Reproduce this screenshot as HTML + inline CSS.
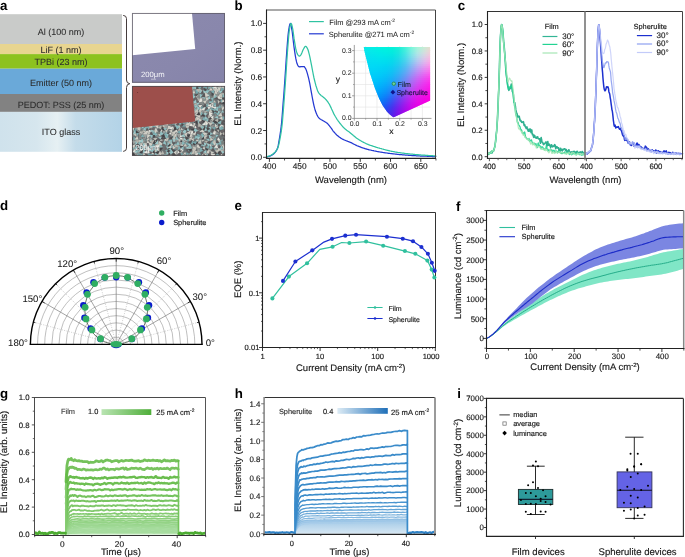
<!DOCTYPE html>
<html lang="en">
<head>
<meta charset="utf-8">
<title>Figure</title>
<style>
html,body{margin:0;padding:0;background:#fff;}
body{width:685px;height:557px;overflow:hidden;}
svg{display:block;font-family:"Liberation Sans",Arial,Helvetica,sans-serif;text-rendering:geometricPrecision;}
</style>
</head>
<body>
<svg width="685" height="557" viewBox="0 0 685 557">
<rect x="0" y="0" width="685" height="557" fill="#ffffff"/>
<g id="pa">
<text x="0" y="9.9" font-size="13.3" fill="#000" font-weight="bold">a</text>
<defs><linearGradient id="ito" x1="0" x2="1" y1="0" y2="0"><stop offset="0" stop-color="#cfe2ec"/><stop offset="0.3" stop-color="#d6e6ee"/><stop offset="0.47" stop-color="#e6f0f3"/><stop offset="0.62" stop-color="#c4dcea"/><stop offset="1" stop-color="#b3d3e7"/></linearGradient></defs>
<rect x="0" y="14.2" width="122" height="29.8" fill="#c9cbc9" stroke="none" stroke-width="0.8"/>
<rect x="0" y="44" width="122" height="10.1" fill="#e8d590" stroke="none" stroke-width="0.8"/>
<rect x="0" y="54.1" width="122" height="14.6" fill="#8dc21f" stroke="none" stroke-width="0.8"/>
<rect x="0" y="68.7" width="122" height="25.3" fill="#6aa9d9" stroke="none" stroke-width="0.8"/>
<rect x="0" y="94" width="122" height="17.9" fill="#828282" stroke="none" stroke-width="0.8"/>
<rect x="0" y="111.9" width="122" height="39.9" fill="url(#ito)" stroke="none" stroke-width="0.8"/>
<text x="61" y="35.1" font-size="9" text-anchor="middle" fill="#2b2b2b" stroke="#2b2b2b" stroke-width="0.06">Al (100 nm)</text>
<text x="61" y="52.9" font-size="9" text-anchor="middle" fill="#2b2b2b" stroke="#2b2b2b" stroke-width="0.06">LiF (1 nm)</text>
<text x="61" y="65.4" font-size="9" text-anchor="middle" fill="#2b2b2b" stroke="#2b2b2b" stroke-width="0.06">TPBi (23 nm)</text>
<text x="61" y="86.1" font-size="9" text-anchor="middle" fill="#2b2b2b" stroke="#2b2b2b" stroke-width="0.06">Emitter (50 nm)</text>
<text x="61" y="107.9" font-size="9" text-anchor="middle" fill="#2b2b2b" stroke="#2b2b2b" stroke-width="0.06">PEDOT: PSS (25 nm)</text>
<text x="61" y="135" font-size="9" text-anchor="middle" fill="#2b2b2b" stroke="#2b2b2b" stroke-width="0.06">ITO glass</text>
<path d="M123.2,15.4 Q126.5,15.6 126.5,18.6 L126.5,80 Q126.5,83.4 129.8,83.7 Q126.5,84 126.5,87.5 L126.5,148.2 Q126.5,151.2 123.2,151.4" fill="none" stroke="#453c3c" stroke-width="1"/>
<defs><linearGradient id="purp" x1="0" x2="1" y1="0" y2="1"><stop offset="0" stop-color="#8c8aae"/><stop offset="0.6" stop-color="#8987ac"/><stop offset="1" stop-color="#8583a9"/></linearGradient><clipPath id="cimg2"><rect x="132" y="86" width="93" height="69.9"/></clipPath></defs>
<rect x="132" y="13" width="93" height="69.8" fill="url(#purp)" stroke="none" stroke-width="0.8"/>
<path d="M132.3,13.3 L192,13.3 L195.2,49 L132.3,55.2 Z" fill="#fff"/>
<rect x="132.45" y="13.45" width="92.05" height="68.85" fill="none" stroke="#5c5862" stroke-width="1" stroke-opacity="0.75"/>
<text x="141" y="77.2" font-size="7.7" fill="#f4f4f8">200μm</text>
<line x1="151" y1="79.2" x2="156" y2="79.2" stroke="#f4f4f8" stroke-width="0.5"/>
<rect x="132" y="86" width="93" height="69.9" fill="#6c7173" stroke="none" stroke-width="0.8"/>
<g clip-path="url(#cimg2)">
<path d="M193.7,84.8L195.8,86.9L192.2,87.3Z" fill="#b6b5ad"/>
<path d="M193.7,84.8L192,86.9L191.1,84Z" fill="#e4e3dc"/>
<path d="M193.7,84.8L191.5,83.3L195.2,82.6Z" fill="#d2d1c8"/>
<path d="M193.7,84.8L195.5,82.8L196.4,85.5Z" fill="#6a6668"/>
<path d="M198,83.9L196,86.8L194.8,82.3Z" fill="#76a6aa"/>
<path d="M198,83.9L195.1,81.9L199.8,80.8Z" fill="#7a807e"/>
<path d="M198,83.9L199.9,81.1L201.3,84.5Z" fill="#cfcdc4"/>
<path d="M198,83.9L200.4,85.5L196.4,86.2Z" fill="#444346"/>
<path d="M203.5,84.8L206.8,85.3L203.6,88.2Z" fill="#93c1c3"/>
<path d="M203.5,84.8L202.8,87.9L200.3,84.2Z" fill="#605d60"/>
<path d="M203.5,84.8L199.8,84.1L203.6,81.1Z" fill="#7eaeb1"/>
<path d="M203.5,84.8L204,81.6L206.6,84.1Z" fill="#cfcdc4"/>
<path d="M209.6,84.9L211,88.6L206.9,87.8Z" fill="#c4c3ba"/>
<path d="M209.6,84.9L206.1,85.9L207.7,81.9Z" fill="#9aa09e"/>
<path d="M209.6,84.9L208.3,81.4L212.9,83.2Z" fill="#7eaeb1"/>
<path d="M209.6,84.9L213.6,84.1L211.1,88.7Z" fill="#5a585a"/>
<path d="M213.1,82.8L214.2,86.3L210.3,85.2Z" fill="#9cc8c9"/>
<path d="M213.1,82.8L209.8,83.8L210.9,80.2Z" fill="#444346"/>
<path d="M213.1,82.8L212.7,79.2L216.5,81.7Z" fill="#88b8ba"/>
<path d="M213.1,82.8L216,82.3L214.5,85.5Z" fill="#4d4c4e"/>
<path d="M219.4,84L221.2,87.9L216.6,87.2Z" fill="#88b8ba"/>
<path d="M219.4,84L216.1,85.8L217.2,80.9Z" fill="#7a807e"/>
<path d="M219.4,84L217.3,80.2L223.1,81.7Z" fill="#b6b5ad"/>
<path d="M219.4,84L222.3,81.5L222.5,86.2Z" fill="#6a6668"/>
<path d="M223.2,83L226.2,83.8L223.2,86Z" fill="#9cc8c9"/>
<path d="M223.2,83L222.3,85.6L220.5,82.6Z" fill="#cfcdc4"/>
<path d="M223.2,83L220.4,81.8L223.7,79.9Z" fill="#88b8ba"/>
<path d="M223.2,83L224.4,80.2L226,84Z" fill="#4d4c4e"/>
<path d="M228.8,84.3L226.5,86.8L226.2,82Z" fill="#7eaeb1"/>
<path d="M228.8,84.3L226.2,81.3L230.6,80.7Z" fill="#5a585a"/>
<path d="M228.8,84.3L231.2,81.8L231.7,86.1Z" fill="#7eaeb1"/>
<path d="M228.8,84.3L231.8,87L226.2,87.3Z" fill="#4d4c4e"/>
<path d="M190.4,88.7L187.8,91.3L187.5,86.3Z" fill="#d2d1c8"/>
<path d="M190.4,88.7L188.1,85.6L192.7,85.5Z" fill="#5a585a"/>
<path d="M190.4,88.7L193.6,86.2L193.7,91Z" fill="#9cc8c9"/>
<path d="M190.4,88.7L192.5,91.4L188.2,91.3Z" fill="#c4c3ba"/>
<path d="M196.1,89.3L200.2,90.6L196,93.6Z" fill="#93c1c3"/>
<path d="M196.1,89.3L194.3,92.9L192.1,88.7Z" fill="#858a89"/>
<path d="M196.1,89.3L192.1,88.2L196.1,85.1Z" fill="#93c1c3"/>
<path d="M196.1,89.3L197.1,85.6L200,89.9Z" fill="#4d4c4e"/>
<path d="M200.2,89.3L203.2,90.9L199,92.6Z" fill="#b6b5ad"/>
<path d="M200.2,89.3L198.8,92.1L197.3,88Z" fill="#5a585a"/>
<path d="M200.2,89.3L197.4,87.8L201.4,86.4Z" fill="#7eaeb1"/>
<path d="M200.2,89.3L202,86.4L203.4,90.5Z" fill="#6a6668"/>
<path d="M206.7,88.9L209.8,90.4L206.4,92.2Z" fill="#76a6aa"/>
<path d="M206.7,88.9L205.3,91.9L203.5,88Z" fill="#4d4c4e"/>
<path d="M206.7,88.9L203.9,87.6L207.7,86Z" fill="#76a6aa"/>
<path d="M206.7,88.9L207.8,85.9L209.8,89.8Z" fill="#6a6668"/>
<path d="M211.1,87.7L208,89.3L208.8,85.1Z" fill="#7eaeb1"/>
<path d="M211.1,87.7L209,85.3L212.6,84.9Z" fill="#d2d1c8"/>
<path d="M211.1,87.7L213.7,85.6L214.1,89.1Z" fill="#93c1c3"/>
<path d="M211.1,87.7L213.1,90.8L208.6,90.4Z" fill="#cfcdc4"/>
<path d="M217,89.1L220.8,89.5L216.9,93Z" fill="#cfcdc4"/>
<path d="M217,89.1L216.5,93.3L212.7,89.3Z" fill="#cfcdc4"/>
<path d="M217,89.1L212.5,88.3L216.2,84.7Z" fill="#e4e3dc"/>
<path d="M217,89.1L217.1,84.7L221.2,87.8Z" fill="#8f9492"/>
<path d="M221,87.6L225,88.9L221,91.8Z" fill="#76a6aa"/>
<path d="M221,87.6L219.3,91L217.3,87.3Z" fill="#d2d1c8"/>
<path d="M221,87.6L217.6,86L221.5,83.9Z" fill="#e4e3dc"/>
<path d="M221,87.6L222.8,83.6L225.2,89Z" fill="#c4c3ba"/>
<path d="M227,87.5L225.3,90.8L223.4,86.6Z" fill="#88b8ba"/>
<path d="M227,87.5L223.4,85.7L228.8,83.8Z" fill="#858a89"/>
<path d="M227,87.5L227.9,83.8L230.8,87.8Z" fill="#88b8ba"/>
<path d="M227,87.5L230.6,88.8L226.6,91.3Z" fill="#605d60"/>
<path d="M192.6,93.2L195.8,94.4L192.1,96.6Z" fill="#88b8ba"/>
<path d="M192.6,93.2L191.6,96.4L189.3,93.1Z" fill="#5a585a"/>
<path d="M192.6,93.2L189.4,92.5L192.2,90Z" fill="#93c1c3"/>
<path d="M192.6,93.2L193.9,90.1L195.8,94.4Z" fill="#d2d1c8"/>
<path d="M198.6,92.2L196,95.4L195.3,89.7Z" fill="#76a6aa"/>
<path d="M198.6,92.2L196.1,88.9L201.3,89.1Z" fill="#b6b5ad"/>
<path d="M198.6,92.2L201.3,89.5L201.8,94.2Z" fill="#93c1c3"/>
<path d="M198.6,92.2L201,94.6L197.1,95.2Z" fill="#7a807e"/>
<path d="M203.9,93.4L204.6,96.8L201.2,95.6Z" fill="#76a6aa"/>
<path d="M203.9,93.4L200.1,93.9L203.2,89.7Z" fill="#5a585a"/>
<path d="M203.9,93.4L202.9,90.1L207.2,92.4Z" fill="#9cc8c9"/>
<path d="M203.9,93.4L207.7,92.7L204.8,97.2Z" fill="#5a585a"/>
<path d="M207.6,93.5L210.4,95.1L206.7,96.7Z" fill="#76a6aa"/>
<path d="M207.6,93.5L205.6,96.3L204.4,92.1Z" fill="#b6b5ad"/>
<path d="M207.6,93.5L204.7,91.1L209.8,90.5Z" fill="#93c1c3"/>
<path d="M207.6,93.5L209.4,90.7L210.9,94Z" fill="#7a807e"/>
<path d="M214.1,93.8L217.8,95.9L213.3,98Z" fill="#cfcdc4"/>
<path d="M214.1,93.8L211.8,96.4L211.3,91.6Z" fill="#4d4c4e"/>
<path d="M214.1,93.8L210.7,91.8L214.3,89.8Z" fill="#7eaeb1"/>
<path d="M214.1,93.8L215.7,90.5L217.7,93.9Z" fill="#cfcdc4"/>
<path d="M220.3,93.2L221.9,96.1L218.2,95.9Z" fill="#d2d1c8"/>
<path d="M220.3,93.2L217.2,94.5L218.7,90.2Z" fill="#9aa09e"/>
<path d="M220.3,93.2L218.4,90.4L222.8,91.1Z" fill="#9cc8c9"/>
<path d="M220.3,93.2L223.4,91.5L222.3,96.1Z" fill="#9aa09e"/>
<path d="M224.6,93.1L224.2,96.3L221.4,93.4Z" fill="#b6b5ad"/>
<path d="M224.6,93.1L221.6,92.5L223.9,90.1Z" fill="#605d60"/>
<path d="M224.6,93.1L224.9,89.5L228.3,92.9Z" fill="#e4e3dc"/>
<path d="M224.6,93.1L227.8,93.3L224.9,96.4Z" fill="#4d4c4e"/>
<path d="M229.6,93.4L227.6,96.9L225.7,92.3Z" fill="#b6b5ad"/>
<path d="M229.6,93.4L226.4,91.5L231.5,90.2Z" fill="#8f9492"/>
<path d="M229.6,93.4L232.1,90.3L233.5,94.4Z" fill="#cfcdc4"/>
<path d="M229.6,93.4L233.5,95.6L228.3,97.7Z" fill="#8f9492"/>
<path d="M190.9,98.9L190.3,103.1L186.7,98.7Z" fill="#76a6aa"/>
<path d="M190.9,98.9L187.2,98.9L189.5,95.6Z" fill="#c4c3ba"/>
<path d="M190.9,98.9L191,95.1L194.6,98.3Z" fill="#88b8ba"/>
<path d="M190.9,98.9L195,99.5L191.6,103Z" fill="#5a585a"/>
<path d="M195.9,96.7L193.2,98.8L192.9,95Z" fill="#9cc8c9"/>
<path d="M195.9,96.7L193.8,93.4L198.7,94Z" fill="#5a585a"/>
<path d="M195.9,96.7L199,94.3L198.4,99.7Z" fill="#cfcdc4"/>
<path d="M195.9,96.7L198.1,99.9L192.8,99.1Z" fill="#6a6668"/>
<path d="M200.2,97.9L200.8,102.6L196.3,100.5Z" fill="#b6b5ad"/>
<path d="M200.2,97.9L195.8,97.8L199.9,93.6Z" fill="#858a89"/>
<path d="M200.2,97.9L199.6,93.8L203.6,95.6Z" fill="#93c1c3"/>
<path d="M200.2,97.9L204.1,97.4L201.7,101.5Z" fill="#9aa09e"/>
<path d="M205.4,97.3L205.1,100.9L201.7,96.9Z" fill="#9cc8c9"/>
<path d="M205.4,97.3L201,96.9L204.1,93.1Z" fill="#5a585a"/>
<path d="M205.4,97.3L205.1,92.8L209.5,95.4Z" fill="#d2d1c8"/>
<path d="M205.4,97.3L209.8,97.7L206.8,101.5Z" fill="#cfcdc4"/>
<path d="M210.7,98.5L207.5,99.8L209.1,95.4Z" fill="#9cc8c9"/>
<path d="M210.7,98.5L209.8,95.3L213.9,97.6Z" fill="#7a807e"/>
<path d="M210.7,98.5L213.8,97.2L212.9,101.1Z" fill="#88b8ba"/>
<path d="M210.7,98.5L211.4,102.2L207.7,100.7Z" fill="#6a6668"/>
<path d="M217.1,96.9L213.8,98.2L215.1,94Z" fill="#88b8ba"/>
<path d="M217.1,96.9L215,93.7L220.4,94.8Z" fill="#8f9492"/>
<path d="M217.1,96.9L220.5,94.9L219.7,99.9Z" fill="#e4e3dc"/>
<path d="M217.1,96.9L218.3,100L214.3,98.7Z" fill="#5a585a"/>
<path d="M222.3,97.4L221.3,101.1L218.5,97.6Z" fill="#d2d1c8"/>
<path d="M222.3,97.4L218.5,96.5L221.6,93.6Z" fill="#c4c3ba"/>
<path d="M222.3,97.4L222.9,93.6L226.1,97.8Z" fill="#88b8ba"/>
<path d="M222.3,97.4L226.4,97.7L222.1,101.5Z" fill="#4d4c4e"/>
<path d="M227.8,98.9L230.6,100.5L226.6,101.8Z" fill="#76a6aa"/>
<path d="M227.8,98.9L225.7,101.3L225,97.2Z" fill="#5a585a"/>
<path d="M227.8,98.9L225.5,97L228.5,95.9Z" fill="#93c1c3"/>
<path d="M227.8,98.9L229.8,96.2L230.9,100.2Z" fill="#444346"/>
<path d="M191.5,101.7L187.1,102.3L189.5,97.8Z" fill="#b6b5ad"/>
<path d="M191.5,101.7L190.9,97.5L195.6,100.6Z" fill="#6a6668"/>
<path d="M191.5,101.7L195.4,100.5L193.8,105.1Z" fill="#7eaeb1"/>
<path d="M191.5,101.7L192.8,105.9L188,104.4Z" fill="#858a89"/>
<path d="M196.8,102.9L193.4,103.2L195.6,99.6Z" fill="#9cc8c9"/>
<path d="M196.8,102.9L196.4,99.5L199.9,101.6Z" fill="#6a6668"/>
<path d="M196.8,102.9L199.7,102.8L197.6,105.6Z" fill="#9cc8c9"/>
<path d="M196.8,102.9L196.8,106.3L193.5,103.9Z" fill="#b6b5ad"/>
<path d="M202.8,101.4L198.6,102.4L201,97.5Z" fill="#e4e3dc"/>
<path d="M202.8,101.4L202,97.5L206.1,99.3Z" fill="#8f9492"/>
<path d="M202.8,101.4L206.8,99.9L205.8,104.4Z" fill="#cfcdc4"/>
<path d="M202.8,101.4L204.1,105.5L198.9,103.3Z" fill="#858a89"/>
<path d="M209.1,103.3L208.5,106.8L205.6,104.1Z" fill="#b6b5ad"/>
<path d="M209.1,103.3L205.4,102.4L208.5,99.6Z" fill="#858a89"/>
<path d="M209.1,103.3L209.6,100.3L212.1,103.1Z" fill="#93c1c3"/>
<path d="M209.1,103.3L212.4,103.5L209.8,106.6Z" fill="#605d60"/>
<path d="M213.5,102.6L216.7,103.4L213.8,105.9Z" fill="#76a6aa"/>
<path d="M213.5,102.6L213.4,105.5L210.6,102.8Z" fill="#d2d1c8"/>
<path d="M213.5,102.6L210.4,102L213.1,99.6Z" fill="#7eaeb1"/>
<path d="M213.5,102.6L213.9,99.9L216.3,102.5Z" fill="#c4c3ba"/>
<path d="M220,101.4L218.2,103.7L217.6,99.7Z" fill="#c4c3ba"/>
<path d="M220,101.4L218.1,99.2L222,99.2Z" fill="#5a585a"/>
<path d="M220,101.4L222,98.8L222.8,103Z" fill="#7eaeb1"/>
<path d="M220,101.4L222.6,103.6L218.8,104.5Z" fill="#605d60"/>
<path d="M224.6,101.8L221.3,102.4L223,98.9Z" fill="#d2d1c8"/>
<path d="M224.6,101.8L223.6,99L227.4,100.6Z" fill="#4d4c4e"/>
<path d="M224.6,101.8L227.6,101.2L225.9,104.6Z" fill="#9cc8c9"/>
<path d="M224.6,101.8L225.6,105.2L221.4,103.2Z" fill="#444346"/>
<path d="M228.6,103.1L225.2,104.1L227.5,99.9Z" fill="#88b8ba"/>
<path d="M228.6,103.1L227.6,100.3L230.9,101.2Z" fill="#e4e3dc"/>
<path d="M228.6,103.1L231.7,102.1L230.9,105.5Z" fill="#9cc8c9"/>
<path d="M228.6,103.1L229.6,106.2L225.7,104.7Z" fill="#858a89"/>
<path d="M190.6,106L192.5,109.2L187.4,107.9Z" fill="#76a6aa"/>
<path d="M190.6,106L187.2,107.4L188,103.4Z" fill="#cfcdc4"/>
<path d="M190.6,106L188.9,103.3L192.6,103.5Z" fill="#c4c3ba"/>
<path d="M190.6,106L194,104.6L192.9,108.9Z" fill="#858a89"/>
<path d="M195.8,108.2L198.6,111.2L193,111.2Z" fill="#88b8ba"/>
<path d="M195.8,108.2L193.1,110.3L192.9,106.4Z" fill="#8f9492"/>
<path d="M195.8,108.2L193.4,105.2L198.3,105.4Z" fill="#93c1c3"/>
<path d="M195.8,108.2L199,106.3L197.8,111.3Z" fill="#8f9492"/>
<path d="M200.3,107.9L197.6,110.5L197,106.1Z" fill="#9cc8c9"/>
<path d="M200.3,107.9L198.1,105.2L202.2,105Z" fill="#e4e3dc"/>
<path d="M200.3,107.9L202.8,105.8L202.8,110Z" fill="#76a6aa"/>
<path d="M200.3,107.9L202.8,110.7L198.8,111.4Z" fill="#e4e3dc"/>
<path d="M206.1,107.1L205.9,110.9L202.3,107.5Z" fill="#88b8ba"/>
<path d="M206.1,107.1L202,107.4L205.7,103Z" fill="#5a585a"/>
<path d="M206.1,107.1L206.8,103.2L209.9,105.9Z" fill="#76a6aa"/>
<path d="M206.1,107.1L210.2,107.7L206.7,111.2Z" fill="#605d60"/>
<path d="M210.7,107.3L213.6,109.3L210,110.8Z" fill="#76a6aa"/>
<path d="M210.7,107.3L208.7,110.2L207.3,106.6Z" fill="#e4e3dc"/>
<path d="M210.7,107.3L207.6,105.3L211.7,103.8Z" fill="#e4e3dc"/>
<path d="M210.7,107.3L212.5,104.5L214,107.9Z" fill="#e4e3dc"/>
<path d="M216,106.7L219.3,106.6L216.6,110Z" fill="#93c1c3"/>
<path d="M216,106.7L216,110L212.6,106.9Z" fill="#e4e3dc"/>
<path d="M216,106.7L213.1,105.9L216.5,103.8Z" fill="#93c1c3"/>
<path d="M216,106.7L216.3,103.1L219.4,106Z" fill="#6a6668"/>
<path d="M221.2,107.5L218.1,108.6L219.9,104.6Z" fill="#7eaeb1"/>
<path d="M221.2,107.5L220.7,104.3L224.5,106.9Z" fill="#9aa09e"/>
<path d="M221.2,107.5L224.7,106.9L222.6,110.8Z" fill="#d2d1c8"/>
<path d="M221.2,107.5L222.2,110.3L218.5,108.7Z" fill="#7a807e"/>
<path d="M227,107.3L229.2,110.2L225.3,110.5Z" fill="#93c1c3"/>
<path d="M227,107.3L224.2,109.3L224.6,104.8Z" fill="#6a6668"/>
<path d="M227,107.3L224.9,104.1L230.1,105Z" fill="#7eaeb1"/>
<path d="M227,107.3L229.9,105.7L229.1,109.8Z" fill="#6a6668"/>
<path d="M193.2,112.6L189.1,114.6L190,109.4Z" fill="#cfcdc4"/>
<path d="M193.2,112.6L191.1,109.3L195.3,109.4Z" fill="#9aa09e"/>
<path d="M193.2,112.6L196.4,110.1L196.3,115.2Z" fill="#b6b5ad"/>
<path d="M193.2,112.6L195.3,116.1L190.4,115.6Z" fill="#c4c3ba"/>
<path d="M198.5,112.5L197.7,116.7L194.2,112.3Z" fill="#e4e3dc"/>
<path d="M198.5,112.5L194.3,112.1L197.7,108.4Z" fill="#c4c3ba"/>
<path d="M198.5,112.5L199.9,108.9L202.4,112.9Z" fill="#c4c3ba"/>
<path d="M198.5,112.5L202.9,113.1L199.4,116.8Z" fill="#b6b5ad"/>
<path d="M204.4,110.6L208.1,111.5L204.8,114.4Z" fill="#d2d1c8"/>
<path d="M204.4,110.6L202.6,113.9L200.9,109.1Z" fill="#8f9492"/>
<path d="M204.4,110.6L200.9,109.4L205.2,107Z" fill="#e4e3dc"/>
<path d="M204.4,110.6L206,107.1L208.1,111.2Z" fill="#605d60"/>
<path d="M209,111.8L213,113.3L209.2,116.1Z" fill="#e4e3dc"/>
<path d="M209,111.8L207.2,115.5L204.9,111.6Z" fill="#7a807e"/>
<path d="M209,111.8L205.5,110.5L209.6,108.2Z" fill="#7eaeb1"/>
<path d="M209,111.8L210.3,108.4L212.6,112.4Z" fill="#c4c3ba"/>
<path d="M214.7,111.2L217.3,112.9L213.1,113.8Z" fill="#76a6aa"/>
<path d="M214.7,111.2L213.2,113.7L212.2,109.9Z" fill="#4d4c4e"/>
<path d="M214.7,111.2L212,109.3L216.4,108.3Z" fill="#7eaeb1"/>
<path d="M214.7,111.2L216.5,109L217,113Z" fill="#4d4c4e"/>
<path d="M218,110.9L221,111.5L217.7,114Z" fill="#9cc8c9"/>
<path d="M218,110.9L217,113.6L215,111.1Z" fill="#605d60"/>
<path d="M218,110.9L214.7,110.3L218.4,107.6Z" fill="#93c1c3"/>
<path d="M218,110.9L219.1,107.6L221.3,111.6Z" fill="#858a89"/>
<path d="M224.4,112.5L221.1,113.4L222,110Z" fill="#93c1c3"/>
<path d="M224.4,112.5L223.1,109.1L227.5,110.7Z" fill="#7a807e"/>
<path d="M224.4,112.5L227.7,111.3L226.5,115.3Z" fill="#93c1c3"/>
<path d="M224.4,112.5L225.8,115.9L221.7,115Z" fill="#4d4c4e"/>
<path d="M229.8,112.1L232.9,112.8L230.1,115.2Z" fill="#88b8ba"/>
<path d="M229.8,112.1L229.2,114.9L227,112.7Z" fill="#8f9492"/>
<path d="M229.8,112.1L226.4,111.3L229.1,108.6Z" fill="#9cc8c9"/>
<path d="M229.8,112.1L230.9,108.9L233.1,113.1Z" fill="#6a6668"/>
<path d="M188.9,117.4L185,119.2L185.8,114.5Z" fill="#c4c3ba"/>
<path d="M188.9,117.4L188,113.8L192.2,115.8Z" fill="#858a89"/>
<path d="M188.9,117.4L192.4,115.7L191.6,120.2Z" fill="#93c1c3"/>
<path d="M188.9,117.4L190.2,121.6L184.8,119Z" fill="#444346"/>
<path d="M194.6,115.3L191.6,117.6L191.3,113.6Z" fill="#88b8ba"/>
<path d="M194.6,115.3L192,112.6L197.3,112.6Z" fill="#8f9492"/>
<path d="M194.6,115.3L197.1,112.4L198.1,116.8Z" fill="#c4c3ba"/>
<path d="M194.6,115.3L197.3,117.6L193.6,118.7Z" fill="#605d60"/>
<path d="M200.5,115.3L200.3,119.3L196.6,115.2Z" fill="#cfcdc4"/>
<path d="M200.5,115.3L196.4,115L199,111.5Z" fill="#444346"/>
<path d="M200.5,115.3L201.4,111.8L204.1,115.6Z" fill="#7eaeb1"/>
<path d="M200.5,115.3L204.2,115.3L201.1,118.9Z" fill="#5a585a"/>
<path d="M205.3,115.9L208.1,118.9L203.8,119.7Z" fill="#93c1c3"/>
<path d="M205.3,115.9L202,117.8L202.3,113.6Z" fill="#444346"/>
<path d="M205.3,115.9L203.6,112.9L207.7,113.4Z" fill="#9cc8c9"/>
<path d="M205.3,115.9L208.2,113.3L208.4,118.1Z" fill="#6a6668"/>
<path d="M210.6,117.2L207.8,118.4L208.7,114.7Z" fill="#b6b5ad"/>
<path d="M210.6,117.2L209.1,114.3L212.8,114.7Z" fill="#e4e3dc"/>
<path d="M210.6,117.2L213.6,115.4L213.1,119.6Z" fill="#e4e3dc"/>
<path d="M210.6,117.2L212.4,119.7L208.5,119.3Z" fill="#444346"/>
<path d="M217.4,115.7L218.8,119L214.2,117.3Z" fill="#9cc8c9"/>
<path d="M217.4,115.7L214.4,117.4L214.8,113.5Z" fill="#858a89"/>
<path d="M217.4,115.7L215.9,112.4L220.4,113.7Z" fill="#88b8ba"/>
<path d="M217.4,115.7L220.2,113.8L220.3,117.4Z" fill="#605d60"/>
<path d="M222.2,116.5L217.7,116.2L221.2,112.2Z" fill="#cfcdc4"/>
<path d="M222.2,116.5L222.5,112L226.4,114.9Z" fill="#6a6668"/>
<path d="M222.2,116.5L226.3,116.8L222.9,120.6Z" fill="#76a6aa"/>
<path d="M222.2,116.5L222.8,120.3L218.8,118.2Z" fill="#d2d1c8"/>
<path d="M228.2,116.7L224.3,117.7L227.1,112.9Z" fill="#88b8ba"/>
<path d="M228.2,116.7L226.7,113.4L231,114.4Z" fill="#4d4c4e"/>
<path d="M228.2,116.7L231.8,115.5L230.1,120.1Z" fill="#d2d1c8"/>
<path d="M228.2,116.7L229.3,120.7L225,119.4Z" fill="#c4c3ba"/>
<path d="M129,120.4L131.4,122.9L127.3,123.3Z" fill="#cfcdc4"/>
<path d="M129,120.4L126.4,123L125.9,118.6Z" fill="#858a89"/>
<path d="M129,120.4L126.6,118.1L130.2,117.3Z" fill="#7eaeb1"/>
<path d="M129,120.4L131.7,117.9L131.7,122.9Z" fill="#9aa09e"/>
<path d="M133.6,121.6L131.8,123.8L131,120.6Z" fill="#b6b5ad"/>
<path d="M133.6,121.6L131.3,119.7L135.5,119.2Z" fill="#d2d1c8"/>
<path d="M133.6,121.6L135.5,119.3L136.5,122.5Z" fill="#76a6aa"/>
<path d="M133.6,121.6L136,123.7L131.9,124.2Z" fill="#8f9492"/>
<path d="M139.6,121.9L141.6,125L137.3,124.8Z" fill="#76a6aa"/>
<path d="M139.6,121.9L137.1,123.8L137.3,119.7Z" fill="#4d4c4e"/>
<path d="M139.6,121.9L137.9,119L141.5,119.1Z" fill="#9cc8c9"/>
<path d="M139.6,121.9L142.5,120.2L141.7,124.4Z" fill="#d2d1c8"/>
<path d="M144.9,120.2L145.6,124.3L141.2,122.1Z" fill="#d2d1c8"/>
<path d="M144.9,120.2L140.6,120.6L143.1,116.4Z" fill="#7a807e"/>
<path d="M144.9,120.2L144.4,116.3L148.7,119.3Z" fill="#7eaeb1"/>
<path d="M144.9,120.2L148.6,120.1L145.4,123.9Z" fill="#4d4c4e"/>
<path d="M150.4,121.6L148.8,125.1L146.6,121.6Z" fill="#88b8ba"/>
<path d="M150.4,121.6L147.2,119.4L152.4,118.3Z" fill="#444346"/>
<path d="M150.4,121.6L151.7,118.1L154.2,121.7Z" fill="#76a6aa"/>
<path d="M150.4,121.6L154.2,123.7L149.2,125.8Z" fill="#858a89"/>
<path d="M155.9,120.2L153,122L153.3,118Z" fill="#d2d1c8"/>
<path d="M155.9,120.2L153.5,117.2L158.5,117.4Z" fill="#6a6668"/>
<path d="M155.9,120.2L159.5,118.4L158.6,123.2Z" fill="#d2d1c8"/>
<path d="M155.9,120.2L157.5,123.7L153,122.7Z" fill="#858a89"/>
<path d="M160.6,121.3L164.2,123.2L160.4,125.5Z" fill="#7eaeb1"/>
<path d="M160.6,121.3L159.5,125.4L156.5,120.6Z" fill="#4d4c4e"/>
<path d="M160.6,121.3L157.2,119.6L161,117.5Z" fill="#b6b5ad"/>
<path d="M160.6,121.3L162.1,117.8L164.4,121.8Z" fill="#858a89"/>
<path d="M167,121.5L170.4,122L167,125.1Z" fill="#9cc8c9"/>
<path d="M167,121.5L166.9,124.7L163.9,122Z" fill="#605d60"/>
<path d="M167,121.5L163.8,121.2L166.4,118.4Z" fill="#76a6aa"/>
<path d="M167,121.5L166.9,117.8L170.6,121Z" fill="#e4e3dc"/>
<path d="M172.1,120.3L174.6,122.9L170.9,123.7Z" fill="#76a6aa"/>
<path d="M172.1,120.3L170.3,122.7L169.4,119.1Z" fill="#605d60"/>
<path d="M172.1,120.3L169.4,118.4L173.8,117.4Z" fill="#93c1c3"/>
<path d="M172.1,120.3L174.3,117.6L175.4,121.6Z" fill="#444346"/>
<path d="M175.7,121.6L178.4,123.5L174.3,124.5Z" fill="#7eaeb1"/>
<path d="M175.7,121.6L173.7,123.7L173.5,119.6Z" fill="#e4e3dc"/>
<path d="M175.7,121.6L173.5,119.6L177.5,119.2Z" fill="#e4e3dc"/>
<path d="M175.7,121.6L177.4,119L178.8,122.2Z" fill="#7a807e"/>
<path d="M182.1,120.3L184.9,120.8L181.7,123.1Z" fill="#76a6aa"/>
<path d="M182.1,120.3L181.5,123.5L178.9,119.9Z" fill="#cfcdc4"/>
<path d="M182.1,120.3L178.9,120.4L181.7,117.1Z" fill="#cfcdc4"/>
<path d="M182.1,120.3L182.2,117.2L185,119Z" fill="#7a807e"/>
<path d="M187.4,120.8L189.7,124.4L184.3,123.7Z" fill="#93c1c3"/>
<path d="M187.4,120.8L184.4,123L184.7,118.3Z" fill="#d2d1c8"/>
<path d="M187.4,120.8L184.9,117.4L190.8,118.2Z" fill="#c4c3ba"/>
<path d="M187.4,120.8L190.5,119L189.4,123.8Z" fill="#4d4c4e"/>
<path d="M192.4,120L188.2,119.8L192.5,115.8Z" fill="#76a6aa"/>
<path d="M192.4,120L191.6,115.5L196.6,118.3Z" fill="#6a6668"/>
<path d="M192.4,120L196.2,120.2L193.8,123.5Z" fill="#7eaeb1"/>
<path d="M192.4,120L192.7,123.8L188.7,121.1Z" fill="#858a89"/>
<path d="M197.4,120.5L193.2,120.7L197.1,116.2Z" fill="#b6b5ad"/>
<path d="M197.4,120.5L196.1,116.7L200.8,118.3Z" fill="#cfcdc4"/>
<path d="M197.4,120.5L201,119.9L198.1,124Z" fill="#9cc8c9"/>
<path d="M197.4,120.5L197.7,124.8L193.6,122.5Z" fill="#444346"/>
<path d="M202.1,119.8L200,122.8L198.7,118.4Z" fill="#d2d1c8"/>
<path d="M202.1,119.8L198.5,118L203.5,116Z" fill="#8f9492"/>
<path d="M202.1,119.8L204,116.5L205.8,120.7Z" fill="#7eaeb1"/>
<path d="M202.1,119.8L205.3,122.1L200.5,123.5Z" fill="#444346"/>
<path d="M207.9,121.8L210.6,123L207.4,124.7Z" fill="#e4e3dc"/>
<path d="M207.9,121.8L206.4,124.4L205,120.8Z" fill="#cfcdc4"/>
<path d="M207.9,121.8L205.2,120L208.5,118.7Z" fill="#93c1c3"/>
<path d="M207.9,121.8L209.5,119L211,122.3Z" fill="#5a585a"/>
<path d="M212.8,121.5L215.1,123.3L211,123.9Z" fill="#93c1c3"/>
<path d="M212.8,121.5L210.9,124.5L209.7,119.9Z" fill="#9aa09e"/>
<path d="M212.8,121.5L210.2,119L214.4,118.3Z" fill="#b6b5ad"/>
<path d="M212.8,121.5L214.7,119.3L215.1,123.4Z" fill="#4d4c4e"/>
<path d="M218,122L221.6,123.4L218.1,125.8Z" fill="#7eaeb1"/>
<path d="M218,122L216.3,125.5L214.4,120.4Z" fill="#444346"/>
<path d="M218,122L214.8,120.6L218,118.6Z" fill="#b6b5ad"/>
<path d="M218,122L220.1,118.7L221.3,124Z" fill="#4d4c4e"/>
<path d="M224.9,121.3L226.5,124L223,123.7Z" fill="#9cc8c9"/>
<path d="M224.9,121.3L222.5,122.6L222.9,119.4Z" fill="#5a585a"/>
<path d="M224.9,121.3L223.7,118.7L227.6,120.1Z" fill="#cfcdc4"/>
<path d="M224.9,121.3L228,119.9L226.8,124.1Z" fill="#6a6668"/>
<path d="M230.8,120.8L227.6,122.6L228,118.4Z" fill="#d2d1c8"/>
<path d="M230.8,120.8L229.3,117.7L233.6,118.6Z" fill="#4d4c4e"/>
<path d="M230.8,120.8L234.2,119.3L233.4,123.4Z" fill="#7eaeb1"/>
<path d="M230.8,120.8L232,124.1L227.8,122.6Z" fill="#4d4c4e"/>
<path d="M130.5,125L132.6,127.4L128.8,127.7Z" fill="#9cc8c9"/>
<path d="M130.5,125L128.5,127.3L127.7,124.1Z" fill="#cfcdc4"/>
<path d="M130.5,125L128.6,122.9L132,122.7Z" fill="#76a6aa"/>
<path d="M130.5,125L132.9,123.3L132.4,127.3Z" fill="#8f9492"/>
<path d="M137.1,126.5L133.4,127.5L135.4,123.1Z" fill="#93c1c3"/>
<path d="M137.1,126.5L135.9,123.1L140.3,124.8Z" fill="#605d60"/>
<path d="M137.1,126.5L141.2,126L138,130.5Z" fill="#d2d1c8"/>
<path d="M137.1,126.5L137.9,130L133.9,128.1Z" fill="#9aa09e"/>
<path d="M141.8,125.8L144.9,126.8L141.5,129.1Z" fill="#93c1c3"/>
<path d="M141.8,125.8L140.8,128.5L139.1,125Z" fill="#7a807e"/>
<path d="M141.8,125.8L138.9,124.3L142,122.5Z" fill="#88b8ba"/>
<path d="M141.8,125.8L143.1,123.1L144.8,126.4Z" fill="#605d60"/>
<path d="M148.6,125.9L149.5,129.9L144.7,127.4Z" fill="#7eaeb1"/>
<path d="M148.6,125.9L145,126.2L147.9,122.4Z" fill="#8f9492"/>
<path d="M148.6,125.9L147.8,121.6L152.6,124.5Z" fill="#88b8ba"/>
<path d="M148.6,125.9L152.8,125.3L150.1,129.8Z" fill="#b6b5ad"/>
<path d="M153.2,124.5L156.7,126.3L151.6,128Z" fill="#7eaeb1"/>
<path d="M153.2,124.5L151.5,128.2L149.1,124.1Z" fill="#c4c3ba"/>
<path d="M153.2,124.5L149.4,122.9L153.7,120.4Z" fill="#76a6aa"/>
<path d="M153.2,124.5L154.8,121.2L156.7,125.4Z" fill="#9aa09e"/>
<path d="M158.7,124.4L158,128.7L154.4,125.3Z" fill="#d2d1c8"/>
<path d="M158.7,124.4L155,124.4L157.5,120.9Z" fill="#5a585a"/>
<path d="M158.7,124.4L158.3,119.9L163.1,123.6Z" fill="#93c1c3"/>
<path d="M158.7,124.4L163.2,125L159.6,128.9Z" fill="#7a807e"/>
<path d="M164.1,125.1L163.9,128.1L161.3,126.2Z" fill="#cfcdc4"/>
<path d="M164.1,125.1L160.9,124.6L163.9,121.9Z" fill="#605d60"/>
<path d="M164.1,125.1L164.3,121.9L167.2,124.4Z" fill="#93c1c3"/>
<path d="M164.1,125.1L167.3,125.7L163.7,128.3Z" fill="#c4c3ba"/>
<path d="M168.1,125.4L172.3,127L167.1,129.9Z" fill="#cfcdc4"/>
<path d="M168.1,125.4L165.8,129.5L163.6,124.2Z" fill="#9aa09e"/>
<path d="M168.1,125.4L164.1,123.8L168.2,121.1Z" fill="#d2d1c8"/>
<path d="M168.1,125.4L169.3,121.6L172,126.5Z" fill="#7a807e"/>
<path d="M174.8,124.4L177.9,125.5L173.8,127.5Z" fill="#93c1c3"/>
<path d="M174.8,124.4L174.6,127.4L172,125.5Z" fill="#605d60"/>
<path d="M174.8,124.4L171.8,124.2L174.2,121.5Z" fill="#7eaeb1"/>
<path d="M174.8,124.4L175.4,121.7L177.5,124.6Z" fill="#d2d1c8"/>
<path d="M179.5,124.9L180.6,128.1L176.5,126.4Z" fill="#cfcdc4"/>
<path d="M179.5,124.9L175.5,125.6L178.5,121Z" fill="#605d60"/>
<path d="M179.5,124.9L178.9,121.5L182.8,123.7Z" fill="#88b8ba"/>
<path d="M179.5,124.9L183.5,124.1L181.2,128.5Z" fill="#6a6668"/>
<path d="M183.9,124.4L186.1,126.4L182.3,126.8Z" fill="#76a6aa"/>
<path d="M183.9,124.4L181.6,126.3L181.4,122.7Z" fill="#4d4c4e"/>
<path d="M183.9,124.4L181.8,122L186.2,122.1Z" fill="#76a6aa"/>
<path d="M183.9,124.4L186.3,122.2L186.3,126.6Z" fill="#858a89"/>
<path d="M189.5,126L187.2,129.7L185.3,124.9Z" fill="#c4c3ba"/>
<path d="M189.5,126L185.3,124.5L190.2,121.7Z" fill="#cfcdc4"/>
<path d="M189.5,126L190.8,122.4L193.3,126.3Z" fill="#e4e3dc"/>
<path d="M189.5,126L193.5,128L187.8,130.2Z" fill="#5a585a"/>
<path d="M195.1,125.5L197.5,127.6L194.2,128.6Z" fill="#e4e3dc"/>
<path d="M195.1,125.5L193.2,127.8L192.3,124.5Z" fill="#cfcdc4"/>
<path d="M195.1,125.5L192.6,123.9L195.4,122.6Z" fill="#cfcdc4"/>
<path d="M195.1,125.5L197.1,123.3L197.3,127.4Z" fill="#605d60"/>
<path d="M201.6,125.1L198.2,127.7L198.2,122.4Z" fill="#b6b5ad"/>
<path d="M201.6,125.1L198.4,121.7L203.2,120.7Z" fill="#605d60"/>
<path d="M201.6,125.1L204.7,122.9L203.9,128.1Z" fill="#88b8ba"/>
<path d="M201.6,125.1L204.3,128.2L199,128.2Z" fill="#c4c3ba"/>
<path d="M205.3,125.2L209.1,125.3L205.8,128.9Z" fill="#93c1c3"/>
<path d="M205.3,125.2L204.7,128.5L201.9,125.2Z" fill="#4d4c4e"/>
<path d="M205.3,125.2L202,125.3L204.8,121.9Z" fill="#e4e3dc"/>
<path d="M205.3,125.2L205.1,121.2L209.1,124.2Z" fill="#e4e3dc"/>
<path d="M210.5,126L211.8,129.2L207.9,128.4Z" fill="#93c1c3"/>
<path d="M210.5,126L206.5,127.6L208.4,122.2Z" fill="#605d60"/>
<path d="M210.5,126L208.2,122.7L212.8,122.7Z" fill="#c4c3ba"/>
<path d="M210.5,126L214.3,124.4L212.4,129.7Z" fill="#8f9492"/>
<path d="M217.4,125.9L218.7,128.9L215.2,128.1Z" fill="#c4c3ba"/>
<path d="M217.4,125.9L214.6,127.8L215,123.6Z" fill="#d2d1c8"/>
<path d="M217.4,125.9L216.3,123.3L220.1,124.7Z" fill="#93c1c3"/>
<path d="M217.4,125.9L220,124.5L218.8,128.4Z" fill="#b6b5ad"/>
<path d="M220.8,124.3L223.9,126L219.7,127.7Z" fill="#e4e3dc"/>
<path d="M220.8,124.3L218.6,127.4L217.2,123.3Z" fill="#5a585a"/>
<path d="M220.8,124.3L217.4,122.6L221.3,120.6Z" fill="#88b8ba"/>
<path d="M220.8,124.3L222.9,120.7L224.9,124.9Z" fill="#5a585a"/>
<path d="M227,125.5L223.9,126.4L225.6,122.7Z" fill="#cfcdc4"/>
<path d="M227,125.5L226.1,122.2L229.9,123.7Z" fill="#6a6668"/>
<path d="M227,125.5L230,124.4L228.4,128.4Z" fill="#c4c3ba"/>
<path d="M227,125.5L228.4,128.7L224.3,127.8Z" fill="#d2d1c8"/>
<path d="M128.5,129.4L125.1,131L126.4,126.3Z" fill="#b6b5ad"/>
<path d="M128.5,129.4L126.7,126.1L130.9,126.5Z" fill="#c4c3ba"/>
<path d="M128.5,129.4L131.9,127L130.9,132.8Z" fill="#9cc8c9"/>
<path d="M128.5,129.4L131,132.7L126.2,132.8Z" fill="#4d4c4e"/>
<path d="M133.4,131L130.6,134L129.7,129.1Z" fill="#b6b5ad"/>
<path d="M133.4,131L130.3,128.5L134.3,127.1Z" fill="#d2d1c8"/>
<path d="M133.4,131L136.3,128.1L136.7,133.5Z" fill="#76a6aa"/>
<path d="M133.4,131L135.9,133.5L130.9,133.6Z" fill="#858a89"/>
<path d="M140.1,131.1L142.7,133.4L139.1,134.4Z" fill="#cfcdc4"/>
<path d="M140.1,131.1L137.3,133.9L136.6,129.4Z" fill="#8f9492"/>
<path d="M140.1,131.1L136.9,128.8L140.8,127.2Z" fill="#c4c3ba"/>
<path d="M140.1,131.1L143,128.3L143.3,133.7Z" fill="#7a807e"/>
<path d="M145.9,130.7L149.1,131.4L145.6,134Z" fill="#e4e3dc"/>
<path d="M145.9,130.7L144.4,133.7L142.6,130.3Z" fill="#c4c3ba"/>
<path d="M145.9,130.7L142.5,129.2L145.7,127Z" fill="#93c1c3"/>
<path d="M145.9,130.7L147.2,127.7L149.2,130.6Z" fill="#5a585a"/>
<path d="M151.2,130.5L149.8,133.3L148.3,129.5Z" fill="#e4e3dc"/>
<path d="M151.2,130.5L148.4,129.7L151.4,127.6Z" fill="#605d60"/>
<path d="M151.2,130.5L152.1,127.6L154.2,130.5Z" fill="#cfcdc4"/>
<path d="M151.2,130.5L154,131.4L150.9,133.4Z" fill="#8f9492"/>
<path d="M154.3,130.5L152.8,134.3L150.2,129.9Z" fill="#9cc8c9"/>
<path d="M154.3,130.5L150.5,129.5L153.8,126.6Z" fill="#6a6668"/>
<path d="M154.3,130.5L156,127.2L157.8,131.8Z" fill="#d2d1c8"/>
<path d="M154.3,130.5L157.8,131.4L154.6,134.1Z" fill="#d2d1c8"/>
<path d="M161.2,129.3L164.5,130.6L159.8,132.6Z" fill="#cfcdc4"/>
<path d="M161.2,129.3L159.9,132.6L157.6,129.3Z" fill="#5a585a"/>
<path d="M161.2,129.3L157.7,127.6L161.2,125.4Z" fill="#b6b5ad"/>
<path d="M161.2,129.3L162.7,125.7L164.9,130.3Z" fill="#4d4c4e"/>
<path d="M165,130.4L166.9,132.8L162.7,132.4Z" fill="#76a6aa"/>
<path d="M165,130.4L162.1,132.3L162.6,127.8Z" fill="#444346"/>
<path d="M165,130.4L163.2,127.9L167.1,128.2Z" fill="#93c1c3"/>
<path d="M165,130.4L168,129L166.7,133.2Z" fill="#c4c3ba"/>
<path d="M172.3,129.7L172.1,133.1L169,130.4Z" fill="#cfcdc4"/>
<path d="M172.3,129.7L168.8,128.6L173.3,126.2Z" fill="#e4e3dc"/>
<path d="M172.3,129.7L173.1,126.7L175.4,130.1Z" fill="#c4c3ba"/>
<path d="M172.3,129.7L175.5,130.3L173.1,132.9Z" fill="#858a89"/>
<path d="M176.9,129.4L178.5,133.1L173.5,131.6Z" fill="#d2d1c8"/>
<path d="M176.9,129.4L173.2,130.9L174.9,126Z" fill="#444346"/>
<path d="M176.9,129.4L175.5,125.2L180.4,126.8Z" fill="#88b8ba"/>
<path d="M176.9,129.4L181,128.1L178.9,133.3Z" fill="#605d60"/>
<path d="M181,130.6L180.9,133.7L177.9,130.8Z" fill="#b6b5ad"/>
<path d="M181,130.6L177.7,130.8L179.7,127.6Z" fill="#b6b5ad"/>
<path d="M181,130.6L180.9,127.6L183.9,130.4Z" fill="#c4c3ba"/>
<path d="M181,130.6L184.3,130.5L181.5,133.9Z" fill="#5a585a"/>
<path d="M186.6,130.5L185.1,133.8L183.3,129.2Z" fill="#93c1c3"/>
<path d="M186.6,130.5L183.8,129.1L187.8,127.7Z" fill="#4d4c4e"/>
<path d="M186.6,130.5L188.1,127.7L189.6,131.3Z" fill="#9cc8c9"/>
<path d="M186.6,130.5L190,131.7L186.2,134.1Z" fill="#605d60"/>
<path d="M193.5,131.1L191.9,134.5L189.8,130.5Z" fill="#c4c3ba"/>
<path d="M193.5,131.1L190.4,129.3L195.2,128Z" fill="#444346"/>
<path d="M193.5,131.1L195,128L196.9,131.1Z" fill="#93c1c3"/>
<path d="M193.5,131.1L196.1,132.9L192.8,134.2Z" fill="#605d60"/>
<path d="M198.2,130.5L195,133.3L194.7,128.2Z" fill="#93c1c3"/>
<path d="M198.2,130.5L195.8,126.6L201.5,127.3Z" fill="#6a6668"/>
<path d="M198.2,130.5L200.9,127.8L201.8,132Z" fill="#cfcdc4"/>
<path d="M198.2,130.5L200.4,133.8L196,133.8Z" fill="#6a6668"/>
<path d="M202.6,129.3L205,132.6L199.3,131.8Z" fill="#d2d1c8"/>
<path d="M202.6,129.3L199.3,131.5L199.3,127.2Z" fill="#4d4c4e"/>
<path d="M202.6,129.3L200.2,126.5L204.5,126.2Z" fill="#88b8ba"/>
<path d="M202.6,129.3L205.2,126.9L205.2,131.5Z" fill="#4d4c4e"/>
<path d="M207.4,130.5L204.1,131.2L205.5,127.7Z" fill="#9cc8c9"/>
<path d="M207.4,130.5L206.3,127.1L210.2,128.4Z" fill="#4d4c4e"/>
<path d="M207.4,130.5L210.8,129L209.7,133.4Z" fill="#88b8ba"/>
<path d="M207.4,130.5L208,133.8L204.2,131.4Z" fill="#605d60"/>
<path d="M214.6,130.1L217.4,132.9L212.5,133.4Z" fill="#cfcdc4"/>
<path d="M214.6,130.1L211.6,132.2L211.7,127.9Z" fill="#5a585a"/>
<path d="M214.6,130.1L212,127.6L215.9,126.7Z" fill="#76a6aa"/>
<path d="M214.6,130.1L217.4,128.1L217.4,132.2Z" fill="#5a585a"/>
<path d="M219.4,129.5L219.3,132.5L216.3,129.5Z" fill="#b6b5ad"/>
<path d="M219.4,129.5L216.5,129.3L218.7,126.8Z" fill="#444346"/>
<path d="M219.4,129.5L219.2,126.2L222.5,128.5Z" fill="#93c1c3"/>
<path d="M219.4,129.5L222.3,129.7L219.4,132.4Z" fill="#4d4c4e"/>
<path d="M224,129.2L219.7,130.5L221.4,125.5Z" fill="#7eaeb1"/>
<path d="M224,129.2L223.1,125.5L227.4,127.6Z" fill="#b6b5ad"/>
<path d="M224,129.2L228.2,128.6L225.8,133Z" fill="#7eaeb1"/>
<path d="M224,129.2L224.4,132.7L220.4,129.9Z" fill="#6a6668"/>
<path d="M230,130.8L233.1,132.4L229.9,134.3Z" fill="#cfcdc4"/>
<path d="M230,130.8L228.5,133.5L227.1,130Z" fill="#444346"/>
<path d="M230,130.8L227.1,128.9L231,127.5Z" fill="#e4e3dc"/>
<path d="M230,130.8L232.3,128L233.2,132.7Z" fill="#444346"/>
<path d="M130.7,134.9L133.5,135.6L131.1,137.8Z" fill="#cfcdc4"/>
<path d="M130.7,134.9L130,137.8L127.7,135.5Z" fill="#4d4c4e"/>
<path d="M130.7,134.9L127.6,133.6L131.4,131.6Z" fill="#9cc8c9"/>
<path d="M130.7,134.9L131.7,132.3L133.4,135.6Z" fill="#9aa09e"/>
<path d="M136.1,133.6L132.9,134.2L134.7,130.7Z" fill="#9cc8c9"/>
<path d="M136.1,133.6L135.8,130.3L139.4,132.7Z" fill="#444346"/>
<path d="M136.1,133.6L138.9,132.8L137.5,136.2Z" fill="#7eaeb1"/>
<path d="M136.1,133.6L136.7,136.7L133.1,134.6Z" fill="#c4c3ba"/>
<path d="M142.3,134L144.7,136.8L140.8,137.3Z" fill="#7eaeb1"/>
<path d="M142.3,134L139.5,136.6L139.1,131.9Z" fill="#8f9492"/>
<path d="M142.3,134L139.9,131.7L143.5,130.9Z" fill="#b6b5ad"/>
<path d="M142.3,134L145.2,131.7L144.9,136.7Z" fill="#8f9492"/>
<path d="M147.2,134.5L151.1,135.1L147,138.5Z" fill="#d2d1c8"/>
<path d="M147.2,134.5L145.7,138.9L142.7,133.6Z" fill="#9aa09e"/>
<path d="M147.2,134.5L142.9,133.9L147.4,130.2Z" fill="#cfcdc4"/>
<path d="M147.2,134.5L148.5,130.9L151.1,134.7Z" fill="#c4c3ba"/>
<path d="M152.9,134.9L151.9,138.5L149.2,134.4Z" fill="#93c1c3"/>
<path d="M152.9,134.9L149.1,134.5L152.2,131.2Z" fill="#5a585a"/>
<path d="M152.9,134.9L153.7,131.1L156.7,135Z" fill="#7eaeb1"/>
<path d="M152.9,134.9L156.8,134.9L153.3,138.8Z" fill="#4d4c4e"/>
<path d="M157.9,134.6L155.2,136.6L155.3,132.5Z" fill="#88b8ba"/>
<path d="M157.9,134.6L156,131.8L160.5,132.6Z" fill="#7a807e"/>
<path d="M157.9,134.6L161,133.4L160.2,137.1Z" fill="#c4c3ba"/>
<path d="M157.9,134.6L159.7,137.4L155.6,137.1Z" fill="#858a89"/>
<path d="M163.9,134L159.8,135.8L160.5,131.1Z" fill="#93c1c3"/>
<path d="M163.9,134L162.2,130.6L166.3,131.1Z" fill="#9aa09e"/>
<path d="M163.9,134L167.5,132L166.3,137.4Z" fill="#7eaeb1"/>
<path d="M163.9,134L165.2,137.8L160.7,136.5Z" fill="#444346"/>
<path d="M168.9,134.2L167.4,136.9L165.9,133.4Z" fill="#93c1c3"/>
<path d="M168.9,134.2L166.4,133.2L169.7,131.7Z" fill="#5a585a"/>
<path d="M168.9,134.2L170.3,131.9L171.6,134.4Z" fill="#e4e3dc"/>
<path d="M168.9,134.2L171.6,135.9L168.4,137.3Z" fill="#6a6668"/>
<path d="M174.2,134.7L171.7,137.2L171.5,132.4Z" fill="#c4c3ba"/>
<path d="M174.2,134.7L171.7,132.3L176,131.8Z" fill="#cfcdc4"/>
<path d="M174.2,134.7L177,132.7L176.3,137.4Z" fill="#cfcdc4"/>
<path d="M174.2,134.7L176.5,137.1L171.9,137.1Z" fill="#c4c3ba"/>
<path d="M180.4,133.9L183.9,135.9L179.3,137.7Z" fill="#e4e3dc"/>
<path d="M180.4,133.9L178.7,137.6L176.4,133.4Z" fill="#9aa09e"/>
<path d="M180.4,133.9L177.1,131.9L181.2,130.1Z" fill="#76a6aa"/>
<path d="M180.4,133.9L181.6,130.4L183.9,135Z" fill="#d2d1c8"/>
<path d="M184,133.9L185.5,137.5L180.6,135.7Z" fill="#9cc8c9"/>
<path d="M184,133.9L180.7,135.7L181.3,131.3Z" fill="#6a6668"/>
<path d="M184,133.9L182.4,130.8L186.5,131.4Z" fill="#9cc8c9"/>
<path d="M184,133.9L187.6,132.2L186.6,136.9Z" fill="#cfcdc4"/>
<path d="M190.3,134.2L193.7,136.3L188.3,137.6Z" fill="#d2d1c8"/>
<path d="M190.3,134.2L189.2,137.9L186.5,134.7Z" fill="#444346"/>
<path d="M190.3,134.2L186.8,132.8L190.5,130.4Z" fill="#cfcdc4"/>
<path d="M190.3,134.2L192.3,130.5L194.3,135.8Z" fill="#e4e3dc"/>
<path d="M195.5,135.2L199.6,136.7L194.1,139.3Z" fill="#88b8ba"/>
<path d="M195.5,135.2L193.4,138.6L191.9,133.3Z" fill="#7a807e"/>
<path d="M195.5,135.2L192.1,134.2L196.1,131.7Z" fill="#d2d1c8"/>
<path d="M195.5,135.2L196.8,131L199.8,135.9Z" fill="#605d60"/>
<path d="M200.4,135.1L198.2,138.5L196.7,133.6Z" fill="#76a6aa"/>
<path d="M200.4,135.1L197.5,132.7L202.1,131.7Z" fill="#6a6668"/>
<path d="M200.4,135.1L203.1,131.9L204,137.4Z" fill="#76a6aa"/>
<path d="M200.4,135.1L203.5,137.7L199.2,139Z" fill="#8f9492"/>
<path d="M204.7,135.6L202.2,138.2L201.4,134Z" fill="#88b8ba"/>
<path d="M204.7,135.6L202.2,132.6L207.5,132.9Z" fill="#d2d1c8"/>
<path d="M204.7,135.6L207.3,132.9L207.6,137.9Z" fill="#b6b5ad"/>
<path d="M204.7,135.6L207.8,137.6L203.3,139Z" fill="#cfcdc4"/>
<path d="M210.1,135.1L210.2,138.8L206.7,136.6Z" fill="#9cc8c9"/>
<path d="M210.1,135.1L206.7,135.2L209.8,131.7Z" fill="#4d4c4e"/>
<path d="M210.1,135.1L210.4,131.9L213.1,134Z" fill="#93c1c3"/>
<path d="M210.1,135.1L213.7,135.2L211.5,138.4Z" fill="#6a6668"/>
<path d="M215.5,134.7L218.6,135.3L215.4,138Z" fill="#93c1c3"/>
<path d="M215.5,134.7L215.5,138.1L212.3,135.8Z" fill="#7a807e"/>
<path d="M215.5,134.7L212.5,134L215.7,131.6Z" fill="#e4e3dc"/>
<path d="M215.5,134.7L215.8,131L219.1,133.9Z" fill="#8f9492"/>
<path d="M222.3,133.7L219.7,135.8L220.2,131.1Z" fill="#c4c3ba"/>
<path d="M222.3,133.7L219.6,131.5L223.7,130.5Z" fill="#6a6668"/>
<path d="M222.3,133.7L224.7,131.3L225.4,135.1Z" fill="#b6b5ad"/>
<path d="M222.3,133.7L224.3,135.9L221.2,136.4Z" fill="#5a585a"/>
<path d="M227.3,134.3L223.2,134.9L226.5,130.2Z" fill="#e4e3dc"/>
<path d="M227.3,134.3L226.1,131L230.3,132.5Z" fill="#9aa09e"/>
<path d="M227.3,134.3L231.2,133.7L229.4,137.6Z" fill="#cfcdc4"/>
<path d="M227.3,134.3L228.1,138.4L223.9,136.7Z" fill="#9aa09e"/>
<path d="M129,139.2L127.9,142.5L125.5,139Z" fill="#e4e3dc"/>
<path d="M129,139.2L126.2,137.6L129.7,136Z" fill="#8f9492"/>
<path d="M129,139.2L130.5,136.4L132.2,139.6Z" fill="#93c1c3"/>
<path d="M129,139.2L131.6,140.8L128.2,142.1Z" fill="#4d4c4e"/>
<path d="M133.3,140.5L133.5,144.6L129.2,140.9Z" fill="#e4e3dc"/>
<path d="M133.3,140.5L129.8,140.2L132.5,137Z" fill="#5a585a"/>
<path d="M133.3,140.5L133.6,136.6L137,139.3Z" fill="#76a6aa"/>
<path d="M133.3,140.5L136.9,140.9L134.1,144.1Z" fill="#9aa09e"/>
<path d="M138.5,139.6L142.3,140.4L139,143.4Z" fill="#c4c3ba"/>
<path d="M138.5,139.6L138.2,143.8L134.3,139.4Z" fill="#8f9492"/>
<path d="M138.5,139.6L134.6,139.5L137.4,135.9Z" fill="#d2d1c8"/>
<path d="M138.5,139.6L139.4,135.2L142.8,138.5Z" fill="#858a89"/>
<path d="M143.8,140.4L141,142.1L141.4,138.3Z" fill="#7eaeb1"/>
<path d="M143.8,140.4L142.6,137.3L146.3,138.2Z" fill="#8f9492"/>
<path d="M143.8,140.4L146.9,139.2L146,142.9Z" fill="#76a6aa"/>
<path d="M143.8,140.4L145.2,143.8L140.5,141.9Z" fill="#c4c3ba"/>
<path d="M149.3,140.2L146.3,140.3L148.3,137.4Z" fill="#cfcdc4"/>
<path d="M149.3,140.2L149.6,136.6L152.9,140.3Z" fill="#9aa09e"/>
<path d="M149.3,140.2L152.3,139.8L150.9,142.8Z" fill="#9cc8c9"/>
<path d="M149.3,140.2L149.9,143.6L146.4,142.1Z" fill="#605d60"/>
<path d="M155.3,140.4L157.3,142.3L154.2,143Z" fill="#cfcdc4"/>
<path d="M155.3,140.4L153,142.5L152.5,139.2Z" fill="#4d4c4e"/>
<path d="M155.3,140.4L153,138.2L157.4,138.1Z" fill="#c4c3ba"/>
<path d="M155.3,140.4L157.6,138.9L157,142.6Z" fill="#444346"/>
<path d="M160.7,139.2L164.2,140.5L159.7,142.9Z" fill="#e4e3dc"/>
<path d="M160.7,139.2L158.8,142.3L157.5,137.5Z" fill="#605d60"/>
<path d="M160.7,139.2L157.9,137.5L162.3,136.4Z" fill="#9cc8c9"/>
<path d="M160.7,139.2L162.3,135.9L164.4,139.3Z" fill="#4d4c4e"/>
<path d="M166.1,138.6L167.2,141.5L163.3,140.1Z" fill="#d2d1c8"/>
<path d="M166.1,138.6L163.5,139.8L164,136.7Z" fill="#4d4c4e"/>
<path d="M166.1,138.6L164.8,135.6L168.9,136.9Z" fill="#88b8ba"/>
<path d="M166.1,138.6L169.1,137.5L167.4,141.6Z" fill="#c4c3ba"/>
<path d="M172.4,139.6L171.3,144L168,140.6Z" fill="#88b8ba"/>
<path d="M172.4,139.6L168.7,138.2L173,135.7Z" fill="#4d4c4e"/>
<path d="M172.4,139.6L173.1,135.7L176.3,140Z" fill="#76a6aa"/>
<path d="M172.4,139.6L176.3,139.9L173.8,143.2Z" fill="#9aa09e"/>
<path d="M175.5,139.5L174,142.5L172.4,138.3Z" fill="#9cc8c9"/>
<path d="M175.5,139.5L172.1,138.5L175.2,136Z" fill="#c4c3ba"/>
<path d="M175.5,139.5L176.6,136.2L178.9,140.5Z" fill="#93c1c3"/>
<path d="M175.5,139.5L178.6,140.2L175.2,142.6Z" fill="#8f9492"/>
<path d="M181,140L178.9,142.4L178.1,138.6Z" fill="#c4c3ba"/>
<path d="M181,140L179.3,137.7L183,137.9Z" fill="#e4e3dc"/>
<path d="M181,140L183.6,137.7L184,141.6Z" fill="#b6b5ad"/>
<path d="M181,140L182.9,142.2L179.7,142.5Z" fill="#444346"/>
<path d="M186.4,140.1L183.1,140.9L184.2,137.5Z" fill="#9cc8c9"/>
<path d="M186.4,140.1L185,136.7L189.5,138Z" fill="#4d4c4e"/>
<path d="M186.4,140.1L189.5,138.8L188.3,142.8Z" fill="#76a6aa"/>
<path d="M186.4,140.1L187.2,143.6L183.1,141.4Z" fill="#e4e3dc"/>
<path d="M191.4,139.7L189.4,142.1L188.7,138Z" fill="#b6b5ad"/>
<path d="M191.4,139.7L188.9,138.1L192.4,136.9Z" fill="#cfcdc4"/>
<path d="M191.4,139.7L193.5,137.5L194,141.3Z" fill="#cfcdc4"/>
<path d="M191.4,139.7L193.7,141.9L190.2,142.7Z" fill="#6a6668"/>
<path d="M198.8,139.4L201.8,140.9L198.1,142.7Z" fill="#7eaeb1"/>
<path d="M198.8,139.4L197.8,142.5L195.6,139.9Z" fill="#cfcdc4"/>
<path d="M198.8,139.4L196,137.7L200.5,136.6Z" fill="#9cc8c9"/>
<path d="M198.8,139.4L200.6,136.6L202.1,140.2Z" fill="#858a89"/>
<path d="M204.3,139.3L204.4,142.7L201.2,140.6Z" fill="#c4c3ba"/>
<path d="M204.3,139.3L201.4,139.5L203.6,136.5Z" fill="#444346"/>
<path d="M204.3,139.3L204.7,136.4L207.1,138.4Z" fill="#b6b5ad"/>
<path d="M204.3,139.3L207.4,139.7L204,142.4Z" fill="#7a807e"/>
<path d="M209.4,138.4L209.6,141.8L206,139Z" fill="#93c1c3"/>
<path d="M209.4,138.4L205.4,138.2L209,134.4Z" fill="#605d60"/>
<path d="M209.4,138.4L208.6,134.8L212.8,137Z" fill="#93c1c3"/>
<path d="M209.4,138.4L213.1,138L211.1,141.7Z" fill="#444346"/>
<path d="M213.2,139.6L210,141.6L210.3,137.3Z" fill="#cfcdc4"/>
<path d="M213.2,139.6L210.9,136.7L215.4,136.6Z" fill="#9aa09e"/>
<path d="M213.2,139.6L215.9,137.3L215.7,142.1Z" fill="#76a6aa"/>
<path d="M213.2,139.6L215.5,142.5L211.5,142.8Z" fill="#9aa09e"/>
<path d="M220.2,139.9L216.8,140.5L218.2,137.2Z" fill="#e4e3dc"/>
<path d="M220.2,139.9L220.3,137.2L222.9,140Z" fill="#6a6668"/>
<path d="M220.2,139.9L223.2,139.5L221.9,142.4Z" fill="#93c1c3"/>
<path d="M220.2,139.9L220,143.1L217.1,140.3Z" fill="#c4c3ba"/>
<path d="M225.4,139.7L226.6,142.6L223.3,142Z" fill="#b6b5ad"/>
<path d="M225.4,139.7L222.5,141.4L223.4,137Z" fill="#5a585a"/>
<path d="M225.4,139.7L223.8,137L227.4,137.3Z" fill="#9cc8c9"/>
<path d="M225.4,139.7L228.4,138L228.3,141.7Z" fill="#7a807e"/>
<path d="M230.9,138.9L231.5,143.5L226.9,141.3Z" fill="#88b8ba"/>
<path d="M230.9,138.9L226.5,140.1L227.9,135.5Z" fill="#444346"/>
<path d="M230.9,138.9L230.4,134.6L234.9,137.1Z" fill="#9cc8c9"/>
<path d="M230.9,138.9L235.4,138.2L232.6,143.2Z" fill="#b6b5ad"/>
<path d="M131,144.6L133.6,145.7L131,147.4Z" fill="#93c1c3"/>
<path d="M131,144.6L130,147.4L128.3,143.7Z" fill="#b6b5ad"/>
<path d="M131,144.6L127.9,143.8L131.8,141.5Z" fill="#76a6aa"/>
<path d="M131,144.6L132.7,141.7L134.1,145.9Z" fill="#605d60"/>
<path d="M137.8,143.3L135.3,145.4L135.5,141Z" fill="#9cc8c9"/>
<path d="M137.8,143.3L135.5,140.5L139.6,140.2Z" fill="#b6b5ad"/>
<path d="M137.8,143.3L140.5,141.2L140.4,145.5Z" fill="#88b8ba"/>
<path d="M137.8,143.3L139.8,146L135.3,145.6Z" fill="#605d60"/>
<path d="M142.8,143.1L146.8,144.3L143.3,147.3Z" fill="#9cc8c9"/>
<path d="M142.8,143.1L141.7,146.3L139.4,143.6Z" fill="#c4c3ba"/>
<path d="M142.8,143.1L139.2,141.4L142.9,139.1Z" fill="#9cc8c9"/>
<path d="M142.8,143.1L143.9,139.5L146.6,143.3Z" fill="#8f9492"/>
<path d="M146.8,142.9L146.4,146.2L143.6,143.4Z" fill="#cfcdc4"/>
<path d="M146.8,142.9L143.3,142.7L146.2,139.5Z" fill="#7a807e"/>
<path d="M146.8,142.9L147.5,139.8L150,143.4Z" fill="#cfcdc4"/>
<path d="M146.8,142.9L149.7,143.2L147.8,145.7Z" fill="#605d60"/>
<path d="M152.7,143.6L155.8,146L151.9,147.5Z" fill="#76a6aa"/>
<path d="M152.7,143.6L150.5,147.4L148.4,142.5Z" fill="#d2d1c8"/>
<path d="M152.7,143.6L149.2,141L154.8,139.8Z" fill="#b6b5ad"/>
<path d="M152.7,143.6L154.8,140.1L156.7,144.4Z" fill="#444346"/>
<path d="M158.3,144L161.4,143.9L159.1,147Z" fill="#c4c3ba"/>
<path d="M158.3,144L157.6,147.5L154.8,144.9Z" fill="#d2d1c8"/>
<path d="M158.3,144L154.6,144.3L157.9,140.3Z" fill="#9cc8c9"/>
<path d="M158.3,144L158.8,140.4L161.8,143.1Z" fill="#d2d1c8"/>
<path d="M162.8,143.5L160.4,146.8L159.1,142Z" fill="#cfcdc4"/>
<path d="M162.8,143.5L159.3,141.3L164.3,139.7Z" fill="#6a6668"/>
<path d="M162.8,143.5L164.9,140L166.5,145.4Z" fill="#93c1c3"/>
<path d="M162.8,143.5L166.1,144.9L161.7,146.9Z" fill="#6a6668"/>
<path d="M169.8,143.9L167.3,146L167.5,141.5Z" fill="#93c1c3"/>
<path d="M169.8,143.9L167.6,141.8L170.7,141Z" fill="#b6b5ad"/>
<path d="M169.8,143.9L172,141.5L172.8,144.9Z" fill="#9cc8c9"/>
<path d="M169.8,143.9L171.9,146.5L167.4,146.2Z" fill="#444346"/>
<path d="M173.5,144.9L170.9,146.6L171.8,142.3Z" fill="#c4c3ba"/>
<path d="M173.5,144.9L171.7,142.2L175.5,142.3Z" fill="#5a585a"/>
<path d="M173.5,144.9L176.4,143.3L176.1,146.9Z" fill="#88b8ba"/>
<path d="M173.5,144.9L175,148.3L170.8,147.4Z" fill="#5a585a"/>
<path d="M179.8,144.8L175.7,145.8L178,140.9Z" fill="#93c1c3"/>
<path d="M179.8,144.8L178.9,141.1L183.1,142.8Z" fill="#9aa09e"/>
<path d="M179.8,144.8L183.6,143.8L181.6,148.2Z" fill="#d2d1c8"/>
<path d="M179.8,144.8L180.6,148.9L176.2,146.9Z" fill="#b6b5ad"/>
<path d="M185.2,143.3L181.8,145.3L182.3,140.7Z" fill="#88b8ba"/>
<path d="M185.2,143.3L183.7,139.9L188.5,141.4Z" fill="#858a89"/>
<path d="M185.2,143.3L188.4,141.9L187.5,146Z" fill="#76a6aa"/>
<path d="M185.2,143.3L187.3,146.5L183.3,146.6Z" fill="#c4c3ba"/>
<path d="M191,143.9L189.4,147.1L187.5,143.3Z" fill="#9cc8c9"/>
<path d="M191,143.9L187.5,142.1L192.3,140.2Z" fill="#5a585a"/>
<path d="M191,143.9L192.6,140.4L194.8,144.5Z" fill="#7eaeb1"/>
<path d="M191,143.9L194.1,145.8L189.3,147.2Z" fill="#6a6668"/>
<path d="M195.8,144.2L198.5,145.9L194.8,147.2Z" fill="#d2d1c8"/>
<path d="M195.8,144.2L194,147.1L192.7,142.7Z" fill="#444346"/>
<path d="M195.8,144.2L192.9,142.1L197.2,140.9Z" fill="#76a6aa"/>
<path d="M195.8,144.2L197.5,141L199.2,145.5Z" fill="#444346"/>
<path d="M201.6,144L205.3,145.2L201.1,147.8Z" fill="#93c1c3"/>
<path d="M201.6,144L200.2,147.6L197.9,142.9Z" fill="#5a585a"/>
<path d="M201.6,144L197.4,143.2L200.9,139.8Z" fill="#c4c3ba"/>
<path d="M201.6,144L203.5,140.4L205.4,145.5Z" fill="#605d60"/>
<path d="M207,143.7L204.7,146.6L203.6,142.2Z" fill="#9cc8c9"/>
<path d="M207,143.7L204.5,141.6L207.8,140.6Z" fill="#b6b5ad"/>
<path d="M207,143.7L209.5,141.5L209.3,146.1Z" fill="#b6b5ad"/>
<path d="M207,143.7L209.7,145.8L205,146.5Z" fill="#6a6668"/>
<path d="M210,144.2L208.6,147.7L206.5,142.9Z" fill="#9cc8c9"/>
<path d="M210,144.2L206.4,142.7L210.6,140.4Z" fill="#5a585a"/>
<path d="M210,144.2L212.5,140.5L214.4,144.9Z" fill="#76a6aa"/>
<path d="M210,144.2L214.2,145.8L210.3,148.7Z" fill="#e4e3dc"/>
<path d="M215.9,142.9L219.5,143.2L216.8,146.4Z" fill="#9cc8c9"/>
<path d="M215.9,142.9L215,146.4L212.5,142.1Z" fill="#cfcdc4"/>
<path d="M215.9,142.9L212.3,142.8L215.1,139.4Z" fill="#c4c3ba"/>
<path d="M215.9,142.9L216.9,139.3L219.6,143.7Z" fill="#5a585a"/>
<path d="M221.7,144.7L217.3,144.6L221.3,140.3Z" fill="#7eaeb1"/>
<path d="M221.7,144.7L221.1,140.2L225.6,142.3Z" fill="#7a807e"/>
<path d="M221.7,144.7L226.2,144.5L223.8,148.8Z" fill="#cfcdc4"/>
<path d="M221.7,144.7L221.7,148.9L217.7,145.7Z" fill="#9aa09e"/>
<path d="M226.3,145.1L227.4,148.5L223.2,147Z" fill="#93c1c3"/>
<path d="M226.3,145.1L223.2,145.9L224.7,142.3Z" fill="#8f9492"/>
<path d="M226.3,145.1L225.7,141.4L229.7,143.6Z" fill="#93c1c3"/>
<path d="M226.3,145.1L230,144.8L227.7,148.5Z" fill="#4d4c4e"/>
<path d="M129.4,149.6L126.4,151.1L127.9,146.6Z" fill="#76a6aa"/>
<path d="M129.4,149.6L127.8,147.1L130.9,147Z" fill="#4d4c4e"/>
<path d="M129.4,149.6L132.2,148.2L131.3,152.1Z" fill="#88b8ba"/>
<path d="M129.4,149.6L130.8,152.1L127.7,152Z" fill="#605d60"/>
<path d="M134.3,148.2L132.4,151.9L130.3,147Z" fill="#7eaeb1"/>
<path d="M134.3,148.2L130.8,146.1L135.3,144.3Z" fill="#cfcdc4"/>
<path d="M134.3,148.2L136.6,145.5L137.3,150.3Z" fill="#93c1c3"/>
<path d="M134.3,148.2L137.8,149.9L132.6,151.8Z" fill="#9aa09e"/>
<path d="M139.7,149.4L140.5,152.7L136.8,151.3Z" fill="#93c1c3"/>
<path d="M139.7,149.4L136.6,151.2L137.8,146.3Z" fill="#5a585a"/>
<path d="M139.7,149.4L138.9,146.3L142.2,147.3Z" fill="#93c1c3"/>
<path d="M139.7,149.4L143.3,148.4L141.7,152.5Z" fill="#d2d1c8"/>
<path d="M145.5,148.5L144,151.3L142.3,147.9Z" fill="#88b8ba"/>
<path d="M145.5,148.5L142.6,146.9L146.5,145.4Z" fill="#c4c3ba"/>
<path d="M145.5,148.5L146.7,145.9L148.3,148.9Z" fill="#9cc8c9"/>
<path d="M145.5,148.5L148.1,149.9L145.3,151.4Z" fill="#6a6668"/>
<path d="M150.4,148.8L152.3,151.7L147.8,151.1Z" fill="#9cc8c9"/>
<path d="M150.4,148.8L146.9,150.2L147.6,146.2Z" fill="#d2d1c8"/>
<path d="M150.4,148.8L148.9,145.4L153,146.1Z" fill="#88b8ba"/>
<path d="M150.4,148.8L153.5,147L153.1,151.1Z" fill="#605d60"/>
<path d="M155.5,149.2L152.3,150.2L153.9,146.3Z" fill="#76a6aa"/>
<path d="M155.5,149.2L154.6,145.7L158.3,147Z" fill="#8f9492"/>
<path d="M155.5,149.2L158.7,148.7L156.5,152.3Z" fill="#9cc8c9"/>
<path d="M155.5,149.2L156.8,152.5L152.6,151.2Z" fill="#c4c3ba"/>
<path d="M159.6,147.8L159.5,151.8L155.8,149Z" fill="#c4c3ba"/>
<path d="M159.6,147.8L155.9,147.1L159.5,144Z" fill="#e4e3dc"/>
<path d="M159.6,147.8L159.8,144.2L163,146.7Z" fill="#88b8ba"/>
<path d="M159.6,147.8L163,148.2L159.8,151.3Z" fill="#444346"/>
<path d="M167.2,148.9L168.4,151.6L165,150.8Z" fill="#7eaeb1"/>
<path d="M167.2,148.9L164.4,150.4L165.1,146.4Z" fill="#6a6668"/>
<path d="M167.2,148.9L166.1,145.9L170,147.5Z" fill="#93c1c3"/>
<path d="M167.2,148.9L170.1,147.6L168.8,151.6Z" fill="#5a585a"/>
<path d="M171.2,148.1L171.2,151.2L168.4,149.4Z" fill="#88b8ba"/>
<path d="M171.2,148.1L168,148.1L170.8,144.9Z" fill="#cfcdc4"/>
<path d="M171.2,148.1L171.4,145.2L174,147.5Z" fill="#9cc8c9"/>
<path d="M171.2,148.1L174.3,147.6L172.4,150.9Z" fill="#444346"/>
<path d="M175.5,147.9L176.6,151.9L171.9,149.9Z" fill="#76a6aa"/>
<path d="M175.5,147.9L172.4,149.4L173.4,145Z" fill="#cfcdc4"/>
<path d="M175.5,147.9L174.5,144.4L178.4,145.7Z" fill="#b6b5ad"/>
<path d="M175.5,147.9L179.6,146.9L177.4,151.6Z" fill="#858a89"/>
<path d="M180.9,148.3L177.9,150.6L178.4,145.4Z" fill="#7eaeb1"/>
<path d="M180.9,148.3L178.9,145.3L183.8,146.2Z" fill="#4d4c4e"/>
<path d="M180.9,148.3L183.7,146.1L183.4,150.8Z" fill="#93c1c3"/>
<path d="M180.9,148.3L183.7,151L179.4,151.9Z" fill="#e4e3dc"/>
<path d="M188.4,149.1L191.6,149.8L188.8,152.3Z" fill="#93c1c3"/>
<path d="M188.4,149.1L187.8,152.1L185.4,149.4Z" fill="#5a585a"/>
<path d="M188.4,149.1L185.1,148L189.5,145.8Z" fill="#9cc8c9"/>
<path d="M188.4,149.1L189.1,145.7L191.9,149.4Z" fill="#cfcdc4"/>
<path d="M192.2,148.5L196.5,148.8L192.7,152.8Z" fill="#c4c3ba"/>
<path d="M192.2,148.5L190.8,152.6L187.9,149Z" fill="#444346"/>
<path d="M192.2,148.5L187.7,148.3L190.8,144.2Z" fill="#88b8ba"/>
<path d="M192.2,148.5L192.5,144.2L196.3,147.2Z" fill="#8f9492"/>
<path d="M196.7,147.5L194.7,151.4L192.5,146.5Z" fill="#c4c3ba"/>
<path d="M196.7,147.5L193.2,146.2L197.4,143.8Z" fill="#8f9492"/>
<path d="M196.7,147.5L197.7,143.4L200.8,148.5Z" fill="#d2d1c8"/>
<path d="M196.7,147.5L200.3,148.6L197.4,151.2Z" fill="#8f9492"/>
<path d="M202.5,148.5L200.4,150.7L200.3,146.3Z" fill="#88b8ba"/>
<path d="M202.5,148.5L199.9,147L203.1,145.5Z" fill="#605d60"/>
<path d="M202.5,148.5L204.5,146.3L205.2,149.8Z" fill="#cfcdc4"/>
<path d="M202.5,148.5L204.8,150.4L201.4,151.2Z" fill="#5a585a"/>
<path d="M208.5,148.9L211.7,151.2L206.4,152.3Z" fill="#b6b5ad"/>
<path d="M208.5,148.9L206.6,151.7L205.2,147.9Z" fill="#444346"/>
<path d="M208.5,148.9L205.4,147L209.3,145.4Z" fill="#7eaeb1"/>
<path d="M208.5,148.9L210.5,146.1L211.8,149.7Z" fill="#858a89"/>
<path d="M213.1,148.1L209.4,149.7L211.2,144.6Z" fill="#88b8ba"/>
<path d="M213.1,148.1L211.1,145.4L215,145.4Z" fill="#605d60"/>
<path d="M213.1,148.1L216.5,146.6L215.7,150.7Z" fill="#7eaeb1"/>
<path d="M213.1,148.1L214.8,150.9L211,150.7Z" fill="#5a585a"/>
<path d="M218.2,148.1L221.6,149.3L217.7,151.7Z" fill="#cfcdc4"/>
<path d="M218.2,148.1L217.4,151.6L214.6,148.2Z" fill="#8f9492"/>
<path d="M218.2,148.1L214.1,147.8L216.7,144.3Z" fill="#e4e3dc"/>
<path d="M218.2,148.1L218.5,144.1L222.2,148.3Z" fill="#605d60"/>
<path d="M223.4,149.5L227.5,149.7L224.7,153.4Z" fill="#e4e3dc"/>
<path d="M223.4,149.5L223,153.7L219.2,149.9Z" fill="#b6b5ad"/>
<path d="M223.4,149.5L219.2,149.5L221.6,145.7Z" fill="#93c1c3"/>
<path d="M223.4,149.5L223.3,145.7L227.2,149.4Z" fill="#cfcdc4"/>
<path d="M229.8,149.1L226.3,149.5L229.1,145.7Z" fill="#93c1c3"/>
<path d="M229.8,149.1L229.4,145.7L233.2,148.4Z" fill="#8f9492"/>
<path d="M229.8,149.1L233.5,149.2L229.9,152.8Z" fill="#76a6aa"/>
<path d="M229.8,149.1L229.9,152.9L226.3,150.2Z" fill="#444346"/>
<path d="M132.7,152.1L130.6,155.4L128.8,151.7Z" fill="#e4e3dc"/>
<path d="M132.7,152.1L129.9,150.2L133.8,148.9Z" fill="#858a89"/>
<path d="M132.7,152.1L135,149L136.3,153.4Z" fill="#e4e3dc"/>
<path d="M132.7,152.1L135.5,154.8L131.3,155.7Z" fill="#444346"/>
<path d="M137.4,153.4L140.1,156.2L135.6,156.8Z" fill="#88b8ba"/>
<path d="M137.4,153.4L135.6,156.5L134.1,151.9Z" fill="#8f9492"/>
<path d="M137.4,153.4L134.4,151.4L138,149.8Z" fill="#93c1c3"/>
<path d="M137.4,153.4L139.2,150.5L140.7,153.8Z" fill="#9aa09e"/>
<path d="M142.7,153.4L142.7,157L139.1,153.6Z" fill="#7eaeb1"/>
<path d="M142.7,153.4L139.1,153L142.8,149.8Z" fill="#444346"/>
<path d="M142.7,153.4L143.2,149.7L146.4,152.7Z" fill="#93c1c3"/>
<path d="M142.7,153.4L146.2,153.2L143.3,156.8Z" fill="#c4c3ba"/>
<path d="M147.7,153.4L151.3,153.9L147.5,157Z" fill="#7eaeb1"/>
<path d="M147.7,153.4L146.7,157L144.1,152.5Z" fill="#605d60"/>
<path d="M147.7,153.4L144,153L146.9,149.9Z" fill="#e4e3dc"/>
<path d="M147.7,153.4L147.7,149.8L151.2,152.4Z" fill="#e4e3dc"/>
<path d="M152.5,152.2L154.7,154.3L150.7,154.7Z" fill="#d2d1c8"/>
<path d="M152.5,152.2L150.1,154.8L149.2,151Z" fill="#6a6668"/>
<path d="M152.5,152.2L150.2,149.9L154.6,149.8Z" fill="#93c1c3"/>
<path d="M152.5,152.2L154.4,149.8L154.9,154.1Z" fill="#444346"/>
<path d="M158.2,154.2L155.7,156.8L154.8,153Z" fill="#93c1c3"/>
<path d="M158.2,154.2L155.4,152.3L159.1,151Z" fill="#444346"/>
<path d="M158.2,154.2L160.2,151L161.8,155.5Z" fill="#cfcdc4"/>
<path d="M158.2,154.2L161.1,156.9L156.8,157.9Z" fill="#d2d1c8"/>
<path d="M164.2,154L167.4,154.6L164.9,157.1Z" fill="#88b8ba"/>
<path d="M164.2,154L163.2,157.4L160.7,153Z" fill="#8f9492"/>
<path d="M164.2,154L160.5,154L162.8,150.5Z" fill="#b6b5ad"/>
<path d="M164.2,154L165.1,150.8L167.3,154.7Z" fill="#7a807e"/>
<path d="M168.9,152.8L166.7,155.2L166.1,151Z" fill="#9cc8c9"/>
<path d="M168.9,152.8L166.6,150.9L169.6,149.8Z" fill="#444346"/>
<path d="M168.9,152.8L171.1,150.8L171.1,154.7Z" fill="#88b8ba"/>
<path d="M168.9,152.8L171.3,154.3L168.5,155.6Z" fill="#4d4c4e"/>
<path d="M173.6,152.5L170.1,154.8L171.1,149.2Z" fill="#93c1c3"/>
<path d="M173.6,152.5L171.1,149.1L176.6,149.7Z" fill="#4d4c4e"/>
<path d="M173.6,152.5L176.8,150.1L176.3,155.4Z" fill="#cfcdc4"/>
<path d="M173.6,152.5L176.5,155.5L170.6,155.5Z" fill="#4d4c4e"/>
<path d="M179.9,152.6L177.3,154.5L177.7,150.1Z" fill="#e4e3dc"/>
<path d="M179.9,152.6L178.1,150.3L182.2,150.6Z" fill="#4d4c4e"/>
<path d="M179.9,152.6L182.8,150.9L182.1,155Z" fill="#b6b5ad"/>
<path d="M179.9,152.6L181.6,155.7L176.9,154.3Z" fill="#605d60"/>
<path d="M183.5,154.1L181.1,156.3L180.7,152.5Z" fill="#76a6aa"/>
<path d="M183.5,154.1L181.5,152.3L184.8,151.7Z" fill="#7a807e"/>
<path d="M183.5,154.1L185.2,151.7L186.3,154.8Z" fill="#d2d1c8"/>
<path d="M183.5,154.1L186,156.2L182.7,157.2Z" fill="#d2d1c8"/>
<path d="M189.3,153.7L186.6,156L186.1,152.2Z" fill="#76a6aa"/>
<path d="M189.3,153.7L186.9,151.4L191,150.8Z" fill="#605d60"/>
<path d="M189.3,153.7L191.4,151.3L192.3,155.1Z" fill="#88b8ba"/>
<path d="M189.3,153.7L191.3,156.7L187.1,156.5Z" fill="#9aa09e"/>
<path d="M194.9,153.8L191.1,154.3L193.7,150Z" fill="#c4c3ba"/>
<path d="M194.9,153.8L194,150L198.4,152.1Z" fill="#c4c3ba"/>
<path d="M194.9,153.8L198.4,152.7L196.6,156.9Z" fill="#e4e3dc"/>
<path d="M194.9,153.8L195,157.1L191.6,154.1Z" fill="#7a807e"/>
<path d="M200.2,152.2L200.8,155.5L196.9,152.7Z" fill="#7eaeb1"/>
<path d="M200.2,152.2L196.4,152.5L199.3,148.5Z" fill="#9aa09e"/>
<path d="M200.2,152.2L199.7,148.7L203.3,150.5Z" fill="#7eaeb1"/>
<path d="M200.2,152.2L204,151.3L201.8,155.7Z" fill="#605d60"/>
<path d="M206.4,153.4L209.4,154.8L206.3,156.7Z" fill="#9cc8c9"/>
<path d="M206.4,153.4L205.8,156.6L203.2,153.5Z" fill="#cfcdc4"/>
<path d="M206.4,153.4L203,152.2L206.5,149.8Z" fill="#9cc8c9"/>
<path d="M206.4,153.4L208,150L210.2,153.3Z" fill="#cfcdc4"/>
<path d="M211.5,154.3L212.2,157.8L208.7,156.4Z" fill="#b6b5ad"/>
<path d="M211.5,154.3L208.4,155.1L209.7,151.6Z" fill="#6a6668"/>
<path d="M211.5,154.3L210.6,151.2L214.1,152.3Z" fill="#cfcdc4"/>
<path d="M211.5,154.3L215.1,153.5L213.4,157.5Z" fill="#8f9492"/>
<path d="M217.3,153.2L220.2,156L214.6,156.1Z" fill="#76a6aa"/>
<path d="M217.3,153.2L214.7,155.2L214.7,151.1Z" fill="#4d4c4e"/>
<path d="M217.3,153.2L214.7,150.5L219,149.8Z" fill="#c4c3ba"/>
<path d="M217.3,153.2L220.3,150.7L220.7,154.9Z" fill="#444346"/>
<path d="M222.1,153.8L222.8,157.5L218.9,155.8Z" fill="#d2d1c8"/>
<path d="M222.1,153.8L218.7,155.1L220.7,150.5Z" fill="#5a585a"/>
<path d="M222.1,153.8L221.3,150.6L224.9,152Z" fill="#9cc8c9"/>
<path d="M222.1,153.8L225.7,153.5L223.8,157Z" fill="#6a6668"/>
<path d="M227.8,153.1L231.8,154L228,157.2Z" fill="#c4c3ba"/>
<path d="M227.8,153.1L226.5,156.3L224.4,152.5Z" fill="#8f9492"/>
<path d="M227.8,153.1L224.2,152L228.2,149.3Z" fill="#93c1c3"/>
<path d="M227.8,153.1L229.4,149.9L231.3,154.1Z" fill="#4d4c4e"/>
<path d="M130,156.8L134,157.7L130.5,160.8Z" fill="#b6b5ad"/>
<path d="M130,156.8L129,160.5L126.4,156Z" fill="#6a6668"/>
<path d="M130,156.8L125.9,156.5L128.9,152.8Z" fill="#9cc8c9"/>
<path d="M130,156.8L130.5,153.2L133.4,155.6Z" fill="#858a89"/>
<path d="M134.3,158L131.9,160.6L131,156.7Z" fill="#d2d1c8"/>
<path d="M134.3,158L132,155.3L136.9,155.5Z" fill="#605d60"/>
<path d="M134.3,158L136.8,155.5L137.2,159.9Z" fill="#76a6aa"/>
<path d="M134.3,158L136.9,161.1L131.7,161.1Z" fill="#4d4c4e"/>
<path d="M138.5,157.2L139.3,161.2L134.9,159.2Z" fill="#7eaeb1"/>
<path d="M138.5,157.2L135.1,157.7L137.7,153.9Z" fill="#9aa09e"/>
<path d="M138.5,157.2L138.1,153.2L142.4,156.3Z" fill="#76a6aa"/>
<path d="M138.5,157.2L142,157.1L139.8,160.5Z" fill="#858a89"/>
<path d="M146,158.8L147.4,162.6L142.4,160.7Z" fill="#93c1c3"/>
<path d="M146,158.8L141.9,159.9L144.4,155Z" fill="#7a807e"/>
<path d="M146,158.8L145.3,154.8L150,158.2Z" fill="#93c1c3"/>
<path d="M146,158.8L150.2,158.2L146.8,163Z" fill="#b6b5ad"/>
<path d="M150.4,157.5L153.2,160.6L148.7,161.3Z" fill="#88b8ba"/>
<path d="M150.4,157.5L146.4,159.6L147,154.6Z" fill="#605d60"/>
<path d="M150.4,157.5L147.7,153.9L153.5,154.3Z" fill="#76a6aa"/>
<path d="M150.4,157.5L154.1,155.1L154,160.1Z" fill="#d2d1c8"/>
<path d="M155,158.4L153.3,162L151.1,157.4Z" fill="#88b8ba"/>
<path d="M155,158.4L151.4,156L157.2,154.7Z" fill="#444346"/>
<path d="M155,158.4L157.1,154.4L159.3,159.7Z" fill="#cfcdc4"/>
<path d="M155,158.4L158.5,160.8L152.8,162.1Z" fill="#605d60"/>
<path d="M159.8,158.4L158.3,161.7L156.5,156.9Z" fill="#76a6aa"/>
<path d="M159.8,158.4L156.9,156.1L161.4,155Z" fill="#7a807e"/>
<path d="M159.8,158.4L162.4,155.1L163.3,160.8Z" fill="#9cc8c9"/>
<path d="M159.8,158.4L162.7,160.3L158.7,161.7Z" fill="#6a6668"/>
<path d="M167,158.7L169.8,162.1L163.9,161.8Z" fill="#9cc8c9"/>
<path d="M167,158.7L164.4,161.4L163.6,157.2Z" fill="#e4e3dc"/>
<path d="M167,158.7L164.2,156.5L168.5,155.5Z" fill="#7eaeb1"/>
<path d="M167,158.7L170.2,156.4L169.8,161.6Z" fill="#444346"/>
<path d="M170.5,157.8L173.6,159.8L169.2,161.3Z" fill="#7eaeb1"/>
<path d="M170.5,157.8L168.5,160.2L168,156Z" fill="#9aa09e"/>
<path d="M170.5,157.8L167.8,155.4L172.3,154.7Z" fill="#cfcdc4"/>
<path d="M170.5,157.8L172.5,155.6L173.2,159.3Z" fill="#e4e3dc"/>
<path d="M177.3,159L174.3,159.4L176.5,156.1Z" fill="#e4e3dc"/>
<path d="M177.3,159L177,155.7L180.3,157.8Z" fill="#8f9492"/>
<path d="M177.3,159L180.2,158.6L178,161.9Z" fill="#9cc8c9"/>
<path d="M177.3,159L177.6,162.5L174,160.4Z" fill="#6a6668"/>
<path d="M182.6,157.9L185.6,159L182.2,161.1Z" fill="#88b8ba"/>
<path d="M182.6,157.9L181.6,161L179.4,158.3Z" fill="#4d4c4e"/>
<path d="M182.6,157.9L179.7,156.7L182.9,154.8Z" fill="#cfcdc4"/>
<path d="M182.6,157.9L183.3,155.2L185.4,158.4Z" fill="#6a6668"/>
<path d="M187.4,157.6L184.1,158.7L185.7,154.6Z" fill="#7eaeb1"/>
<path d="M187.4,157.6L186.7,154.6L189.9,155.8Z" fill="#b6b5ad"/>
<path d="M187.4,157.6L190.3,156.8L189.3,160Z" fill="#9cc8c9"/>
<path d="M187.4,157.6L188.2,160.9L184.3,158.8Z" fill="#e4e3dc"/>
<path d="M192.6,158.7L193.7,162.1L189.3,160Z" fill="#b6b5ad"/>
<path d="M192.6,158.7L188.5,159.8L190.4,155Z" fill="#858a89"/>
<path d="M192.6,158.7L191.7,155L196.2,157.2Z" fill="#93c1c3"/>
<path d="M192.6,158.7L196.9,157.8L194.8,162.5Z" fill="#5a585a"/>
<path d="M197.9,158.2L198.5,161.4L194.8,159Z" fill="#b6b5ad"/>
<path d="M197.9,158.2L195,158.3L196.8,155.5Z" fill="#6a6668"/>
<path d="M197.9,158.2L197.9,155L201,157.4Z" fill="#7eaeb1"/>
<path d="M197.9,158.2L201.1,157.6L198.5,161.4Z" fill="#605d60"/>
<path d="M203.7,157.7L207.8,158.5L203.2,161.8Z" fill="#9cc8c9"/>
<path d="M203.7,157.7L203.2,161.2L200.2,157.6Z" fill="#4d4c4e"/>
<path d="M203.7,157.7L199.5,157.2L203.3,153.5Z" fill="#d2d1c8"/>
<path d="M203.7,157.7L203.7,153.7L207.7,157.4Z" fill="#444346"/>
<path d="M208.7,158.2L204.7,159.1L207.6,154.2Z" fill="#88b8ba"/>
<path d="M208.7,158.2L207.8,154.1L212.1,155.8Z" fill="#4d4c4e"/>
<path d="M208.7,158.2L212.5,157.4L209.6,162Z" fill="#c4c3ba"/>
<path d="M208.7,158.2L210.4,161.7L205.4,160.4Z" fill="#c4c3ba"/>
<path d="M212.7,157.4L215.5,160.3L211.1,161.1Z" fill="#c4c3ba"/>
<path d="M212.7,157.4L209.9,159.9L209.6,155.5Z" fill="#8f9492"/>
<path d="M212.7,157.4L210.6,153.8L215.3,154.1Z" fill="#e4e3dc"/>
<path d="M212.7,157.4L215.9,155.4L215.3,160.2Z" fill="#444346"/>
<path d="M219.5,157.6L221.4,159.7L217.7,159.7Z" fill="#d2d1c8"/>
<path d="M219.5,157.6L217.2,159.9L216.6,156Z" fill="#5a585a"/>
<path d="M219.5,157.6L217.5,155.2L221.1,154.9Z" fill="#93c1c3"/>
<path d="M219.5,157.6L222,155.9L222,159.2Z" fill="#c4c3ba"/>
<path d="M225.6,157.2L224,160L222.6,156Z" fill="#93c1c3"/>
<path d="M225.6,157.2L222.7,155.7L226.7,154.2Z" fill="#858a89"/>
<path d="M225.6,157.2L227.4,154.3L228.9,158.2Z" fill="#e4e3dc"/>
<path d="M225.6,157.2L228.4,159L224.5,160.4Z" fill="#5a585a"/>
<path d="M229,157.9L225.4,159.2L227.4,154.5Z" fill="#d2d1c8"/>
<path d="M229,157.9L227.1,154.4L231.7,155Z" fill="#6a6668"/>
<path d="M229,157.9L233.2,156.1L231.9,161.3Z" fill="#88b8ba"/>
<path d="M229,157.9L230.6,161.5L226.1,160.7Z" fill="#444346"/>
</g>
<path d="M132.3,86.3 L192,86.3 L195.2,121.4 L132.3,127.9 Z" fill="#9d4f4b"/>
<rect x="132.45" y="86.4" width="92.1" height="69" fill="none" stroke="#4c4648" stroke-width="1" stroke-opacity="0.8"/>
<circle cx="137.6" cy="92.6" r="0.5" fill="#6a2d2d" stroke="none" stroke-width="0"/>
<text x="135.5" y="150.4" font-size="7.3" fill="#f2f4f4">200μm</text>
<line x1="144" y1="152.2" x2="149" y2="152.2" stroke="#eef0f0" stroke-width="0.5"/>
</g>
<g id="pb">
<text x="234.5" y="10" font-size="13.3" fill="#000" font-weight="bold">b</text>
<path d="M266.8,156.9L267.4,156.8L268,156.6L268.6,156.5L269.2,156.3L269.8,156.1L270.4,155.8L271,155.6L271.6,155.2L272.2,154.9L272.9,154.5L273.5,154L274.1,153.5L274.7,152.9L275.3,152.2L275.9,151.4L276.5,150.4L277.1,149.3L277.7,147.8L278.3,145.2L278.9,141.7L279.5,138L280.1,134.3L280.7,130.4L281.3,125.7L281.9,119.4L282.5,111.5L283.1,103.2L283.8,95L284.4,86.5L285,77.8L285.6,68.8L286.2,59.5L286.8,51L287.4,43.1L288,35.8L288.6,30.5L289.2,27L289.8,24.3L290.4,23.4L291,25L291.6,28.1L292.2,31.6L292.8,36.6L293.4,42L294,46.9L294.7,51.7L295.3,55.6L295.9,58.9L296.5,61.7L297.1,63.8L297.7,65.1L298.3,66.1L298.9,66.7L299.5,66.9L300.1,66.8L300.7,66.6L301.3,66.5L301.9,66.5L302.5,66.5L303.1,66.5L303.7,66.5L304.3,66.7L304.9,67.5L305.6,68.6L306.2,69.9L306.8,71.6L307.4,73.7L308,75.8L308.6,78.2L309.2,80.8L309.8,83.7L310.4,87L311,90.4L311.6,93.7L312.2,97L312.8,100.1L313.4,103.1L314,105.8L314.6,108.2L315.2,110.3L315.8,112.1L316.5,113.7L317.1,115.1L317.7,116.3L318.3,117.2L318.9,117.9L319.5,118.4L320.1,118.9L320.7,119.3L321.3,119.7L321.9,120L322.5,120.4L323.1,120.7L323.7,121L324.3,121.4L324.9,121.8L325.5,122.1L326.1,122.5L326.8,122.9L327.4,123.4L328,124.1L328.6,124.8L329.2,125.5L329.8,126.3L330.4,127L331,127.9L331.6,128.7L332.2,129.6L332.8,130.5L333.4,131.3L334,132L334.6,132.7L335.2,133.4L335.8,134L336.4,134.6L337,135.2L337.7,135.7L338.3,136.2L338.9,136.7L339.5,137.2L340.1,137.6L340.7,138.1L341.3,138.4L341.9,138.8L342.5,139.1L343.1,139.4L343.7,139.7L344.3,140L344.9,140.2L345.5,140.5L346.1,140.7L346.7,141L347.3,141.2L347.9,141.4L348.6,141.6L349.2,141.9L349.8,142.1L350.4,142.4L351,142.6L351.6,142.9L352.2,143.2L352.8,143.6L353.4,143.9L354,144.2L354.6,144.5L355.2,144.8L355.8,145.2L356.4,145.4L357,145.7L357.6,146L358.2,146.2L358.8,146.4L359.5,146.7L360.1,146.9L360.7,147.1L361.3,147.4L361.9,147.6L362.5,147.8L363.1,148L363.7,148.2L364.3,148.4L364.9,148.6L365.5,148.8L366.1,148.9L366.7,149.1L367.3,149.3L367.9,149.4L368.5,149.6L369.1,149.8L369.7,149.9L370.4,150L371,150.2L371.6,150.3L372.2,150.5L372.8,150.6L373.4,150.7L374,150.9L374.6,151L375.2,151.1L375.8,151.2L376.4,151.3L377,151.5L377.6,151.6L378.2,151.7L378.8,151.8L379.4,151.9L380,152L380.6,152.1L381.3,152.2L381.9,152.3L382.5,152.4L383.1,152.5L383.7,152.6L384.3,152.7L384.9,152.8L385.5,152.9L386.1,152.9L386.7,153L387.3,153.1L387.9,153.2L388.5,153.3L389.1,153.4L389.7,153.4L390.3,153.5L390.9,153.6L391.5,153.7L392.2,153.7L392.8,153.8L393.4,153.9L394,153.9L394.6,154L395.2,154.1L395.8,154.1L396.4,154.2L397,154.3L397.6,154.3L398.2,154.4L398.8,154.5L399.4,154.5L400,154.6L400.6,154.6L401.2,154.7L401.8,154.7L402.5,154.8L403.1,154.8L403.7,154.9L404.3,154.9L404.9,155L405.5,155L406.1,155.1L406.7,155.1L407.3,155.2L407.9,155.2L408.5,155.3L409.1,155.3L409.7,155.3L410.3,155.4L410.9,155.4L411.5,155.5L412.1,155.5L412.7,155.5L413.4,155.6L414,155.6L414.6,155.6L415.2,155.7L415.8,155.7L416.4,155.8L417,155.8L417.6,155.8L418.2,155.9L418.8,155.9L419.4,155.9L420,156L420.6,156L421.2,156L421.8,156L422.4,156.1L423,156.1L423.6,156.1L424.3,156.1L424.9,156.2L425.5,156.2L426.1,156.2L426.7,156.2L427.3,156.3L427.9,156.3L428.5,156.3L429.1,156.3L429.7,156.4L430.3,156.4L430.9,156.4L431.5,156.4L432.1,156.5L432.7,156.5L433.3,156.5L433.9,156.5L434.5,156.6L435.2,156.6L435.8,156.6" fill="none" stroke="#2338d2" stroke-width="1.25" stroke-linejoin="round" stroke-linecap="round"/>
<path d="M266.8,156.7L267.4,156.6L268,156.4L268.6,156.2L269.2,156L269.8,155.8L270.4,155.5L271,155.2L271.6,154.9L272.2,154.5L272.9,154.1L273.5,153.6L274.1,153.1L274.7,152.5L275.3,151.8L275.9,151L276.5,150.2L277.1,149.2L277.7,148.1L278.3,146.5L278.9,144.1L279.5,141.3L280.1,138.2L280.7,134.9L281.3,131.2L281.9,126.7L282.5,120.9L283.1,113.2L283.8,104.8L284.4,96.7L285,88.2L285.6,79.6L286.2,70.6L286.8,61.3L287.4,52.6L288,44.7L288.6,37.2L289.2,31.3L289.8,27.7L290.4,24.8L291,23.4L291.6,24.2L292.2,26.5L292.8,29.4L293.4,33.5L294,38.2L294.7,42.3L295.3,46.2L295.9,49.5L296.5,51.6L297.1,53.4L297.7,54.6L298.3,55.4L298.9,56L299.5,56.2L300.1,55.8L300.7,55.1L301.3,54.2L301.9,52.8L302.5,51.2L303.1,49.8L303.7,48.7L304.3,47.6L304.9,46.7L305.6,46.3L306.2,46.6L306.8,47.4L307.4,48.5L308,49.8L308.6,51.8L309.2,54.2L309.8,56.7L310.4,59.6L311,62.7L311.6,65.7L312.2,68.8L312.8,72L313.4,75.1L314,78L314.6,80.5L315.2,82.9L315.8,85.2L316.5,87.4L317.1,89.3L317.7,91L318.3,92.2L318.9,93.1L319.5,93.9L320.1,94.6L320.7,95.1L321.3,95.7L321.9,96.1L322.5,96.5L323.1,96.9L323.7,97.4L324.3,97.9L324.9,98.5L325.5,99.1L326.1,99.8L326.8,100.5L327.4,101.3L328,102.1L328.6,103.1L329.2,104L329.8,105.1L330.4,106.4L331,107.6L331.6,109L332.2,110.3L332.8,111.6L333.4,112.9L334,114.1L334.6,115.2L335.2,116.3L335.8,117.3L336.4,118.3L337,119.3L337.7,120.2L338.3,121.1L338.9,121.9L339.5,122.7L340.1,123.5L340.7,124.2L341.3,125L341.9,125.6L342.5,126.3L343.1,127L343.7,127.6L344.3,128.2L344.9,128.8L345.5,129.3L346.1,129.8L346.7,130.3L347.3,130.7L347.9,131.1L348.6,131.5L349.2,131.9L349.8,132.4L350.4,132.9L351,133.4L351.6,133.9L352.2,134.4L352.8,134.9L353.4,135.5L354,136L354.6,136.5L355.2,137L355.8,137.5L356.4,138L357,138.4L357.6,138.8L358.2,139.2L358.8,139.6L359.5,140L360.1,140.4L360.7,140.7L361.3,141.1L361.9,141.4L362.5,141.8L363.1,142.1L363.7,142.4L364.3,142.7L364.9,143L365.5,143.3L366.1,143.6L366.7,143.8L367.3,144.1L367.9,144.3L368.5,144.6L369.1,144.8L369.7,145.1L370.4,145.3L371,145.5L371.6,145.7L372.2,145.9L372.8,146.1L373.4,146.3L374,146.5L374.6,146.7L375.2,146.9L375.8,147.1L376.4,147.3L377,147.5L377.6,147.7L378.2,147.9L378.8,148L379.4,148.2L380,148.4L380.6,148.5L381.3,148.7L381.9,148.9L382.5,149L383.1,149.2L383.7,149.4L384.3,149.5L384.9,149.7L385.5,149.8L386.1,150L386.7,150.1L387.3,150.3L387.9,150.4L388.5,150.6L389.1,150.7L389.7,150.9L390.3,151L390.9,151.1L391.5,151.3L392.2,151.4L392.8,151.5L393.4,151.6L394,151.7L394.6,151.8L395.2,152L395.8,152.1L396.4,152.2L397,152.3L397.6,152.4L398.2,152.5L398.8,152.6L399.4,152.6L400,152.7L400.6,152.8L401.2,152.9L401.8,153L402.5,153.1L403.1,153.2L403.7,153.2L404.3,153.3L404.9,153.4L405.5,153.5L406.1,153.5L406.7,153.6L407.3,153.7L407.9,153.7L408.5,153.8L409.1,153.9L409.7,153.9L410.3,154L410.9,154.1L411.5,154.1L412.1,154.2L412.7,154.2L413.4,154.3L414,154.4L414.6,154.4L415.2,154.5L415.8,154.5L416.4,154.6L417,154.6L417.6,154.7L418.2,154.7L418.8,154.8L419.4,154.8L420,154.9L420.6,154.9L421.2,155L421.8,155L422.4,155.1L423,155.1L423.6,155.1L424.3,155.2L424.9,155.2L425.5,155.3L426.1,155.3L426.7,155.4L427.3,155.4L427.9,155.4L428.5,155.5L429.1,155.5L429.7,155.5L430.3,155.6L430.9,155.6L431.5,155.7L432.1,155.7L432.7,155.7L433.3,155.8L433.9,155.8L434.5,155.8L435.2,155.9L435.8,155.9" fill="none" stroke="#2fc3a2" stroke-width="1.25" stroke-linejoin="round" stroke-linecap="round"/>
<defs>
<clipPath id="cieclip"><path d="M393.8,117.3L393.6,117.3L392.6,116.8L391.6,115.9L389.8,114.4L387,111.7L382.5,105.3L379.2,98.8L375,88.4L369.9,73L364.6,51.7L363.7,46.9L430.3,46.9L430.3,100.4Z"/></clipPath>
<linearGradient id="cg0" gradientUnits="userSpaceOnUse" x1="354.3" x2="430.35" y1="0" y2="0"><stop offset="0" stop-color="#09e4ec"/><stop offset="0.08" stop-color="#0ae7ea"/><stop offset="0.17" stop-color="#08ebe7"/><stop offset="0.25" stop-color="#04efe4"/><stop offset="0.33" stop-color="#00f3e1"/><stop offset="0.42" stop-color="#00f4dd"/><stop offset="0.5" stop-color="#05f3d9"/><stop offset="0.58" stop-color="#19f1d7"/><stop offset="0.67" stop-color="#44f4d8"/><stop offset="0.75" stop-color="#78f7da"/><stop offset="0.83" stop-color="#a5f5d9"/><stop offset="0.92" stop-color="#c9ecd4"/><stop offset="1" stop-color="#e7dece"/></linearGradient>
<linearGradient id="cg1" gradientUnits="userSpaceOnUse" x1="354.3" x2="430.35" y1="0" y2="0"><stop offset="0" stop-color="#09e2ed"/><stop offset="0.08" stop-color="#0ae5eb"/><stop offset="0.17" stop-color="#08e9e9"/><stop offset="0.25" stop-color="#04ede6"/><stop offset="0.33" stop-color="#00f0e3"/><stop offset="0.42" stop-color="#00f1df"/><stop offset="0.5" stop-color="#03efdb"/><stop offset="0.58" stop-color="#17edd9"/><stop offset="0.67" stop-color="#44f0db"/><stop offset="0.75" stop-color="#7af3de"/><stop offset="0.83" stop-color="#a9f1dd"/><stop offset="0.92" stop-color="#cde7d7"/><stop offset="1" stop-color="#ebd9d1"/></linearGradient>
<linearGradient id="cg2" gradientUnits="userSpaceOnUse" x1="354.3" x2="430.35" y1="0" y2="0"><stop offset="0" stop-color="#09e0ee"/><stop offset="0.08" stop-color="#0ae3ed"/><stop offset="0.17" stop-color="#08e7eb"/><stop offset="0.25" stop-color="#03eae8"/><stop offset="0.33" stop-color="#00ede5"/><stop offset="0.42" stop-color="#00eee2"/><stop offset="0.5" stop-color="#03ecde"/><stop offset="0.58" stop-color="#17e9dc"/><stop offset="0.67" stop-color="#44ecde"/><stop offset="0.75" stop-color="#7ceee1"/><stop offset="0.83" stop-color="#acece1"/><stop offset="0.92" stop-color="#d0e2db"/><stop offset="1" stop-color="#eed3d5"/></linearGradient>
<linearGradient id="cg3" gradientUnits="userSpaceOnUse" x1="354.3" x2="430.35" y1="0" y2="0"><stop offset="0" stop-color="#08deef"/><stop offset="0.08" stop-color="#09e1ee"/><stop offset="0.17" stop-color="#07e4ec"/><stop offset="0.25" stop-color="#03e8ea"/><stop offset="0.33" stop-color="#00eae8"/><stop offset="0.42" stop-color="#00ebe4"/><stop offset="0.5" stop-color="#03e9e1"/><stop offset="0.58" stop-color="#18e6df"/><stop offset="0.67" stop-color="#45e7e2"/><stop offset="0.75" stop-color="#7de9e5"/><stop offset="0.83" stop-color="#afe7e5"/><stop offset="0.92" stop-color="#d4dcdf"/><stop offset="1" stop-color="#f1cdd8"/></linearGradient>
<linearGradient id="cg4" gradientUnits="userSpaceOnUse" x1="354.3" x2="430.35" y1="0" y2="0"><stop offset="0" stop-color="#07ddf1"/><stop offset="0.08" stop-color="#08dff0"/><stop offset="0.17" stop-color="#06e2ee"/><stop offset="0.25" stop-color="#02e5ec"/><stop offset="0.33" stop-color="#00e8ea"/><stop offset="0.42" stop-color="#00e8e7"/><stop offset="0.5" stop-color="#03e5e4"/><stop offset="0.58" stop-color="#19e2e2"/><stop offset="0.67" stop-color="#46e2e5"/><stop offset="0.75" stop-color="#7ee3e8"/><stop offset="0.83" stop-color="#b0e0e9"/><stop offset="0.92" stop-color="#d6d5e3"/><stop offset="1" stop-color="#f5c6dc"/></linearGradient>
<linearGradient id="cg5" gradientUnits="userSpaceOnUse" x1="354.3" x2="430.35" y1="0" y2="0"><stop offset="0" stop-color="#07dbf2"/><stop offset="0.08" stop-color="#07ddf1"/><stop offset="0.17" stop-color="#06e0f0"/><stop offset="0.25" stop-color="#02e3ee"/><stop offset="0.33" stop-color="#00e5ec"/><stop offset="0.42" stop-color="#00e4e9"/><stop offset="0.5" stop-color="#04e1e6"/><stop offset="0.58" stop-color="#1bdee5"/><stop offset="0.67" stop-color="#47dde8"/><stop offset="0.75" stop-color="#7eddeb"/><stop offset="0.83" stop-color="#b1d9eb"/><stop offset="0.92" stop-color="#d9cee6"/><stop offset="1" stop-color="#f7bedf"/></linearGradient>
<linearGradient id="cg6" gradientUnits="userSpaceOnUse" x1="354.3" x2="430.35" y1="0" y2="0"><stop offset="0" stop-color="#06d9f3"/><stop offset="0.08" stop-color="#06dcf2"/><stop offset="0.17" stop-color="#05def1"/><stop offset="0.25" stop-color="#01e1f0"/><stop offset="0.33" stop-color="#00e2ee"/><stop offset="0.42" stop-color="#00e1ec"/><stop offset="0.5" stop-color="#05dde9"/><stop offset="0.58" stop-color="#1dd9e8"/><stop offset="0.67" stop-color="#48d7eb"/><stop offset="0.75" stop-color="#7fd5ee"/><stop offset="0.83" stop-color="#b2d0ee"/><stop offset="0.92" stop-color="#dbc5e9"/><stop offset="1" stop-color="#fab5e2"/></linearGradient>
<linearGradient id="cg7" gradientUnits="userSpaceOnUse" x1="354.3" x2="430.35" y1="0" y2="0"><stop offset="0" stop-color="#05d8f4"/><stop offset="0.08" stop-color="#05daf3"/><stop offset="0.17" stop-color="#04ddf3"/><stop offset="0.25" stop-color="#01def2"/><stop offset="0.33" stop-color="#00dff0"/><stop offset="0.42" stop-color="#00ddee"/><stop offset="0.5" stop-color="#07d9ec"/><stop offset="0.58" stop-color="#1ed4eb"/><stop offset="0.67" stop-color="#49d1ed"/><stop offset="0.75" stop-color="#7fcef0"/><stop offset="0.83" stop-color="#b3c7f0"/><stop offset="0.92" stop-color="#ddbbec"/><stop offset="1" stop-color="#fcabe5"/></linearGradient>
<linearGradient id="cg8" gradientUnits="userSpaceOnUse" x1="354.3" x2="430.35" y1="0" y2="0"><stop offset="0" stop-color="#04d6f5"/><stop offset="0.08" stop-color="#04d8f4"/><stop offset="0.17" stop-color="#03dbf4"/><stop offset="0.25" stop-color="#00dcf3"/><stop offset="0.33" stop-color="#00dcf2"/><stop offset="0.42" stop-color="#00daf0"/><stop offset="0.5" stop-color="#08d5ee"/><stop offset="0.58" stop-color="#20cfed"/><stop offset="0.67" stop-color="#4bcaef"/><stop offset="0.75" stop-color="#81c5f2"/><stop offset="0.83" stop-color="#b4bdf2"/><stop offset="0.92" stop-color="#deb1ee"/><stop offset="1" stop-color="#fea0e7"/></linearGradient>
<linearGradient id="cg9" gradientUnits="userSpaceOnUse" x1="354.3" x2="430.35" y1="0" y2="0"><stop offset="0" stop-color="#03d5f6"/><stop offset="0.08" stop-color="#03d7f5"/><stop offset="0.17" stop-color="#02d9f5"/><stop offset="0.25" stop-color="#00daf5"/><stop offset="0.33" stop-color="#00d9f4"/><stop offset="0.42" stop-color="#00d6f2"/><stop offset="0.5" stop-color="#0ad1f0"/><stop offset="0.58" stop-color="#23caef"/><stop offset="0.67" stop-color="#4dc3f1"/><stop offset="0.75" stop-color="#83bcf3"/><stop offset="0.83" stop-color="#b6b2f3"/><stop offset="0.92" stop-color="#e0a5ef"/><stop offset="1" stop-color="#ff94e9"/></linearGradient>
<linearGradient id="cg10" gradientUnits="userSpaceOnUse" x1="354.3" x2="430.35" y1="0" y2="0"><stop offset="0" stop-color="#02d3f6"/><stop offset="0.08" stop-color="#03d5f6"/><stop offset="0.17" stop-color="#01d7f6"/><stop offset="0.25" stop-color="#00d8f6"/><stop offset="0.33" stop-color="#00d6f5"/><stop offset="0.42" stop-color="#01d2f4"/><stop offset="0.5" stop-color="#0cccf2"/><stop offset="0.58" stop-color="#25c4f1"/><stop offset="0.67" stop-color="#50bcf2"/><stop offset="0.75" stop-color="#85b3f4"/><stop offset="0.83" stop-color="#b8a7f4"/><stop offset="0.92" stop-color="#e198f0"/><stop offset="1" stop-color="#ff87ea"/></linearGradient>
<linearGradient id="cg11" gradientUnits="userSpaceOnUse" x1="354.3" x2="430.35" y1="0" y2="0"><stop offset="0" stop-color="#02d1f7"/><stop offset="0.08" stop-color="#02d3f7"/><stop offset="0.17" stop-color="#00d5f7"/><stop offset="0.25" stop-color="#00d5f7"/><stop offset="0.33" stop-color="#00d3f6"/><stop offset="0.42" stop-color="#02cff5"/><stop offset="0.5" stop-color="#0ec8f3"/><stop offset="0.58" stop-color="#29bff3"/><stop offset="0.67" stop-color="#54b5f4"/><stop offset="0.75" stop-color="#89aaf5"/><stop offset="0.83" stop-color="#ba9cf5"/><stop offset="0.92" stop-color="#e28bf1"/><stop offset="1" stop-color="#ff7aeb"/></linearGradient>
<linearGradient id="cg12" gradientUnits="userSpaceOnUse" x1="354.3" x2="430.35" y1="0" y2="0"><stop offset="0" stop-color="#01cff8"/><stop offset="0.08" stop-color="#01d1f8"/><stop offset="0.17" stop-color="#00d3f8"/><stop offset="0.25" stop-color="#00d3f8"/><stop offset="0.33" stop-color="#00d0f7"/><stop offset="0.42" stop-color="#03cbf6"/><stop offset="0.5" stop-color="#10c3f4"/><stop offset="0.58" stop-color="#2cb9f4"/><stop offset="0.67" stop-color="#59adf4"/><stop offset="0.75" stop-color="#8ea0f5"/><stop offset="0.83" stop-color="#bd90f5"/><stop offset="0.92" stop-color="#e47ef2"/><stop offset="1" stop-color="#ff6dec"/></linearGradient>
<linearGradient id="cg13" gradientUnits="userSpaceOnUse" x1="354.3" x2="430.35" y1="0" y2="0"><stop offset="0" stop-color="#00cdf8"/><stop offset="0.08" stop-color="#00cff8"/><stop offset="0.17" stop-color="#00d1f9"/><stop offset="0.25" stop-color="#00d0f9"/><stop offset="0.33" stop-color="#00cdf8"/><stop offset="0.42" stop-color="#04c7f7"/><stop offset="0.5" stop-color="#12bef5"/><stop offset="0.58" stop-color="#30b3f5"/><stop offset="0.67" stop-color="#5ea6f5"/><stop offset="0.75" stop-color="#9296f6"/><stop offset="0.83" stop-color="#c184f5"/><stop offset="0.92" stop-color="#e570f2"/><stop offset="1" stop-color="#ff5fec"/></linearGradient>
<linearGradient id="cg14" gradientUnits="userSpaceOnUse" x1="354.3" x2="430.35" y1="0" y2="0"><stop offset="0" stop-color="#00ccf9"/><stop offset="0.08" stop-color="#00cdf9"/><stop offset="0.17" stop-color="#00cef9"/><stop offset="0.25" stop-color="#00cdf9"/><stop offset="0.33" stop-color="#00caf9"/><stop offset="0.42" stop-color="#05c2f8"/><stop offset="0.5" stop-color="#14b9f6"/><stop offset="0.58" stop-color="#34acf5"/><stop offset="0.67" stop-color="#629ef5"/><stop offset="0.75" stop-color="#978df6"/><stop offset="0.83" stop-color="#c479f5"/><stop offset="0.92" stop-color="#e663f2"/><stop offset="1" stop-color="#ff52ec"/></linearGradient>
<linearGradient id="cg15" gradientUnits="userSpaceOnUse" x1="354.3" x2="430.35" y1="0" y2="0"><stop offset="0" stop-color="#00c9f9"/><stop offset="0.08" stop-color="#00cbf9"/><stop offset="0.17" stop-color="#00ccfa"/><stop offset="0.25" stop-color="#00cbfa"/><stop offset="0.33" stop-color="#00c6f9"/><stop offset="0.42" stop-color="#06bef8"/><stop offset="0.5" stop-color="#17b3f7"/><stop offset="0.58" stop-color="#37a6f6"/><stop offset="0.67" stop-color="#6796f5"/><stop offset="0.75" stop-color="#9c83f5"/><stop offset="0.83" stop-color="#c76ef4"/><stop offset="0.92" stop-color="#e757f1"/><stop offset="1" stop-color="#ff45ec"/></linearGradient>
<linearGradient id="cg16" gradientUnits="userSpaceOnUse" x1="354.3" x2="430.35" y1="0" y2="0"><stop offset="0" stop-color="#00c7fa"/><stop offset="0.08" stop-color="#00c9fa"/><stop offset="0.17" stop-color="#00c9fa"/><stop offset="0.25" stop-color="#00c7fa"/><stop offset="0.33" stop-color="#00c2fa"/><stop offset="0.42" stop-color="#07b9f9"/><stop offset="0.5" stop-color="#19adf7"/><stop offset="0.58" stop-color="#3b9ff6"/><stop offset="0.67" stop-color="#6c8ef5"/><stop offset="0.75" stop-color="#a07af5"/><stop offset="0.83" stop-color="#ca64f4"/><stop offset="0.92" stop-color="#e84cf1"/><stop offset="1" stop-color="#ff3aeb"/></linearGradient>
<linearGradient id="cg17" gradientUnits="userSpaceOnUse" x1="354.3" x2="430.35" y1="0" y2="0"><stop offset="0" stop-color="#00c5fa"/><stop offset="0.08" stop-color="#00c6fa"/><stop offset="0.17" stop-color="#00c6fa"/><stop offset="0.25" stop-color="#00c4fb"/><stop offset="0.33" stop-color="#00befa"/><stop offset="0.42" stop-color="#08b4f9"/><stop offset="0.5" stop-color="#1ba7f8"/><stop offset="0.58" stop-color="#3e98f6"/><stop offset="0.67" stop-color="#7086f5"/><stop offset="0.75" stop-color="#a471f4"/><stop offset="0.83" stop-color="#cc5af3"/><stop offset="0.92" stop-color="#e942f0"/><stop offset="1" stop-color="#ff2feb"/></linearGradient>
<linearGradient id="cg18" gradientUnits="userSpaceOnUse" x1="354.3" x2="430.35" y1="0" y2="0"><stop offset="0" stop-color="#00c2fa"/><stop offset="0.08" stop-color="#00c3fa"/><stop offset="0.17" stop-color="#00c3fb"/><stop offset="0.25" stop-color="#00c0fb"/><stop offset="0.33" stop-color="#00b9fb"/><stop offset="0.42" stop-color="#08aefa"/><stop offset="0.5" stop-color="#1ea0f8"/><stop offset="0.58" stop-color="#4290f6"/><stop offset="0.67" stop-color="#757df5"/><stop offset="0.75" stop-color="#a868f4"/><stop offset="0.83" stop-color="#cf51f2"/><stop offset="0.92" stop-color="#ea39ef"/><stop offset="1" stop-color="#fe26ea"/></linearGradient>
<linearGradient id="cg19" gradientUnits="userSpaceOnUse" x1="354.3" x2="430.35" y1="0" y2="0"><stop offset="0" stop-color="#00bffb"/><stop offset="0.08" stop-color="#00c0fb"/><stop offset="0.17" stop-color="#00bffb"/><stop offset="0.25" stop-color="#00bcfb"/><stop offset="0.33" stop-color="#00b4fb"/><stop offset="0.42" stop-color="#09a8fa"/><stop offset="0.5" stop-color="#2099f8"/><stop offset="0.58" stop-color="#4788f5"/><stop offset="0.67" stop-color="#7a75f4"/><stop offset="0.75" stop-color="#ad60f3"/><stop offset="0.83" stop-color="#d248f1"/><stop offset="0.92" stop-color="#eb31ee"/><stop offset="1" stop-color="#fe1fe9"/></linearGradient>
<linearGradient id="cg20" gradientUnits="userSpaceOnUse" x1="354.3" x2="430.35" y1="0" y2="0"><stop offset="0" stop-color="#00bcfb"/><stop offset="0.08" stop-color="#00bcfb"/><stop offset="0.17" stop-color="#00bbfb"/><stop offset="0.25" stop-color="#00b7fb"/><stop offset="0.33" stop-color="#00affb"/><stop offset="0.42" stop-color="#0aa2fa"/><stop offset="0.5" stop-color="#2391f8"/><stop offset="0.58" stop-color="#4b7ff5"/><stop offset="0.67" stop-color="#7f6bf4"/><stop offset="0.75" stop-color="#b157f2"/><stop offset="0.83" stop-color="#d540f0"/><stop offset="0.92" stop-color="#ec2aec"/><stop offset="1" stop-color="#fe1ae8"/></linearGradient>
<linearGradient id="cg21" gradientUnits="userSpaceOnUse" x1="354.3" x2="430.35" y1="0" y2="0"><stop offset="0" stop-color="#00b8fb"/><stop offset="0.08" stop-color="#00b9fb"/><stop offset="0.17" stop-color="#00b7fb"/><stop offset="0.25" stop-color="#00b3fb"/><stop offset="0.33" stop-color="#00aafb"/><stop offset="0.42" stop-color="#0b9bfa"/><stop offset="0.5" stop-color="#2689f8"/><stop offset="0.58" stop-color="#5076f5"/><stop offset="0.67" stop-color="#8462f3"/><stop offset="0.75" stop-color="#b64ef1"/><stop offset="0.83" stop-color="#d838ef"/><stop offset="0.92" stop-color="#ed24eb"/><stop offset="1" stop-color="#fe14e6"/></linearGradient>
<linearGradient id="cg22" gradientUnits="userSpaceOnUse" x1="354.3" x2="430.35" y1="0" y2="0"><stop offset="0" stop-color="#00b4fb"/><stop offset="0.08" stop-color="#00b4fb"/><stop offset="0.17" stop-color="#00b2fb"/><stop offset="0.25" stop-color="#00adfb"/><stop offset="0.33" stop-color="#00a4fb"/><stop offset="0.42" stop-color="#0c93fa"/><stop offset="0.5" stop-color="#2980f7"/><stop offset="0.58" stop-color="#556cf4"/><stop offset="0.67" stop-color="#8958f2"/><stop offset="0.75" stop-color="#ba45f0"/><stop offset="0.83" stop-color="#da30ee"/><stop offset="0.92" stop-color="#ee1dea"/><stop offset="1" stop-color="#fd0fe5"/></linearGradient>
<linearGradient id="cg23" gradientUnits="userSpaceOnUse" x1="354.3" x2="430.35" y1="0" y2="0"><stop offset="0" stop-color="#00b0fb"/><stop offset="0.08" stop-color="#00b0fb"/><stop offset="0.17" stop-color="#00adfb"/><stop offset="0.25" stop-color="#00a7fb"/><stop offset="0.33" stop-color="#009dfb"/><stop offset="0.42" stop-color="#0e8cf9"/><stop offset="0.5" stop-color="#2c76f7"/><stop offset="0.58" stop-color="#5962f4"/><stop offset="0.67" stop-color="#8e4ef2"/><stop offset="0.75" stop-color="#be3bef"/><stop offset="0.83" stop-color="#dd28ec"/><stop offset="0.92" stop-color="#ee16e8"/><stop offset="1" stop-color="#fd0ae3"/></linearGradient>
<linearGradient id="cg24" gradientUnits="userSpaceOnUse" x1="354.3" x2="430.35" y1="0" y2="0"><stop offset="0" stop-color="#00abfb"/><stop offset="0.08" stop-color="#00abfa"/><stop offset="0.17" stop-color="#00a7fb"/><stop offset="0.25" stop-color="#00a1fb"/><stop offset="0.33" stop-color="#0096fa"/><stop offset="0.42" stop-color="#0f83f9"/><stop offset="0.5" stop-color="#306cf6"/><stop offset="0.58" stop-color="#5e57f3"/><stop offset="0.67" stop-color="#9343f1"/><stop offset="0.75" stop-color="#c131ee"/><stop offset="0.83" stop-color="#df1feb"/><stop offset="0.92" stop-color="#ef10e7"/><stop offset="1" stop-color="#fc06e2"/></linearGradient>
<linearGradient id="cg25" gradientUnits="userSpaceOnUse" x1="354.3" x2="430.35" y1="0" y2="0"><stop offset="0" stop-color="#00a6fb"/><stop offset="0.08" stop-color="#00a5fa"/><stop offset="0.17" stop-color="#00a1fa"/><stop offset="0.25" stop-color="#009afa"/><stop offset="0.33" stop-color="#008ffa"/><stop offset="0.42" stop-color="#127bf8"/><stop offset="0.5" stop-color="#3362f5"/><stop offset="0.58" stop-color="#624cf2"/><stop offset="0.67" stop-color="#9739f0"/><stop offset="0.75" stop-color="#c427ee"/><stop offset="0.83" stop-color="#e018ea"/><stop offset="0.92" stop-color="#ef0ae5"/><stop offset="1" stop-color="#fb02e1"/></linearGradient>
<linearGradient id="cg26" gradientUnits="userSpaceOnUse" x1="354.3" x2="430.35" y1="0" y2="0"><stop offset="0" stop-color="#00a1fb"/><stop offset="0.08" stop-color="#009ffa"/><stop offset="0.17" stop-color="#009afa"/><stop offset="0.25" stop-color="#0093fa"/><stop offset="0.33" stop-color="#0187f9"/><stop offset="0.42" stop-color="#1471f6"/><stop offset="0.5" stop-color="#3658f3"/><stop offset="0.58" stop-color="#6642f1"/><stop offset="0.67" stop-color="#9b2fef"/><stop offset="0.75" stop-color="#c71eed"/><stop offset="0.83" stop-color="#e211e9"/><stop offset="0.92" stop-color="#ef06e4"/><stop offset="1" stop-color="#fb00df"/></linearGradient>
<linearGradient id="cg27" gradientUnits="userSpaceOnUse" x1="354.3" x2="430.35" y1="0" y2="0"><stop offset="0" stop-color="#009bfa"/><stop offset="0.08" stop-color="#0099fa"/><stop offset="0.17" stop-color="#0093f9"/><stop offset="0.25" stop-color="#008bf9"/><stop offset="0.33" stop-color="#047ef8"/><stop offset="0.42" stop-color="#1767f5"/><stop offset="0.5" stop-color="#3a4ef2"/><stop offset="0.58" stop-color="#6a38f0"/><stop offset="0.67" stop-color="#9e26ee"/><stop offset="0.75" stop-color="#ca16ec"/><stop offset="0.83" stop-color="#e30be8"/><stop offset="0.92" stop-color="#ef02e3"/><stop offset="1" stop-color="#fa00de"/></linearGradient>
<linearGradient id="cg28" gradientUnits="userSpaceOnUse" x1="354.3" x2="430.35" y1="0" y2="0"><stop offset="0" stop-color="#0095fa"/><stop offset="0.08" stop-color="#0092f9"/><stop offset="0.17" stop-color="#008cf9"/><stop offset="0.25" stop-color="#0082f8"/><stop offset="0.33" stop-color="#0774f7"/><stop offset="0.42" stop-color="#1b5ef4"/><stop offset="0.5" stop-color="#3e45f1"/><stop offset="0.58" stop-color="#6e2fef"/><stop offset="0.67" stop-color="#a11eed"/><stop offset="0.75" stop-color="#cb0feb"/><stop offset="0.83" stop-color="#e406e7"/><stop offset="0.92" stop-color="#f000e2"/><stop offset="1" stop-color="#fa00dd"/></linearGradient>
<linearGradient id="cg29" gradientUnits="userSpaceOnUse" x1="354.3" x2="430.35" y1="0" y2="0"><stop offset="0" stop-color="#008ffa"/><stop offset="0.08" stop-color="#008bf9"/><stop offset="0.17" stop-color="#0084f8"/><stop offset="0.25" stop-color="#027af7"/><stop offset="0.33" stop-color="#0b6bf5"/><stop offset="0.42" stop-color="#1f54f2"/><stop offset="0.5" stop-color="#423cef"/><stop offset="0.58" stop-color="#7227ee"/><stop offset="0.67" stop-color="#a317ec"/><stop offset="0.75" stop-color="#cc0aea"/><stop offset="0.83" stop-color="#e403e6"/><stop offset="0.92" stop-color="#ef00e1"/><stop offset="1" stop-color="#f900dc"/></linearGradient>
<linearGradient id="cg30" gradientUnits="userSpaceOnUse" x1="354.3" x2="430.35" y1="0" y2="0"><stop offset="0" stop-color="#0089fa"/><stop offset="0.08" stop-color="#0084f9"/><stop offset="0.17" stop-color="#007cf8"/><stop offset="0.25" stop-color="#0471f6"/><stop offset="0.33" stop-color="#0e61f4"/><stop offset="0.42" stop-color="#234cf1"/><stop offset="0.5" stop-color="#4634ee"/><stop offset="0.58" stop-color="#7520ed"/><stop offset="0.67" stop-color="#a511eb"/><stop offset="0.75" stop-color="#cc06e9"/><stop offset="0.83" stop-color="#e400e5"/><stop offset="0.92" stop-color="#ef00e0"/><stop offset="1" stop-color="#f800dc"/></linearGradient>
<linearGradient id="cg31" gradientUnits="userSpaceOnUse" x1="354.3" x2="430.35" y1="0" y2="0"><stop offset="0" stop-color="#0083fa"/><stop offset="0.08" stop-color="#007df8"/><stop offset="0.17" stop-color="#0275f7"/><stop offset="0.25" stop-color="#0769f5"/><stop offset="0.33" stop-color="#1259f3"/><stop offset="0.42" stop-color="#2744f0"/><stop offset="0.5" stop-color="#4b2eed"/><stop offset="0.58" stop-color="#7919ec"/><stop offset="0.67" stop-color="#a70cea"/><stop offset="0.75" stop-color="#cc03e8"/><stop offset="0.83" stop-color="#e300e4"/><stop offset="0.92" stop-color="#ee00e0"/><stop offset="1" stop-color="#f700db"/></linearGradient>
<linearGradient id="cg32" gradientUnits="userSpaceOnUse" x1="354.3" x2="430.35" y1="0" y2="0"><stop offset="0" stop-color="#007cf9"/><stop offset="0.08" stop-color="#0076f8"/><stop offset="0.17" stop-color="#036df6"/><stop offset="0.25" stop-color="#0a61f4"/><stop offset="0.33" stop-color="#1650f2"/><stop offset="0.42" stop-color="#2c3dee"/><stop offset="0.5" stop-color="#4e28ec"/><stop offset="0.58" stop-color="#7c14eb"/><stop offset="0.67" stop-color="#a808e9"/><stop offset="0.75" stop-color="#cc01e7"/><stop offset="0.83" stop-color="#e200e4"/><stop offset="0.92" stop-color="#ec00df"/><stop offset="1" stop-color="#f500da"/></linearGradient>
<linearGradient id="cg33" gradientUnits="userSpaceOnUse" x1="354.3" x2="430.35" y1="0" y2="0"><stop offset="0" stop-color="#0076f9"/><stop offset="0.08" stop-color="#006ff7"/><stop offset="0.17" stop-color="#0565f6"/><stop offset="0.25" stop-color="#0d58f4"/><stop offset="0.33" stop-color="#1a49f1"/><stop offset="0.42" stop-color="#3037ed"/><stop offset="0.5" stop-color="#5223ea"/><stop offset="0.58" stop-color="#7e0fe9"/><stop offset="0.67" stop-color="#a805e8"/><stop offset="0.75" stop-color="#cb00e6"/><stop offset="0.83" stop-color="#e000e3"/><stop offset="0.92" stop-color="#eb00de"/><stop offset="1" stop-color="#f300d9"/></linearGradient>
<linearGradient id="cg34" gradientUnits="userSpaceOnUse" x1="354.3" x2="430.35" y1="0" y2="0"><stop offset="0" stop-color="#006ff9"/><stop offset="0.08" stop-color="#0168f7"/><stop offset="0.17" stop-color="#075ef5"/><stop offset="0.25" stop-color="#1051f3"/><stop offset="0.33" stop-color="#1e41f0"/><stop offset="0.42" stop-color="#3431ec"/><stop offset="0.5" stop-color="#551fe9"/><stop offset="0.58" stop-color="#7f0de8"/><stop offset="0.67" stop-color="#a802e7"/><stop offset="0.75" stop-color="#c900e5"/><stop offset="0.83" stop-color="#de00e2"/><stop offset="0.92" stop-color="#e800dd"/><stop offset="1" stop-color="#f100d8"/></linearGradient>
<linearGradient id="cg35" gradientUnits="userSpaceOnUse" x1="354.3" x2="430.35" y1="0" y2="0"><stop offset="0" stop-color="#0069f8"/><stop offset="0.08" stop-color="#0261f6"/><stop offset="0.17" stop-color="#0957f4"/><stop offset="0.25" stop-color="#144af2"/><stop offset="0.33" stop-color="#223bef"/><stop offset="0.42" stop-color="#382beb"/><stop offset="0.5" stop-color="#581be8"/><stop offset="0.58" stop-color="#800ae7"/><stop offset="0.67" stop-color="#a700e6"/><stop offset="0.75" stop-color="#c700e4"/><stop offset="0.83" stop-color="#db00e1"/><stop offset="0.92" stop-color="#e600dc"/><stop offset="1" stop-color="#ef00d8"/></linearGradient>
</defs>
<line x1="365.65" y1="118.4" x2="365.65" y2="46.08" stroke="#e2e2e2" stroke-width="0.6"/>
<line x1="354.3" y1="107.1" x2="430.35" y2="107.1" stroke="#e2e2e2" stroke-width="0.6"/>
<line x1="377" y1="118.4" x2="377" y2="46.08" stroke="#e2e2e2" stroke-width="0.6"/>
<line x1="354.3" y1="95.8" x2="430.35" y2="95.8" stroke="#e2e2e2" stroke-width="0.6"/>
<line x1="388.35" y1="118.4" x2="388.35" y2="46.08" stroke="#e2e2e2" stroke-width="0.6"/>
<line x1="354.3" y1="84.5" x2="430.35" y2="84.5" stroke="#e2e2e2" stroke-width="0.6"/>
<line x1="399.7" y1="118.4" x2="399.7" y2="46.08" stroke="#e2e2e2" stroke-width="0.6"/>
<line x1="354.3" y1="73.2" x2="430.35" y2="73.2" stroke="#e2e2e2" stroke-width="0.6"/>
<line x1="411.05" y1="118.4" x2="411.05" y2="46.08" stroke="#e2e2e2" stroke-width="0.6"/>
<line x1="354.3" y1="61.9" x2="430.35" y2="61.9" stroke="#e2e2e2" stroke-width="0.6"/>
<line x1="422.4" y1="118.4" x2="422.4" y2="46.08" stroke="#e2e2e2" stroke-width="0.6"/>
<line x1="354.3" y1="50.6" x2="430.35" y2="50.6" stroke="#e2e2e2" stroke-width="0.6"/>
<g clip-path="url(#cieclip)">
<rect x="354.3" y="46.08" width="76.05" height="3.21" fill="url(#cg0)" stroke="none" stroke-width="0.8"/>
<rect x="354.3" y="48.09" width="76.05" height="3.21" fill="url(#cg1)" stroke="none" stroke-width="0.8"/>
<rect x="354.3" y="50.1" width="76.05" height="3.21" fill="url(#cg2)" stroke="none" stroke-width="0.8"/>
<rect x="354.3" y="52.11" width="76.05" height="3.21" fill="url(#cg3)" stroke="none" stroke-width="0.8"/>
<rect x="354.3" y="54.12" width="76.05" height="3.21" fill="url(#cg4)" stroke="none" stroke-width="0.8"/>
<rect x="354.3" y="56.12" width="76.05" height="3.21" fill="url(#cg5)" stroke="none" stroke-width="0.8"/>
<rect x="354.3" y="58.13" width="76.05" height="3.21" fill="url(#cg6)" stroke="none" stroke-width="0.8"/>
<rect x="354.3" y="60.14" width="76.05" height="3.21" fill="url(#cg7)" stroke="none" stroke-width="0.8"/>
<rect x="354.3" y="62.15" width="76.05" height="3.21" fill="url(#cg8)" stroke="none" stroke-width="0.8"/>
<rect x="354.3" y="64.16" width="76.05" height="3.21" fill="url(#cg9)" stroke="none" stroke-width="0.8"/>
<rect x="354.3" y="66.17" width="76.05" height="3.21" fill="url(#cg10)" stroke="none" stroke-width="0.8"/>
<rect x="354.3" y="68.18" width="76.05" height="3.21" fill="url(#cg11)" stroke="none" stroke-width="0.8"/>
<rect x="354.3" y="70.19" width="76.05" height="3.21" fill="url(#cg12)" stroke="none" stroke-width="0.8"/>
<rect x="354.3" y="72.2" width="76.05" height="3.21" fill="url(#cg13)" stroke="none" stroke-width="0.8"/>
<rect x="354.3" y="74.2" width="76.05" height="3.21" fill="url(#cg14)" stroke="none" stroke-width="0.8"/>
<rect x="354.3" y="76.21" width="76.05" height="3.21" fill="url(#cg15)" stroke="none" stroke-width="0.8"/>
<rect x="354.3" y="78.22" width="76.05" height="3.21" fill="url(#cg16)" stroke="none" stroke-width="0.8"/>
<rect x="354.3" y="80.23" width="76.05" height="3.21" fill="url(#cg17)" stroke="none" stroke-width="0.8"/>
<rect x="354.3" y="82.24" width="76.05" height="3.21" fill="url(#cg18)" stroke="none" stroke-width="0.8"/>
<rect x="354.3" y="84.25" width="76.05" height="3.21" fill="url(#cg19)" stroke="none" stroke-width="0.8"/>
<rect x="354.3" y="86.26" width="76.05" height="3.21" fill="url(#cg20)" stroke="none" stroke-width="0.8"/>
<rect x="354.3" y="88.27" width="76.05" height="3.21" fill="url(#cg21)" stroke="none" stroke-width="0.8"/>
<rect x="354.3" y="90.28" width="76.05" height="3.21" fill="url(#cg22)" stroke="none" stroke-width="0.8"/>
<rect x="354.3" y="92.28" width="76.05" height="3.21" fill="url(#cg23)" stroke="none" stroke-width="0.8"/>
<rect x="354.3" y="94.29" width="76.05" height="3.21" fill="url(#cg24)" stroke="none" stroke-width="0.8"/>
<rect x="354.3" y="96.3" width="76.05" height="3.21" fill="url(#cg25)" stroke="none" stroke-width="0.8"/>
<rect x="354.3" y="98.31" width="76.05" height="3.21" fill="url(#cg26)" stroke="none" stroke-width="0.8"/>
<rect x="354.3" y="100.32" width="76.05" height="3.21" fill="url(#cg27)" stroke="none" stroke-width="0.8"/>
<rect x="354.3" y="102.33" width="76.05" height="3.21" fill="url(#cg28)" stroke="none" stroke-width="0.8"/>
<rect x="354.3" y="104.34" width="76.05" height="3.21" fill="url(#cg29)" stroke="none" stroke-width="0.8"/>
<rect x="354.3" y="106.35" width="76.05" height="3.21" fill="url(#cg30)" stroke="none" stroke-width="0.8"/>
<rect x="354.3" y="108.36" width="76.05" height="3.21" fill="url(#cg31)" stroke="none" stroke-width="0.8"/>
<rect x="354.3" y="110.36" width="76.05" height="3.21" fill="url(#cg32)" stroke="none" stroke-width="0.8"/>
<rect x="354.3" y="112.37" width="76.05" height="3.21" fill="url(#cg33)" stroke="none" stroke-width="0.8"/>
<rect x="354.3" y="114.38" width="76.05" height="3.21" fill="url(#cg34)" stroke="none" stroke-width="0.8"/>
<rect x="354.3" y="116.39" width="76.05" height="3.21" fill="url(#cg35)" stroke="none" stroke-width="0.8"/>
</g>
<line x1="354.3" y1="118.4" x2="431.48" y2="118.4" stroke="#777" stroke-width="0.7"/>
<line x1="354.3" y1="118.4" x2="354.3" y2="44.95" stroke="#777" stroke-width="0.7"/>
<line x1="354.3" y1="118.4" x2="354.3" y2="120.6" stroke="#777" stroke-width="0.7"/>
<line x1="354.3" y1="118.4" x2="352.1" y2="118.4" stroke="#777" stroke-width="0.7"/>
<text x="354.6" y="126.4" font-size="6.9" text-anchor="middle" fill="#2c2c2c" stroke="#2c2c2c" stroke-width="0.05">0.0</text>
<text x="351.6" y="120.3" font-size="6.9" text-anchor="end" fill="#2c2c2c" stroke="#2c2c2c" stroke-width="0.05">0.0</text>
<line x1="377" y1="118.4" x2="377" y2="120.6" stroke="#777" stroke-width="0.7"/>
<line x1="354.3" y1="95.8" x2="352.1" y2="95.8" stroke="#777" stroke-width="0.7"/>
<text x="377.3" y="126.4" font-size="6.9" text-anchor="middle" fill="#2c2c2c" stroke="#2c2c2c" stroke-width="0.05">0.1</text>
<text x="351.6" y="97.7" font-size="6.9" text-anchor="end" fill="#2c2c2c" stroke="#2c2c2c" stroke-width="0.05">0.1</text>
<line x1="399.7" y1="118.4" x2="399.7" y2="120.6" stroke="#777" stroke-width="0.7"/>
<line x1="354.3" y1="73.2" x2="352.1" y2="73.2" stroke="#777" stroke-width="0.7"/>
<text x="400" y="126.4" font-size="6.9" text-anchor="middle" fill="#2c2c2c" stroke="#2c2c2c" stroke-width="0.05">0.2</text>
<text x="351.6" y="75.1" font-size="6.9" text-anchor="end" fill="#2c2c2c" stroke="#2c2c2c" stroke-width="0.05">0.2</text>
<line x1="422.4" y1="118.4" x2="422.4" y2="120.6" stroke="#777" stroke-width="0.7"/>
<line x1="354.3" y1="50.6" x2="352.1" y2="50.6" stroke="#777" stroke-width="0.7"/>
<text x="422.7" y="126.4" font-size="6.9" text-anchor="middle" fill="#2c2c2c" stroke="#2c2c2c" stroke-width="0.05">0.3</text>
<text x="351.6" y="52.5" font-size="6.9" text-anchor="end" fill="#2c2c2c" stroke="#2c2c2c" stroke-width="0.05">0.3</text>
<line x1="365.65" y1="118.4" x2="365.65" y2="119.7" stroke="#777" stroke-width="0.6"/>
<line x1="354.3" y1="107.1" x2="353" y2="107.1" stroke="#777" stroke-width="0.6"/>
<line x1="388.35" y1="118.4" x2="388.35" y2="119.7" stroke="#777" stroke-width="0.6"/>
<line x1="354.3" y1="84.5" x2="353" y2="84.5" stroke="#777" stroke-width="0.6"/>
<line x1="411.05" y1="118.4" x2="411.05" y2="119.7" stroke="#777" stroke-width="0.6"/>
<line x1="354.3" y1="61.9" x2="353" y2="61.9" stroke="#777" stroke-width="0.6"/>
<text x="391.4" y="133.6" font-size="8.6" text-anchor="middle" fill="#1a1a1a" stroke="#1a1a1a" stroke-width="0.15">x</text>
<text x="338" y="82" font-size="8.6" text-anchor="middle" fill="#1a1a1a" stroke="#1a1a1a" stroke-width="0.15">y</text>
<circle cx="393.8" cy="83.7" r="1.7" fill="#6fd49a" stroke="#2a8a50" stroke-width="0.9"/>
<path d="M392.9,89.8 L395.3,92.2 L392.9,94.6 L390.5,92.2 Z" fill="#10148c"/>
<text x="397.6" y="86.6" font-size="7.1" fill="#1a2a3a" stroke="#1a2a3a" stroke-width="0.15">Film</text>
<text x="396.4" y="95" font-size="7" fill="#1a1440" stroke="#1a1440" stroke-width="0.15">Spherulite</text>
<line x1="266.5" y1="10" x2="435.5" y2="10" stroke="#555" stroke-width="1.1"/>
<line x1="435.5" y1="10" x2="435.5" y2="158.4" stroke="#444" stroke-width="1"/>
<line x1="266.5" y1="9.45" x2="266.5" y2="158.95" stroke="#222" stroke-width="1.1"/>
<line x1="265.95" y1="158.4" x2="436" y2="158.4" stroke="#222" stroke-width="1.1"/>
<line x1="266.5" y1="157.3" x2="263.1" y2="157.3" stroke="#222" stroke-width="0.9"/>
<text x="262.2" y="160.3" font-size="8.3" text-anchor="end" fill="#1a1a1a" stroke="#1a1a1a" stroke-width="0.15">0.0</text>
<line x1="266.5" y1="130.52" x2="263.1" y2="130.52" stroke="#222" stroke-width="0.9"/>
<text x="262.2" y="133.52" font-size="8.3" text-anchor="end" fill="#1a1a1a" stroke="#1a1a1a" stroke-width="0.15">0.2</text>
<line x1="266.5" y1="103.74" x2="263.1" y2="103.74" stroke="#222" stroke-width="0.9"/>
<text x="262.2" y="106.74" font-size="8.3" text-anchor="end" fill="#1a1a1a" stroke="#1a1a1a" stroke-width="0.15">0.4</text>
<line x1="266.5" y1="76.96" x2="263.1" y2="76.96" stroke="#222" stroke-width="0.9"/>
<text x="262.2" y="79.96" font-size="8.3" text-anchor="end" fill="#1a1a1a" stroke="#1a1a1a" stroke-width="0.15">0.6</text>
<line x1="266.5" y1="50.18" x2="263.1" y2="50.18" stroke="#222" stroke-width="0.9"/>
<text x="262.2" y="53.18" font-size="8.3" text-anchor="end" fill="#1a1a1a" stroke="#1a1a1a" stroke-width="0.15">0.8</text>
<line x1="266.5" y1="23.4" x2="263.1" y2="23.4" stroke="#222" stroke-width="0.9"/>
<text x="262.2" y="26.4" font-size="8.3" text-anchor="end" fill="#1a1a1a" stroke="#1a1a1a" stroke-width="0.15">1.0</text>
<line x1="266.5" y1="143.91" x2="264.5" y2="143.91" stroke="#222" stroke-width="0.8"/>
<line x1="266.5" y1="117.13" x2="264.5" y2="117.13" stroke="#222" stroke-width="0.8"/>
<line x1="266.5" y1="90.35" x2="264.5" y2="90.35" stroke="#222" stroke-width="0.8"/>
<line x1="266.5" y1="63.57" x2="264.5" y2="63.57" stroke="#222" stroke-width="0.8"/>
<line x1="266.5" y1="36.79" x2="264.5" y2="36.79" stroke="#222" stroke-width="0.8"/>
<line x1="269.4" y1="158.4" x2="269.4" y2="161.9" stroke="#222" stroke-width="0.9"/>
<text x="269.4" y="169.4" font-size="8.3" text-anchor="middle" fill="#1a1a1a" stroke="#1a1a1a" stroke-width="0.15">400</text>
<line x1="299.68" y1="158.4" x2="299.68" y2="161.9" stroke="#222" stroke-width="0.9"/>
<text x="299.68" y="169.4" font-size="8.3" text-anchor="middle" fill="#1a1a1a" stroke="#1a1a1a" stroke-width="0.15">450</text>
<line x1="329.96" y1="158.4" x2="329.96" y2="161.9" stroke="#222" stroke-width="0.9"/>
<text x="329.96" y="169.4" font-size="8.3" text-anchor="middle" fill="#1a1a1a" stroke="#1a1a1a" stroke-width="0.15">500</text>
<line x1="360.24" y1="158.4" x2="360.24" y2="161.9" stroke="#222" stroke-width="0.9"/>
<text x="360.24" y="169.4" font-size="8.3" text-anchor="middle" fill="#1a1a1a" stroke="#1a1a1a" stroke-width="0.15">550</text>
<line x1="390.52" y1="158.4" x2="390.52" y2="161.9" stroke="#222" stroke-width="0.9"/>
<text x="390.52" y="169.4" font-size="8.3" text-anchor="middle" fill="#1a1a1a" stroke="#1a1a1a" stroke-width="0.15">600</text>
<line x1="420.8" y1="158.4" x2="420.8" y2="161.9" stroke="#222" stroke-width="0.9"/>
<text x="420.8" y="169.4" font-size="8.3" text-anchor="middle" fill="#1a1a1a" stroke="#1a1a1a" stroke-width="0.15">650</text>
<line x1="284.54" y1="158.4" x2="284.54" y2="160.5" stroke="#222" stroke-width="0.8"/>
<line x1="314.82" y1="158.4" x2="314.82" y2="160.5" stroke="#222" stroke-width="0.8"/>
<line x1="345.1" y1="158.4" x2="345.1" y2="160.5" stroke="#222" stroke-width="0.8"/>
<line x1="375.38" y1="158.4" x2="375.38" y2="160.5" stroke="#222" stroke-width="0.8"/>
<line x1="405.66" y1="158.4" x2="405.66" y2="160.5" stroke="#222" stroke-width="0.8"/>
<line x1="435.94" y1="158.4" x2="435.94" y2="160.5" stroke="#222" stroke-width="0.8"/>
<text x="351" y="183" font-size="9.5" text-anchor="middle" fill="#1a1a1a" stroke="#1a1a1a" stroke-width="0.15">Wavelength (nm)</text>
<text x="241.1" y="83.6" font-size="9.5" text-anchor="middle" fill="#1a1a1a" stroke="#1a1a1a" stroke-width="0.15" transform="rotate(-90 241.1 83.6)">EL Intensity (Norm.)</text>
<line x1="309" y1="21.6" x2="323.8" y2="21.6" stroke="#2fc3a2" stroke-width="1.2"/>
<line x1="309" y1="33.8" x2="323.8" y2="33.8" stroke="#2338d2" stroke-width="1.2"/>
<text x="329.3" y="25" font-size="7.5" fill="#2a2a2a" stroke="#2a2a2a" stroke-width="0.05">Film @293 mA cm<tspan font-size="64%" dy="-0.58em">-2</tspan></text>
<text x="328.8" y="36.5" font-size="7.5" fill="#2a2a2a" stroke="#2a2a2a" stroke-width="0.05">Spherulite @271 mA cm<tspan font-size="64%" dy="-0.58em">-2</tspan></text>
</g>
<g id="pc">
<text x="457.8" y="10.1" font-size="13.3" fill="#000" font-weight="bold">c</text>
<path d="M488,152.8L488.4,153.6L488.7,154.3L489.1,153.8L489.4,153.6L489.7,153.5L490.1,152.5L490.4,152.4L490.8,152.5L491.1,151.8L491.5,151.9L491.8,153L492.2,152.8L492.5,151.4L492.9,150.9L493.2,151.2L493.6,151L493.9,150.1L494.3,148.6L494.6,147.2L495,145.9L495.3,143L495.7,139.8L496,136.9L496.3,133.8L496.7,130.4L497,125.8L497.4,120.3L497.7,113.1L498.1,105.1L498.4,97.2L498.8,88.3L499.1,78.5L499.5,66.9L499.8,54L500.2,43.8L500.5,36.8L500.9,30.1L501.2,26.2L501.6,24.5L501.9,25L502.3,27.2L502.6,29.4L503,32.2L503.3,37.2L503.6,42.2L504,44.9L504.3,47.8L504.7,52.6L505,57.4L505.4,62.1L505.7,67.6L506.1,72.4L506.4,75.8L506.8,78.5L507.1,81.2L507.5,83.8L507.8,86.3L508.2,87.9L508.5,89.5L508.9,90.3L509.2,89.2L509.6,88.8L509.9,88.9L510.2,88.3L510.6,87.5L510.9,85.9L511.3,84.1L511.6,84.9L512,88.5L512.3,91.3L512.7,92.1L513,92.7L513.4,94.7L513.7,98.8L514.1,102.5L514.4,102.7L514.8,102.5L515.1,104.5L515.5,107L515.8,109.7L516.2,111.6L516.5,112.5L516.9,113.3L517.2,114.5L517.5,116L517.9,117.1L518.2,117L518.6,116.7L518.9,116.1L519.3,116.5L519.6,118.5L520,120.4L520.3,120.9L520.7,120.4L521,120.8L521.4,121.7L521.7,122.3L522.1,122.5L522.4,122.3L522.8,122.2L523.1,121.7L523.5,122L523.8,123.7L524.1,125.4L524.5,124.9L524.8,124.8L525.2,126.6L525.5,127L525.9,127.5L526.2,128.4L526.6,127.2L526.9,126.9L527.3,128.4L527.6,129.4L528,130.4L528.3,131.2L528.7,131L529,129.3L529.4,129.1L529.7,131.1L530.1,131.4L530.4,129.1L530.8,129.7L531.1,132.7L531.4,131.3L531.8,130L532.1,132.9L532.5,134.8L532.8,134.2L533.2,134.9L533.5,137L533.9,137.3L534.2,135.5L534.6,135.3L534.9,136.5L535.3,137.3L535.6,137.8L536,137.1L536.3,137.2L536.7,138.2L537,137.9L537.4,136.9L537.7,136.8L538,137.7L538.4,138.6L538.7,138.9L539.1,138.7L539.4,138.8L539.8,139.4L540.1,141.9L540.5,143.3L540.8,139.7L541.2,137.5L541.5,139.5L541.9,141.5L542.2,142.1L542.6,142.3L542.9,143L543.3,144.2L543.6,144.6L544,144.3L544.3,143.6L544.7,143.2L545,143.2L545.3,143L545.7,142.6L546,141.9L546.4,142.6L546.7,145.6L547.1,145.8L547.4,142.5L547.8,141.5L548.1,143.7L548.5,145.3L548.8,144.7L549.2,144.1L549.5,144.7L549.9,145.2L550.2,146.4L550.6,147.3L550.9,146.1L551.3,144.7L551.6,144.7L551.9,146.1L552.3,146.9L552.6,146.2L553,146.1L553.3,146.5L553.7,146.3L554,145.8L554.4,145.3L554.7,144.7L555.1,145.1L555.4,147.2L555.8,148.7L556.1,147.8L556.5,146.9L556.8,146.6L557.2,147L557.5,147.8L557.9,148.1L558.2,147.8L558.6,147.7L558.9,149.9L559.2,151.8L559.6,151.7L559.9,151.2L560.3,149.7L560.6,148.2L561,149.4L561.3,150.4L561.7,149.5L562,150.3L562.4,150.8L562.7,149.5L563.1,149.3L563.4,149.6L563.8,149.2L564.1,149L564.5,148.8L564.8,148.8L565.2,149.1L565.5,150.4L565.8,150.7L566.2,149.6L566.5,150.4L566.9,151.6L567.2,151.7L567.6,151.4L567.9,151L568.3,150.7L568.6,150L569,149.8L569.3,151.3L569.7,152.8L570,153.1L570.4,153.1L570.7,152.8L571.1,151.8L571.4,151.9L571.8,152.2L572.1,152.4L572.5,153.1L572.8,152.8L573.1,151.6L573.5,151.5L573.8,151.5L574.2,151.4L574.5,152.5L574.9,152.9L575.2,153.4L575.6,153.5L575.9,151.8L576.3,151.8L576.6,152.3L577,151.2L577.3,151.2L577.7,152.2L578,152.7L578.4,153.2L578.7,153.3L579.1,152.7L579.4,152.6L579.8,152.3L580.1,151.8L580.4,152.1L580.8,152.5L581.1,152.8L581.5,153L581.8,152.1L582.2,151.5L582.5,151.7L582.9,152.5L583.2,153.6L583.6,154.3L583.9,153.8L584.3,152.9L584.6,152.5L585,152.4" fill="none" stroke="#2fb090" stroke-width="1.6" stroke-linejoin="round" stroke-linecap="round"/>
<path d="M488,153.9L488.4,154.1L488.7,154L489.1,153.3L489.4,153.6L489.7,153.5L490.1,153L490.4,153.3L490.8,153.4L491.1,152.8L491.5,151.5L491.8,150.6L492.2,151.4L492.5,151.9L492.9,151.3L493.2,150.9L493.6,150L493.9,149L494.3,148.6L494.6,147.6L495,146.2L495.3,144L495.7,141.3L496,138.5L496.3,134.9L496.7,130.5L497,125.8L497.4,120.6L497.7,113.8L498.1,105.7L498.4,96.3L498.8,86.9L499.1,78.1L499.5,66.1L499.8,52.4L500.2,42L500.5,35.4L500.9,30.6L501.2,26.9L501.6,24.6L501.9,24.9L502.3,26.8L502.6,29.4L503,32.5L503.3,36.4L503.6,41.3L504,45.5L504.3,49.9L504.7,54.5L505,58.1L505.4,62.1L505.7,67.1L506.1,71.6L506.4,74.9L506.8,77.5L507.1,80.8L507.5,84.3L507.8,86.1L508.2,87.5L508.5,89.1L508.9,88.9L509.2,87.9L509.6,86.9L509.9,86.8L510.2,87.3L510.6,86.9L510.9,87L511.3,87.1L511.6,85.8L512,85.6L512.3,87.7L512.7,90.3L513,93.3L513.4,97.3L513.7,100.1L514.1,102.3L514.4,105.5L514.8,107.1L515.1,109.1L515.5,112.8L515.8,114.7L516.2,115.6L516.5,116.7L516.9,118.4L517.2,121.4L517.5,122.8L517.9,122.1L518.2,122.6L518.6,124.5L518.9,125.2L519.3,125.5L519.6,126.2L520,126.6L520.3,127.8L520.7,129.5L521,129.4L521.4,129.7L521.7,130.5L522.1,131.7L522.4,133.1L522.8,132.5L523.1,132.8L523.5,134.2L523.8,134.3L524.1,133.4L524.5,132L524.8,132.4L525.2,134.8L525.5,136.8L525.9,137.4L526.2,137.6L526.6,138.2L526.9,138.8L527.3,138.9L527.6,138.9L528,139.4L528.3,140.1L528.7,139.2L529,138.4L529.4,140.5L529.7,141.6L530.1,140.7L530.4,140.7L530.8,140.5L531.1,139.9L531.4,139.8L531.8,141.1L532.1,142.2L532.5,142.6L532.8,143.7L533.2,143.9L533.5,144L533.9,144.2L534.2,143.5L534.6,143.2L534.9,143.8L535.3,144.6L535.6,144L536,143.7L536.3,145.1L536.7,146.3L537,146.7L537.4,147.7L537.7,146.6L538,143.4L538.4,142.9L538.7,144.3L539.1,145.6L539.4,145.8L539.8,145.5L540.1,146L540.5,146.8L540.8,148.2L541.2,148.9L541.5,147.7L541.9,146.6L542.2,146.9L542.6,147.1L542.9,147.1L543.3,148.5L543.6,149.3L544,148.6L544.3,149.3L544.7,150L545,149.1L545.3,148.4L545.7,148.6L546,147.3L546.4,145.7L546.7,146.7L547.1,148.9L547.4,150.5L547.8,150L548.1,149.4L548.5,150.3L548.8,150.8L549.2,150.4L549.5,150.6L549.9,150.5L550.2,149.3L550.6,149L550.9,150.1L551.3,150.7L551.6,150.3L551.9,149.9L552.3,150.7L552.6,151.9L553,151.7L553.3,150.8L553.7,150.3L554,150.2L554.4,150.9L554.7,152.2L555.1,152.7L555.4,152L555.8,150.8L556.1,150.8L556.5,151L556.8,151.1L557.2,152.1L557.5,152.9L557.9,152.6L558.2,151.8L558.6,150.9L558.9,151.5L559.2,152.4L559.6,152L559.9,152L560.3,152.8L560.6,153.3L561,153.5L561.3,153L561.7,153L562,153.7L562.4,153.4L562.7,152.9L563.1,152.9L563.4,152.6L563.8,152.7L564.1,153.2L564.5,152.7L564.8,151.8L565.2,152.5L565.5,153.4L565.8,153.6L566.2,153.5L566.5,152.8L566.9,152.4L567.2,152.3L567.6,152.4L567.9,152.6L568.3,152.6L568.6,153.1L569,153.9L569.3,154.1L569.7,154.5L570,154.3L570.4,153.6L570.7,153.9L571.1,154.3L571.4,154.7L571.8,154.8L572.1,154.2L572.5,153.8L572.8,153.6L573.1,153.6L573.5,153.8L573.8,153.6L574.2,153.5L574.5,153.8L574.9,153.9L575.2,153.6L575.6,153.6L575.9,154.3L576.3,154.9L576.6,154.3L577,153.7L577.3,153.8L577.7,153.4L578,153L578.4,153.4L578.7,153.9L579.1,154.4L579.4,154.7L579.8,154.6L580.1,154.6L580.4,154.5L580.8,154.5L581.1,154.7L581.5,155.1L581.8,155.3L582.2,155L582.5,154.9L582.9,154.8L583.2,154.7L583.6,154.3L583.9,153.6L584.3,153.3L584.6,153.8L585,154.3" fill="none" stroke="#22d392" stroke-width="1.3" stroke-linejoin="round" stroke-linecap="round" opacity="0.9"/>
<path d="M488,152.8L488.4,152.9L488.7,153.6L489.1,154.1L489.4,153.6L489.7,153.1L490.1,153L490.4,152.9L490.8,152.7L491.1,152.8L491.5,152.6L491.8,151.6L492.2,150.6L492.5,150.4L492.9,150.8L493.2,151.1L493.6,150.9L493.9,150.1L494.3,148.7L494.6,147.8L495,146.6L495.3,143.8L495.7,140.4L496,137.8L496.3,135.1L496.7,130.6L497,125L497.4,119.5L497.7,113.2L498.1,105.3L498.4,95.8L498.8,86.4L499.1,77.7L499.5,66.5L499.8,54.4L500.2,44.9L500.5,37.4L500.9,30.7L501.2,26.8L501.6,24.7L501.9,25.2L502.3,26.8L502.6,29.5L503,34.5L503.3,38.8L503.6,42.4L504,46.1L504.3,50.1L504.7,54.4L505,57.4L505.4,60L505.7,63.5L506.1,67.1L506.4,70L506.8,73.3L507.1,77.1L507.5,79.8L507.8,81.8L508.2,82.2L508.5,81.2L508.9,79L509.2,78L509.6,78.4L509.9,78.5L510.2,79.5L510.6,80.1L510.9,80.6L511.3,81.3L511.6,80.7L512,81L512.3,83.7L512.7,86.4L513,88.6L513.4,91.6L513.7,95.3L514.1,98.6L514.4,101.6L514.8,105.4L515.1,108.7L515.5,111.2L515.8,114.2L516.2,116.2L516.5,118L516.9,120.5L517.2,121.4L517.5,121.9L517.9,123.9L518.2,126.9L518.6,129L518.9,128.9L519.3,128.5L519.6,129.3L520,129.8L520.3,130L520.7,130.8L521,131.1L521.4,131.6L521.7,132.9L522.1,132.6L522.4,131.4L522.8,132.8L523.1,135.2L523.5,135.3L523.8,134.4L524.1,134.4L524.5,135.8L524.8,137.3L525.2,137.6L525.5,137L525.9,137.4L526.2,138.5L526.6,139.1L526.9,139L527.3,139L527.6,139.6L528,139.4L528.3,139L528.7,140.1L529,140.8L529.4,140.7L529.7,141.3L530.1,142.1L530.4,143.4L530.8,144.2L531.1,143.1L531.4,142.6L531.8,143L532.1,143.5L532.5,144.5L532.8,145L533.2,143.8L533.5,142.4L533.9,143.3L534.2,144.7L534.6,145L534.9,145.6L535.3,145.7L535.6,145.3L536,146.7L536.3,148.1L536.7,147.7L537,146.7L537.4,145.9L537.7,145.9L538,146.7L538.4,146.6L538.7,146.6L539.1,147L539.4,146.7L539.8,147.3L540.1,147.9L540.5,148L540.8,148.8L541.2,148.8L541.5,148.3L541.9,148.6L542.2,149.3L542.6,149.4L542.9,148.9L543.3,148.9L543.6,149.6L544,149.9L544.3,150.4L544.7,149.9L545,148.3L545.3,149.6L545.7,150.8L546,150.2L546.4,150.5L546.7,150.3L547.1,150L547.4,151L547.8,151.6L548.1,151.5L548.5,151.9L548.8,152.8L549.2,152.7L549.5,151.4L549.9,150.3L550.2,149.9L550.6,149.7L550.9,150.6L551.3,151.7L551.6,152.6L551.9,153.5L552.3,153.5L552.6,152.8L553,151.9L553.3,151.6L553.7,152.4L554,153.2L554.4,153.5L554.7,152.7L555.1,152L555.4,152.2L555.8,152.1L556.1,151L556.5,151.1L556.8,152.4L557.2,153.1L557.5,153L557.9,152.7L558.2,152.5L558.6,152.2L558.9,151.8L559.2,151.5L559.6,151.8L559.9,152.6L560.3,152.9L560.6,153.3L561,153L561.3,152.3L561.7,152.3L562,152.3L562.4,152.8L562.7,152.9L563.1,152.6L563.4,152.9L563.8,153.2L564.1,153.5L564.5,153.7L564.8,153.8L565.2,153.4L565.5,152.8L565.8,152.7L566.2,153.4L566.5,154.5L566.9,154.1L567.2,153.4L567.6,153.3L567.9,153L568.3,153.1L568.6,153.5L569,152.9L569.3,152.2L569.7,152.9L570,153.7L570.4,153.9L570.7,154.2L571.1,154.5L571.4,153.7L571.8,152.5L572.1,152.6L572.5,153.1L572.8,152.8L573.1,152.7L573.5,152.8L573.8,152.6L574.2,153L574.5,153.3L574.9,153.8L575.2,154.9L575.6,154.8L575.9,154.3L576.3,154.5L576.6,154.5L577,154.6L577.3,154L577.7,153L578,153.4L578.4,153.8L578.7,153.7L579.1,153.9L579.4,153.9L579.8,153.6L580.1,153.8L580.4,154.4L580.8,154.3L581.1,154.4L581.5,154.6L581.8,154.4L582.2,154.2L582.5,153.8L582.9,153.7L583.2,154L583.6,154.1L583.9,154.5L584.3,155.1L584.6,155L585,154.8" fill="none" stroke="#a4e6b4" stroke-width="1.2" stroke-linejoin="round" stroke-linecap="round" opacity="0.85"/>
<path d="M585.5,153.7L585.9,153.6L586.2,153.7L586.6,153.3L586.9,153.6L587.3,154L587.6,153.3L588,152.4L588.3,152.4L588.7,152.6L589,152L589.4,151.6L589.7,151.3L590,151.3L590.4,151.2L590.7,150.6L591.1,149.5L591.4,148.1L591.8,146.9L592.1,146.2L592.5,144.6L592.8,141.8L593.2,138.9L593.5,135.2L593.9,130.2L594.2,125.1L594.6,120.1L594.9,114L595.3,106.4L595.6,98.4L596,89.3L596.3,78.9L596.7,68.7L597,58.8L597.3,48.3L597.7,38.4L598,31L598.4,27.3L598.7,24.7L599.1,25.4L599.4,28.6L599.8,32.9L600.1,38.4L600.5,43.5L600.8,48.4L601.2,53.6L601.5,58.7L601.9,63.6L602.2,68.6L602.6,72.8L602.9,77.2L603.3,81.8L603.6,84.8L603.9,87.3L604.3,89.3L604.6,90.2L605,90.9L605.3,90.5L605.7,89.8L606,88.6L606.4,86.9L606.7,86.8L607.1,87.4L607.4,87L607.8,86.8L608.1,87.2L608.5,88.6L608.8,91.2L609.2,92.7L609.5,93.1L609.9,95.2L610.2,97.6L610.6,99.6L610.9,102L611.2,104.3L611.6,107L611.9,109.6L612.3,111L612.6,113L613,116.6L613.3,119.8L613.7,122.5L614,125.1L614.4,126.3L614.7,125.6L615.1,125L615.4,126.8L615.8,128L616.1,127L616.5,126.9L616.8,127.2L617.2,127L617.5,127.3L617.8,127.3L618.2,126.6L618.5,126.9L618.9,128L619.2,128.7L619.6,129.1L619.9,128.7L620.3,128.3L620.6,128.9L621,130.1L621.3,130.8L621.7,131.3L622,132.8L622.4,134.4L622.7,135.2L623.1,136L623.4,135.8L623.8,135.3L624.1,137.2L624.5,139.7L624.8,140.4L625.1,140.2L625.5,138.8L625.8,138.5L626.2,139.8L626.5,140.4L626.9,140.7L627.2,140.3L627.6,140.1L627.9,142L628.3,143.2L628.6,142.2L629,141.7L629.3,141.7L629.7,142.2L630,144.3L630.4,145L630.7,143.7L631.1,144.1L631.4,145.5L631.7,144.9L632.1,143.4L632.4,143.3L632.8,143.4L633.1,143.6L633.5,145L633.8,146.1L634.2,146.2L634.5,146L634.9,145.8L635.2,145.6L635.6,145.3L635.9,145.3L636.3,145L636.6,143.9L637,143L637.3,143.3L637.7,144.5L638,145.5L638.4,145.6L638.7,144.6L639,144.6L639.4,145.7L639.7,146.1L640.1,146.5L640.4,146.9L640.8,146.9L641.1,146.9L641.5,147.2L641.8,148.4L642.2,148.6L642.5,148.3L642.9,148.3L643.2,148.4L643.6,148.9L643.9,149L644.3,149.2L644.6,148.6L645,147.1L645.3,146.1L645.6,146.3L646,147L646.3,147.3L646.7,147.4L647,148.5L647.4,149.8L647.7,150.2L648.1,149.3L648.4,148.9L648.8,149.8L649.1,150.4L649.5,150.4L649.8,150.5L650.2,151L650.5,150.8L650.9,150.4L651.2,151.5L651.6,151.6L651.9,150.3L652.3,149.9L652.6,150.6L652.9,151.1L653.3,151L653.6,150.9L654,150.7L654.3,151.5L654.7,152.1L655,151.9L655.4,151L655.7,150.1L656.1,150.2L656.4,151.7L656.8,153L657.1,152.3L657.5,150.9L657.8,151.2L658.2,151.1L658.5,150.8L658.9,151.8L659.2,152.4L659.5,152.6L659.9,152.6L660.2,151.6L660.6,151.8L660.9,152.6L661.3,152.2L661.6,152L662,152.2L662.3,152.5L662.7,153L663,153.1L663.4,152.5L663.7,151.1L664.1,150.8L664.4,152.2L664.8,152.8L665.1,152.3L665.5,152L665.8,151.3L666.2,150.9L666.5,151.5L666.8,152.8L667.2,153.5L667.5,153.4L667.9,153.3L668.2,153L668.6,152.4L668.9,152.3L669.3,152.9L669.6,153L670,152.5L670.3,152.7L670.7,153.6L671,153.5L671.4,153.4L671.7,153.6L672.1,153.5L672.4,152.8L672.8,152.4L673.1,152.9L673.4,153.8L673.8,153.8L674.1,153.5L674.5,153.6L674.8,153.5L675.2,153.1L675.5,153.4L675.9,153.7L676.2,153.5L676.6,153.2L676.9,153.3L677.3,153.4L677.6,153.5L678,153.6L678.3,153.7L678.7,153.5L679,153.2L679.4,153.7L679.7,154.4L680.1,154L680.4,153.5L680.7,153.8L681.1,153.9L681.4,153.8L681.8,154.2L682.1,154L682.5,153.7" fill="none" stroke="#1c30cf" stroke-width="1.5" stroke-linejoin="round" stroke-linecap="round"/>
<path d="M585.5,153.7L585.9,153.2L586.2,152.6L586.6,152.9L586.9,152.8L587.3,152.5L587.6,153L588,153L588.3,152.5L588.7,152.6L589,152.6L589.4,152.2L589.7,151.6L590,151.4L590.4,151.6L590.7,150.7L591.1,149L591.4,148.2L591.8,147.8L592.1,146.4L592.5,144.6L592.8,142.4L593.2,139.3L593.5,135.3L593.9,130.6L594.2,125.9L594.6,120.7L594.9,114.5L595.3,106.8L595.6,97.8L596,88.5L596.3,79.2L596.7,68.4L597,57.2L597.3,47.2L597.7,39.1L598,32L598.4,27.4L598.7,24.6L599.1,25.3L599.4,28.4L599.8,32L600.1,35.7L600.5,39.5L600.8,43.8L601.2,47.9L601.5,51.8L601.9,56.4L602.2,60.5L602.6,62.6L602.9,63.7L603.3,65.7L603.6,67.5L603.9,67.7L604.3,66.6L604.6,65.3L605,64.2L605.3,63L605.7,62.8L606,63.1L606.4,62.6L606.7,61.7L607.1,61.8L607.4,61.9L607.8,61.7L608.1,62L608.5,62.9L608.8,65.4L609.2,67.7L609.5,68.7L609.9,70.1L610.2,70.9L610.6,72.7L610.9,76.7L611.2,80.6L611.6,83.3L611.9,85.7L612.3,89.1L612.6,92.7L613,94.5L613.3,95.8L613.7,98.3L614,100.7L614.4,102.3L614.7,103.8L615.1,105.8L615.4,108.3L615.8,110.3L616.1,111.9L616.5,112.8L616.8,113.5L617.2,115.1L617.5,116.8L617.8,118.1L618.2,118.8L618.5,119.3L618.9,120.7L619.2,121.9L619.6,122.2L619.9,122.9L620.3,123.9L620.6,126L621,127.8L621.3,127.8L621.7,127.9L622,129.2L622.4,130.1L622.7,130.6L623.1,132.3L623.4,133.4L623.8,134.2L624.1,135.2L624.5,135.6L624.8,137.3L625.1,139.4L625.5,139.3L625.8,137.6L626.2,137.5L626.5,139.6L626.9,139.7L627.2,138.8L627.6,139.6L627.9,141.4L628.3,142.9L628.6,143.5L629,143L629.3,143.3L629.7,144.6L630,144.4L630.4,143.2L630.7,143.4L631.1,144L631.4,144.2L631.7,144L632.1,142.8L632.4,141.7L632.8,141.8L633.1,142.9L633.5,143.3L633.8,142.8L634.2,142.6L634.5,143L634.9,144.1L635.2,146.1L635.6,146.7L635.9,145.8L636.3,145.8L636.6,146.5L637,147.4L637.3,147.2L637.7,145.9L638,146.3L638.4,147.4L638.7,147.1L639,146.7L639.4,146.1L639.7,145.8L640.1,147.3L640.4,148.7L640.8,148.5L641.1,148.3L641.5,148L641.8,147.9L642.2,148.3L642.5,148.7L642.9,148.8L643.2,148.8L643.6,148.9L643.9,149.4L644.3,149.8L644.6,149.6L645,149.2L645.3,148.7L645.6,148.8L646,149.3L646.3,149.7L646.7,150.7L647,151.1L647.4,150.4L647.7,150.1L648.1,150.2L648.4,150.5L648.8,150.8L649.1,151.1L649.5,151.4L649.8,151L650.2,150.7L650.5,151.4L650.9,152L651.2,151.7L651.6,150.9L651.9,150.3L652.3,150.4L652.6,151.3L652.9,151.7L653.3,151.3L653.6,151.4L654,151.5L654.3,151.1L654.7,151.1L655,151.7L655.4,152.5L655.7,153L656.1,153L656.4,152.4L656.8,151.8L657.1,151.7L657.5,152L657.8,151.9L658.2,151.7L658.5,152.7L658.9,153.5L659.2,153L659.5,152.6L659.9,152.8L660.2,153.2L660.6,153L660.9,152.5L661.3,153L661.6,153.5L662,153.4L662.3,153.4L662.7,153L663,152.6L663.4,153L663.7,153.3L664.1,153.3L664.4,153.1L664.8,152.8L665.1,152.9L665.5,153.5L665.8,153.8L666.2,153.4L666.5,153L666.8,153.2L667.2,153.8L667.5,154L667.9,153.7L668.2,154.1L668.6,154.4L668.9,153.9L669.3,153.6L669.6,153.7L670,153.9L670.3,154L670.7,154.3L671,154.5L671.4,154.3L671.7,153.9L672.1,153.7L672.4,153.6L672.8,153.3L673.1,153.2L673.4,153.1L673.8,153.1L674.1,153.4L674.5,153.6L674.8,153.6L675.2,154L675.5,154L675.9,153.7L676.2,153.8L676.6,154L676.9,154.3L677.3,154.3L677.6,153.9L678,153.6L678.3,153.6L678.7,153.9L679,154L679.4,153.9L679.7,154.2L680.1,154.7L680.4,154.4L680.7,154.1L681.1,154.4L681.4,154.4L681.8,154.2L682.1,154.2L682.5,154.5" fill="none" stroke="#8d9ff0" stroke-width="1.25" stroke-linejoin="round" stroke-linecap="round" opacity="0.9"/>
<path d="M585.5,153.8L585.9,153.4L586.2,153.4L586.6,154.1L586.9,154.1L587.3,152.9L587.6,152.5L588,152.7L588.3,152.2L588.7,151.5L589,150.9L589.4,151.1L589.7,151.3L590,150.8L590.4,150.5L590.7,150.2L591.1,149.7L591.4,148.8L591.8,147.3L592.1,145.6L592.5,143.4L592.8,141L593.2,139L593.5,135.5L593.9,131.1L594.2,126.4L594.6,120.2L594.9,113.7L595.3,106.5L595.6,97.9L596,89.2L596.3,79.7L596.7,68L597,56.5L597.3,46.9L597.7,39.7L598,33.3L598.4,28.2L598.7,24.8L599.1,25.2L599.4,27.5L599.8,30.5L600.1,33.8L600.5,36.4L600.8,40L601.2,43.3L601.5,45.7L601.9,48.8L602.2,51.6L602.6,52.9L602.9,53.3L603.3,53.4L603.6,53.6L603.9,53.2L604.3,51.9L604.6,49.8L605,49L605.3,48.5L605.7,46.5L606,44.3L606.4,43.4L606.7,42.9L607.1,41.6L607.4,40.2L607.8,40.1L608.1,40.9L608.5,41.7L608.8,43.6L609.2,45.2L609.5,45.8L609.9,47.2L610.2,49.7L610.6,52.1L610.9,55L611.2,59L611.6,62.9L611.9,66.4L612.3,70L612.6,73.1L613,76.5L613.3,80L613.7,84.1L614,88.3L614.4,90.9L614.7,93.2L615.1,95.3L615.4,97.8L615.8,100.1L616.1,101.5L616.5,103.1L616.8,104.7L617.2,106.3L617.5,107.8L617.8,107.9L618.2,108.1L618.5,109.7L618.9,111L619.2,111.7L619.6,113.4L619.9,115.6L620.3,117L620.6,117.8L621,119.1L621.3,121.5L621.7,123.5L622,124.2L622.4,125.1L622.7,127L623.1,129L623.4,130.3L623.8,130.5L624.1,130.5L624.5,132.4L624.8,134.3L625.1,134.5L625.5,134.3L625.8,134.4L626.2,136L626.5,137.4L626.9,137.7L627.2,138.2L627.6,138.8L627.9,139.5L628.3,140.3L628.6,141L629,141.8L629.3,142.5L629.7,142.7L630,142.9L630.4,143.1L630.7,143.3L631.1,143.1L631.4,143.2L631.7,143.6L632.1,143.8L632.4,144L632.8,144.6L633.1,144.7L633.5,145.3L633.8,146L634.2,145.6L634.5,147L634.9,148.4L635.2,147.3L635.6,146.5L635.9,146.4L636.3,146.9L636.6,146.9L637,146.7L637.3,147.7L637.7,148.2L638,147.3L638.4,146.2L638.7,146L639,146.4L639.4,147.1L639.7,147.3L640.1,147.2L640.4,148L640.8,148.7L641.1,148.6L641.5,149.2L641.8,149.6L642.2,149.3L642.5,148.9L642.9,148.7L643.2,149.1L643.6,149.8L643.9,150L644.3,150.3L644.6,149.9L645,149.2L645.3,149.6L645.6,150.4L646,150.8L646.3,150.9L646.7,151.2L647,151.4L647.4,150.8L647.7,150.5L648.1,150.2L648.4,150L648.8,150.8L649.1,151.9L649.5,151.9L649.8,150.9L650.2,151L650.5,152.2L650.9,152.1L651.2,151.2L651.6,150.7L651.9,150.4L652.3,150.6L652.6,151.2L652.9,151.8L653.3,152.6L653.6,153.6L654,153.6L654.3,152L654.7,151.6L655,152L655.4,152.3L655.7,152.4L656.1,151.9L656.4,151.4L656.8,152L657.1,152.6L657.5,152.1L657.8,151.8L658.2,152.5L658.5,153L658.9,152.8L659.2,152.8L659.5,153.4L659.9,154L660.2,153.9L660.6,153.2L660.9,152.4L661.3,151.9L661.6,152L662,152.9L662.3,153.9L662.7,154.1L663,154L663.4,153.4L663.7,152.8L664.1,153.3L664.4,153.5L664.8,153.2L665.1,152.8L665.5,153.1L665.8,153.9L666.2,154.2L666.5,153.8L666.8,153.4L667.2,153.6L667.5,153.6L667.9,153.2L668.2,153.6L668.6,153.9L668.9,154L669.3,154.1L669.6,154L670,153.8L670.3,153.7L670.7,153.8L671,154.2L671.4,154.2L671.7,153.8L672.1,153.7L672.4,153.6L672.8,153.2L673.1,153L673.4,153.9L673.8,154.8L674.1,154.3L674.5,153.4L674.8,153L675.2,153.1L675.5,153.4L675.9,153.7L676.2,154.4L676.6,154.8L676.9,154.6L677.3,154.1L677.6,153.8L678,154L678.3,154.3L678.7,154.6L679,154.6L679.4,154.2L679.7,153.8L680.1,154L680.4,154.1L680.7,154L681.1,154.3L681.4,154.4L681.8,154.1L682.1,154.4L682.5,154.6" fill="none" stroke="#c3cbf9" stroke-width="1.2" stroke-linejoin="round" stroke-linecap="round" opacity="0.8"/>
<line x1="487.5" y1="11.5" x2="682.5" y2="11.5" stroke="#333" stroke-width="1"/>
<line x1="682.5" y1="11.5" x2="682.5" y2="158.4" stroke="#444" stroke-width="1"/>
<line x1="487.5" y1="11" x2="487.5" y2="158.9" stroke="#222" stroke-width="1.1"/>
<line x1="486.95" y1="158.4" x2="683" y2="158.4" stroke="#222" stroke-width="1"/>
<line x1="585" y1="11.5" x2="585" y2="158.4" stroke="#858585" stroke-width="1.8"/>
<line x1="487.5" y1="156.7" x2="484.7" y2="156.7" stroke="#222" stroke-width="0.9"/>
<text x="482.6" y="159.5" font-size="7.8" text-anchor="end" fill="#1a1a1a" stroke="#1a1a1a" stroke-width="0.15">0.0</text>
<line x1="487.5" y1="130.26" x2="484.7" y2="130.26" stroke="#222" stroke-width="0.9"/>
<text x="482.6" y="133.06" font-size="7.8" text-anchor="end" fill="#1a1a1a" stroke="#1a1a1a" stroke-width="0.15">0.2</text>
<line x1="487.5" y1="103.82" x2="484.7" y2="103.82" stroke="#222" stroke-width="0.9"/>
<text x="482.6" y="106.62" font-size="7.8" text-anchor="end" fill="#1a1a1a" stroke="#1a1a1a" stroke-width="0.15">0.4</text>
<line x1="487.5" y1="77.38" x2="484.7" y2="77.38" stroke="#222" stroke-width="0.9"/>
<text x="482.6" y="80.18" font-size="7.8" text-anchor="end" fill="#1a1a1a" stroke="#1a1a1a" stroke-width="0.15">0.6</text>
<line x1="487.5" y1="50.94" x2="484.7" y2="50.94" stroke="#222" stroke-width="0.9"/>
<text x="482.6" y="53.74" font-size="7.8" text-anchor="end" fill="#1a1a1a" stroke="#1a1a1a" stroke-width="0.15">0.8</text>
<line x1="487.5" y1="24.5" x2="484.7" y2="24.5" stroke="#222" stroke-width="0.9"/>
<text x="482.6" y="27.3" font-size="7.8" text-anchor="end" fill="#1a1a1a" stroke="#1a1a1a" stroke-width="0.15">1.0</text>
<line x1="487.5" y1="143.48" x2="485.4" y2="143.48" stroke="#222" stroke-width="0.8"/>
<line x1="487.5" y1="117.04" x2="485.4" y2="117.04" stroke="#222" stroke-width="0.8"/>
<line x1="487.5" y1="90.6" x2="485.4" y2="90.6" stroke="#222" stroke-width="0.8"/>
<line x1="487.5" y1="64.16" x2="485.4" y2="64.16" stroke="#222" stroke-width="0.8"/>
<line x1="487.5" y1="37.72" x2="485.4" y2="37.72" stroke="#222" stroke-width="0.8"/>
<line x1="489.4" y1="158.4" x2="489.4" y2="161.2" stroke="#444" stroke-width="0.9"/>
<text x="489.4" y="169.2" font-size="7.8" text-anchor="middle" fill="#1a1a1a" stroke="#1a1a1a" stroke-width="0.15">400</text>
<line x1="498.09" y1="158.4" x2="498.09" y2="160.2" stroke="#444" stroke-width="0.8"/>
<line x1="506.77" y1="158.4" x2="506.77" y2="160.2" stroke="#444" stroke-width="0.8"/>
<line x1="515.46" y1="158.4" x2="515.46" y2="160.2" stroke="#444" stroke-width="0.8"/>
<line x1="524.15" y1="158.4" x2="524.15" y2="161.2" stroke="#444" stroke-width="0.9"/>
<text x="524.15" y="169.2" font-size="7.8" text-anchor="middle" fill="#1a1a1a" stroke="#1a1a1a" stroke-width="0.15">500</text>
<line x1="532.84" y1="158.4" x2="532.84" y2="160.2" stroke="#444" stroke-width="0.8"/>
<line x1="541.52" y1="158.4" x2="541.52" y2="160.2" stroke="#444" stroke-width="0.8"/>
<line x1="550.21" y1="158.4" x2="550.21" y2="160.2" stroke="#444" stroke-width="0.8"/>
<line x1="558.9" y1="158.4" x2="558.9" y2="161.2" stroke="#444" stroke-width="0.9"/>
<text x="558.9" y="169.2" font-size="7.8" text-anchor="middle" fill="#1a1a1a" stroke="#1a1a1a" stroke-width="0.15">600</text>
<line x1="567.59" y1="158.4" x2="567.59" y2="160.2" stroke="#444" stroke-width="0.8"/>
<line x1="576.27" y1="158.4" x2="576.27" y2="160.2" stroke="#444" stroke-width="0.8"/>
<line x1="584.96" y1="158.4" x2="584.96" y2="160.2" stroke="#444" stroke-width="0.8"/>
<line x1="586.4" y1="158.4" x2="586.4" y2="161.2" stroke="#444" stroke-width="0.9"/>
<text x="586.4" y="169.2" font-size="7.8" text-anchor="middle" fill="#1a1a1a" stroke="#1a1a1a" stroke-width="0.15">400</text>
<line x1="595.09" y1="158.4" x2="595.09" y2="160.2" stroke="#444" stroke-width="0.8"/>
<line x1="603.77" y1="158.4" x2="603.77" y2="160.2" stroke="#444" stroke-width="0.8"/>
<line x1="612.46" y1="158.4" x2="612.46" y2="160.2" stroke="#444" stroke-width="0.8"/>
<line x1="621.15" y1="158.4" x2="621.15" y2="161.2" stroke="#444" stroke-width="0.9"/>
<text x="621.15" y="169.2" font-size="7.8" text-anchor="middle" fill="#1a1a1a" stroke="#1a1a1a" stroke-width="0.15">500</text>
<line x1="629.84" y1="158.4" x2="629.84" y2="160.2" stroke="#444" stroke-width="0.8"/>
<line x1="638.52" y1="158.4" x2="638.52" y2="160.2" stroke="#444" stroke-width="0.8"/>
<line x1="647.21" y1="158.4" x2="647.21" y2="160.2" stroke="#444" stroke-width="0.8"/>
<line x1="655.9" y1="158.4" x2="655.9" y2="161.2" stroke="#444" stroke-width="0.9"/>
<text x="655.9" y="169.2" font-size="7.8" text-anchor="middle" fill="#1a1a1a" stroke="#1a1a1a" stroke-width="0.15">600</text>
<line x1="664.59" y1="158.4" x2="664.59" y2="160.2" stroke="#444" stroke-width="0.8"/>
<line x1="673.27" y1="158.4" x2="673.27" y2="160.2" stroke="#444" stroke-width="0.8"/>
<line x1="681.96" y1="158.4" x2="681.96" y2="160.2" stroke="#444" stroke-width="0.8"/>
<text x="585.5" y="183" font-size="9.5" text-anchor="middle" fill="#1a1a1a" stroke="#1a1a1a" stroke-width="0.15">Wavelength (nm)</text>
<text x="464.3" y="85" font-size="9.5" text-anchor="middle" fill="#1a1a1a" stroke="#1a1a1a" stroke-width="0.15" transform="rotate(-90 464.3 85)">EL Intensity (Norm.)</text>
<text x="551.8" y="29" font-size="7.4" text-anchor="middle" fill="#1a1a1a" stroke="#1a1a1a" stroke-width="0.15">Film</text>
<line x1="542.5" y1="36.5" x2="557.4" y2="36.5" stroke="#33b595" stroke-width="1.2"/>
<text x="562.2" y="39" font-size="8" fill="#1a1a1a" stroke="#1a1a1a" stroke-width="0.15">30°</text>
<line x1="542.5" y1="44.4" x2="557.4" y2="44.4" stroke="#22d392" stroke-width="1.2"/>
<text x="562.2" y="46.9" font-size="8" fill="#1a1a1a" stroke="#1a1a1a" stroke-width="0.15">60°</text>
<line x1="542.5" y1="53" x2="557.4" y2="53" stroke="#a4e6b4" stroke-width="1.2"/>
<text x="562.2" y="55.5" font-size="8" fill="#1a1a1a" stroke="#1a1a1a" stroke-width="0.15">90°</text>
<text x="650.2" y="28.7" font-size="7.4" text-anchor="middle" fill="#1a1a1a" stroke="#1a1a1a" stroke-width="0.15">Spherulite</text>
<line x1="636.9" y1="35.6" x2="652.1" y2="35.6" stroke="#1c30cf" stroke-width="1.2"/>
<text x="656.6" y="37.8" font-size="8" fill="#1a1a1a" stroke="#1a1a1a" stroke-width="0.15">30°</text>
<line x1="636.9" y1="44" x2="652.1" y2="44" stroke="#8d9ff0" stroke-width="1.2"/>
<text x="656.6" y="46.2" font-size="8" fill="#1a1a1a" stroke="#1a1a1a" stroke-width="0.15">60°</text>
<line x1="636.9" y1="52.5" x2="652.1" y2="52.5" stroke="#c3cbf9" stroke-width="1.2"/>
<text x="656.6" y="54.7" font-size="8" fill="#1a1a1a" stroke="#1a1a1a" stroke-width="0.15">90°</text>
</g>
<g id="pd">
<text x="0" y="210.4" font-size="13.3" fill="#000" font-weight="bold">d</text>
<path d="M109.05,344.3 A7.15,7.15 0 0 1 123.35,344.3" fill="none" stroke="#8a8a8a" stroke-width="0.55"/>
<path d="M101.9,344.3 A14.3,14.3 0 0 1 130.5,344.3" fill="none" stroke="#8a8a8a" stroke-width="0.55"/>
<path d="M94.75,344.3 A21.45,21.45 0 0 1 137.65,344.3" fill="none" stroke="#8a8a8a" stroke-width="0.55"/>
<path d="M87.6,344.3 A28.6,28.6 0 0 1 144.8,344.3" fill="none" stroke="#8a8a8a" stroke-width="0.55"/>
<path d="M80.45,344.3 A35.75,35.75 0 0 1 151.95,344.3" fill="none" stroke="#8a8a8a" stroke-width="0.55"/>
<path d="M73.3,344.3 A42.9,42.9 0 0 1 159.1,344.3" fill="none" stroke="#8a8a8a" stroke-width="0.55"/>
<path d="M66.15,344.3 A50.05,50.05 0 0 1 166.25,344.3" fill="none" stroke="#8a8a8a" stroke-width="0.55"/>
<path d="M59,344.3 A57.2,57.2 0 0 1 173.4,344.3" fill="none" stroke="#8a8a8a" stroke-width="0.55"/>
<path d="M51.85,344.3 A64.35,64.35 0 0 1 180.55,344.3" fill="none" stroke="#8a8a8a" stroke-width="0.55"/>
<path d="M44.7,344.3 A71.5,71.5 0 0 1 187.7,344.3" fill="none" stroke="#8a8a8a" stroke-width="0.55"/>
<path d="M37.55,344.3 A78.65,78.65 0 0 1 194.85,344.3" fill="none" stroke="#8a8a8a" stroke-width="0.55"/>
<line x1="116.2" y1="344.3" x2="199.08" y2="322.09" stroke="#aaa" stroke-width="0.5" stroke-dasharray="1.2 1.2"/>
<line x1="199.08" y1="322.09" x2="196.95" y2="322.66" stroke="#111" stroke-width="0.8"/>
<line x1="116.2" y1="344.3" x2="190.5" y2="301.4" stroke="#666" stroke-width="0.6"/>
<line x1="190.5" y1="301.4" x2="187.73" y2="303" stroke="#111" stroke-width="0.8"/>
<line x1="116.2" y1="344.3" x2="176.87" y2="283.63" stroke="#aaa" stroke-width="0.5" stroke-dasharray="1.2 1.2"/>
<line x1="176.87" y1="283.63" x2="175.31" y2="285.19" stroke="#111" stroke-width="0.8"/>
<line x1="116.2" y1="344.3" x2="159.1" y2="270" stroke="#666" stroke-width="0.6"/>
<line x1="159.1" y1="270" x2="157.5" y2="272.77" stroke="#111" stroke-width="0.8"/>
<line x1="116.2" y1="344.3" x2="138.41" y2="261.42" stroke="#aaa" stroke-width="0.5" stroke-dasharray="1.2 1.2"/>
<line x1="138.41" y1="261.42" x2="137.84" y2="263.55" stroke="#111" stroke-width="0.8"/>
<line x1="116.2" y1="344.3" x2="116.2" y2="258.5" stroke="#666" stroke-width="0.6"/>
<line x1="116.2" y1="258.5" x2="116.2" y2="261.7" stroke="#111" stroke-width="0.8"/>
<line x1="116.2" y1="344.3" x2="93.99" y2="261.42" stroke="#aaa" stroke-width="0.5" stroke-dasharray="1.2 1.2"/>
<line x1="93.99" y1="261.42" x2="94.56" y2="263.55" stroke="#111" stroke-width="0.8"/>
<line x1="116.2" y1="344.3" x2="73.3" y2="270" stroke="#666" stroke-width="0.6"/>
<line x1="73.3" y1="270" x2="74.9" y2="272.77" stroke="#111" stroke-width="0.8"/>
<line x1="116.2" y1="344.3" x2="55.53" y2="283.63" stroke="#aaa" stroke-width="0.5" stroke-dasharray="1.2 1.2"/>
<line x1="55.53" y1="283.63" x2="57.09" y2="285.19" stroke="#111" stroke-width="0.8"/>
<line x1="116.2" y1="344.3" x2="41.9" y2="301.4" stroke="#666" stroke-width="0.6"/>
<line x1="41.9" y1="301.4" x2="44.67" y2="303" stroke="#111" stroke-width="0.8"/>
<line x1="116.2" y1="344.3" x2="33.32" y2="322.09" stroke="#aaa" stroke-width="0.5" stroke-dasharray="1.2 1.2"/>
<line x1="33.32" y1="322.09" x2="35.45" y2="322.66" stroke="#111" stroke-width="0.8"/>
<path d="M30.4,344.3 A85.8,85.8 0 0 1 202,344.3" fill="none" stroke="#000" stroke-width="1.4"/>
<line x1="29.6" y1="344.3" x2="202.8" y2="344.3" stroke="#000" stroke-width="1.3"/>
<ellipse cx="116.2" cy="309.9" rx="31.4" ry="34.4" fill="none" stroke="#2a3a2a" stroke-width="0.7"/>
<circle cx="132.03" cy="338.93" r="3.2" fill="#0a1ccc" stroke="none" stroke-width="0"/>
<circle cx="100.37" cy="338.93" r="3.2" fill="#0a1ccc" stroke="none" stroke-width="0"/>
<circle cx="141.85" cy="328.53" r="3.2" fill="#0a1ccc" stroke="none" stroke-width="0"/>
<circle cx="90.55" cy="328.53" r="3.2" fill="#0a1ccc" stroke="none" stroke-width="0"/>
<circle cx="147.98" cy="317.67" r="3.2" fill="#0a1ccc" stroke="none" stroke-width="0"/>
<circle cx="84.42" cy="317.67" r="3.2" fill="#0a1ccc" stroke="none" stroke-width="0"/>
<circle cx="149.08" cy="305.2" r="3.2" fill="#0a1ccc" stroke="none" stroke-width="0"/>
<circle cx="83.32" cy="305.2" r="3.2" fill="#0a1ccc" stroke="none" stroke-width="0"/>
<circle cx="145.84" cy="292.56" r="3.2" fill="#0a1ccc" stroke="none" stroke-width="0"/>
<circle cx="86.56" cy="292.56" r="3.2" fill="#0a1ccc" stroke="none" stroke-width="0"/>
<circle cx="138.96" cy="282.19" r="3.2" fill="#0a1ccc" stroke="none" stroke-width="0"/>
<circle cx="93.44" cy="282.19" r="3.2" fill="#0a1ccc" stroke="none" stroke-width="0"/>
<circle cx="127.72" cy="277.6" r="3.2" fill="#0a1ccc" stroke="none" stroke-width="0"/>
<circle cx="104.68" cy="277.6" r="3.2" fill="#0a1ccc" stroke="none" stroke-width="0"/>
<circle cx="116.2" cy="277.3" r="3.2" fill="#0a1ccc" stroke="none" stroke-width="0"/>
<ellipse cx="116.2" cy="345.2" rx="5.2" ry="3" fill="#0a1ccc"/>
<circle cx="131.83" cy="338.73" r="3.4" fill="#2fae62" stroke="none" stroke-width="0"/>
<circle cx="100.57" cy="338.73" r="3.4" fill="#2fae62" stroke="none" stroke-width="0"/>
<circle cx="140.45" cy="329.93" r="3.4" fill="#2fae62" stroke="none" stroke-width="0"/>
<circle cx="91.95" cy="329.93" r="3.4" fill="#2fae62" stroke="none" stroke-width="0"/>
<circle cx="146.38" cy="318.97" r="3.4" fill="#2fae62" stroke="none" stroke-width="0"/>
<circle cx="86.02" cy="318.97" r="3.4" fill="#2fae62" stroke="none" stroke-width="0"/>
<circle cx="147.28" cy="307.3" r="3.4" fill="#2fae62" stroke="none" stroke-width="0"/>
<circle cx="85.12" cy="307.3" r="3.4" fill="#2fae62" stroke="none" stroke-width="0"/>
<circle cx="144.94" cy="294.36" r="3.4" fill="#2fae62" stroke="none" stroke-width="0"/>
<circle cx="87.46" cy="294.36" r="3.4" fill="#2fae62" stroke="none" stroke-width="0"/>
<circle cx="137.76" cy="283.59" r="3.4" fill="#2fae62" stroke="none" stroke-width="0"/>
<circle cx="94.64" cy="283.59" r="3.4" fill="#2fae62" stroke="none" stroke-width="0"/>
<circle cx="127.52" cy="277.3" r="3.4" fill="#2fae62" stroke="none" stroke-width="0"/>
<circle cx="104.88" cy="277.3" r="3.4" fill="#2fae62" stroke="none" stroke-width="0"/>
<circle cx="116.2" cy="275.5" r="3.4" fill="#2fae62" stroke="none" stroke-width="0"/>
<ellipse cx="116.2" cy="344.2" rx="5.8" ry="3.3" fill="#2fae62"/>
<text x="116.8" y="254.4" font-size="9.6" text-anchor="middle" fill="#1a1a1a" stroke="#1a1a1a" stroke-width="0.06">90°</text>
<text x="67.2" y="267.2" font-size="9.6" text-anchor="middle" fill="#1a1a1a" stroke="#1a1a1a" stroke-width="0.06">120°</text>
<text x="164" y="264.3" font-size="9.6" text-anchor="middle" fill="#1a1a1a" stroke="#1a1a1a" stroke-width="0.06">60°</text>
<text x="32.3" y="301.7" font-size="9.6" text-anchor="middle" fill="#1a1a1a" stroke="#1a1a1a" stroke-width="0.06">150°</text>
<text x="199.8" y="299.7" font-size="9.6" text-anchor="middle" fill="#1a1a1a" stroke="#1a1a1a" stroke-width="0.06">30°</text>
<text x="18" y="345.7" font-size="9.6" text-anchor="middle" fill="#1a1a1a" stroke="#1a1a1a" stroke-width="0.06">180°</text>
<text x="210.3" y="345.7" font-size="9.6" text-anchor="middle" fill="#1a1a1a" stroke="#1a1a1a" stroke-width="0.06">0°</text>
<circle cx="161.7" cy="213" r="2.7" fill="#2fae62" stroke="none" stroke-width="0"/>
<circle cx="161.7" cy="222.5" r="2.7" fill="#0a1ccc" stroke="none" stroke-width="0"/>
<text x="173.2" y="215.7" font-size="7.4" fill="#1a1a1a" stroke="#1a1a1a" stroke-width="0.15">Film</text>
<text x="173.2" y="225.2" font-size="7.4" fill="#1a1a1a" stroke="#1a1a1a" stroke-width="0.15">Spherulite</text>
</g>
<g id="pe">
<text x="234.6" y="210.1" font-size="13.3" fill="#000" font-weight="bold">e</text>
<line x1="262.5" y1="212.5" x2="435.5" y2="212.5" stroke="#333" stroke-width="1"/>
<line x1="435.5" y1="212.5" x2="435.5" y2="347.5" stroke="#333" stroke-width="1"/>
<line x1="262.5" y1="212" x2="262.5" y2="348.05" stroke="#222" stroke-width="1.1"/>
<line x1="261.95" y1="347.5" x2="436" y2="347.5" stroke="#222" stroke-width="1.1"/>
<path d="M272.4,298.4L288.9,276.6L307.1,263.3L319.8,249.3L332.6,246.8L341.7,242.5L349.4,243L366.1,241.6L383.2,245.7L404.9,251.1L415.3,253.8L427.4,260.6L431.7,269.6L434.4,277.5" fill="none" stroke="#30c09e" stroke-width="1.2" stroke-linejoin="round" stroke-linecap="round"/>
<circle cx="272.39" cy="298.38" r="2.05" fill="#30c09e" stroke="none" stroke-width="0"/>
<circle cx="288.92" cy="276.58" r="2.05" fill="#30c09e" stroke="none" stroke-width="0"/>
<circle cx="307.06" cy="263.29" r="2.05" fill="#30c09e" stroke="none" stroke-width="0"/>
<circle cx="332.57" cy="246.76" r="2.05" fill="#30c09e" stroke="none" stroke-width="0"/>
<circle cx="349.4" cy="242.99" r="2.05" fill="#30c09e" stroke="none" stroke-width="0"/>
<circle cx="366.11" cy="241.55" r="2.05" fill="#30c09e" stroke="none" stroke-width="0"/>
<circle cx="383.17" cy="245.69" r="2.05" fill="#30c09e" stroke="none" stroke-width="0"/>
<circle cx="404.91" cy="251.07" r="2.05" fill="#30c09e" stroke="none" stroke-width="0"/>
<circle cx="415.32" cy="253.77" r="2.05" fill="#30c09e" stroke="none" stroke-width="0"/>
<circle cx="427.36" cy="260.59" r="2.05" fill="#30c09e" stroke="none" stroke-width="0"/>
<circle cx="431.67" cy="269.58" r="2.05" fill="#30c09e" stroke="none" stroke-width="0"/>
<circle cx="434.37" cy="277.48" r="2.05" fill="#30c09e" stroke="none" stroke-width="0"/>
<path d="M283,280.9L295.4,261.5L312.3,250.4L323.9,242.1L332,238.9L345.3,235.6L356,234.7L386.9,236.7L402.8,238.7L413,241.2L421.4,246.9L427.9,253.8L431.9,262.8L434.7,270.8" fill="none" stroke="#1c2fd0" stroke-width="1.2" stroke-linejoin="round" stroke-linecap="round"/>
<circle cx="282.99" cy="280.89" r="2.05" fill="#1c2fd0" stroke="none" stroke-width="0"/>
<circle cx="295.39" cy="261.49" r="2.05" fill="#1c2fd0" stroke="none" stroke-width="0"/>
<circle cx="312.27" cy="250.36" r="2.05" fill="#1c2fd0" stroke="none" stroke-width="0"/>
<circle cx="332.03" cy="238.86" r="2.05" fill="#1c2fd0" stroke="none" stroke-width="0"/>
<circle cx="345.27" cy="235.63" r="2.05" fill="#1c2fd0" stroke="none" stroke-width="0"/>
<circle cx="356.05" cy="234.73" r="2.05" fill="#1c2fd0" stroke="none" stroke-width="0"/>
<circle cx="386.94" cy="236.7" r="2.05" fill="#1c2fd0" stroke="none" stroke-width="0"/>
<circle cx="402.75" cy="238.68" r="2.05" fill="#1c2fd0" stroke="none" stroke-width="0"/>
<circle cx="412.99" cy="241.19" r="2.05" fill="#1c2fd0" stroke="none" stroke-width="0"/>
<circle cx="421.43" cy="246.94" r="2.05" fill="#1c2fd0" stroke="none" stroke-width="0"/>
<circle cx="427.9" cy="253.77" r="2.05" fill="#1c2fd0" stroke="none" stroke-width="0"/>
<circle cx="431.85" cy="262.75" r="2.05" fill="#1c2fd0" stroke="none" stroke-width="0"/>
<circle cx="434.72" cy="270.83" r="2.05" fill="#1c2fd0" stroke="none" stroke-width="0"/>
<line x1="262.5" y1="238.1" x2="259" y2="238.1" stroke="#222" stroke-width="0.9"/>
<text x="259.4" y="240.8" font-size="7.6" text-anchor="end" fill="#1a1a1a" stroke="#1a1a1a" stroke-width="0.15">1</text>
<line x1="262.5" y1="292.8" x2="259" y2="292.8" stroke="#222" stroke-width="0.9"/>
<text x="259.4" y="295.5" font-size="7.6" text-anchor="end" fill="#1a1a1a" stroke="#1a1a1a" stroke-width="0.15">0.1</text>
<line x1="262.5" y1="347.5" x2="259" y2="347.5" stroke="#222" stroke-width="0.9"/>
<text x="259.4" y="350.2" font-size="7.6" text-anchor="end" fill="#1a1a1a" stroke="#1a1a1a" stroke-width="0.15">0.01</text>
<line x1="262.5" y1="331.03" x2="261" y2="331.03" stroke="#222" stroke-width="0.7"/>
<line x1="262.5" y1="321.4" x2="261" y2="321.4" stroke="#222" stroke-width="0.7"/>
<line x1="262.5" y1="314.57" x2="261" y2="314.57" stroke="#222" stroke-width="0.7"/>
<line x1="262.5" y1="309.27" x2="261" y2="309.27" stroke="#222" stroke-width="0.7"/>
<line x1="262.5" y1="304.94" x2="261" y2="304.94" stroke="#222" stroke-width="0.7"/>
<line x1="262.5" y1="301.27" x2="261" y2="301.27" stroke="#222" stroke-width="0.7"/>
<line x1="262.5" y1="298.1" x2="261" y2="298.1" stroke="#222" stroke-width="0.7"/>
<line x1="262.5" y1="295.3" x2="261" y2="295.3" stroke="#222" stroke-width="0.7"/>
<line x1="262.5" y1="276.33" x2="261" y2="276.33" stroke="#222" stroke-width="0.7"/>
<line x1="262.5" y1="266.7" x2="261" y2="266.7" stroke="#222" stroke-width="0.7"/>
<line x1="262.5" y1="259.87" x2="261" y2="259.87" stroke="#222" stroke-width="0.7"/>
<line x1="262.5" y1="254.57" x2="261" y2="254.57" stroke="#222" stroke-width="0.7"/>
<line x1="262.5" y1="250.24" x2="261" y2="250.24" stroke="#222" stroke-width="0.7"/>
<line x1="262.5" y1="246.57" x2="261" y2="246.57" stroke="#222" stroke-width="0.7"/>
<line x1="262.5" y1="243.4" x2="261" y2="243.4" stroke="#222" stroke-width="0.7"/>
<line x1="262.5" y1="240.6" x2="261" y2="240.6" stroke="#222" stroke-width="0.7"/>
<line x1="262.5" y1="221.63" x2="261" y2="221.63" stroke="#222" stroke-width="0.7"/>
<line x1="262.5" y1="347.5" x2="262.5" y2="351" stroke="#222" stroke-width="0.9"/>
<text x="262.5" y="358.5" font-size="7.6" text-anchor="middle" fill="#1a1a1a" stroke="#1a1a1a" stroke-width="0.15">1</text>
<line x1="320.1" y1="347.5" x2="320.1" y2="351" stroke="#222" stroke-width="0.9"/>
<text x="320.1" y="358.5" font-size="7.6" text-anchor="middle" fill="#1a1a1a" stroke="#1a1a1a" stroke-width="0.15">10</text>
<line x1="377.7" y1="347.5" x2="377.7" y2="351" stroke="#222" stroke-width="0.9"/>
<text x="377.7" y="358.5" font-size="7.6" text-anchor="middle" fill="#1a1a1a" stroke="#1a1a1a" stroke-width="0.15">100</text>
<line x1="435.3" y1="347.5" x2="435.3" y2="351" stroke="#222" stroke-width="0.9"/>
<text x="431.1" y="358.5" font-size="7.6" text-anchor="middle" fill="#1a1a1a" stroke="#1a1a1a" stroke-width="0.15">1000</text>
<line x1="279.84" y1="347.5" x2="279.84" y2="349.1" stroke="#222" stroke-width="0.7"/>
<line x1="289.98" y1="347.5" x2="289.98" y2="349.1" stroke="#222" stroke-width="0.7"/>
<line x1="297.18" y1="347.5" x2="297.18" y2="349.1" stroke="#222" stroke-width="0.7"/>
<line x1="302.76" y1="347.5" x2="302.76" y2="349.1" stroke="#222" stroke-width="0.7"/>
<line x1="307.32" y1="347.5" x2="307.32" y2="349.1" stroke="#222" stroke-width="0.7"/>
<line x1="311.18" y1="347.5" x2="311.18" y2="349.1" stroke="#222" stroke-width="0.7"/>
<line x1="314.52" y1="347.5" x2="314.52" y2="349.1" stroke="#222" stroke-width="0.7"/>
<line x1="317.46" y1="347.5" x2="317.46" y2="349.1" stroke="#222" stroke-width="0.7"/>
<line x1="337.44" y1="347.5" x2="337.44" y2="349.1" stroke="#222" stroke-width="0.7"/>
<line x1="347.58" y1="347.5" x2="347.58" y2="349.1" stroke="#222" stroke-width="0.7"/>
<line x1="354.78" y1="347.5" x2="354.78" y2="349.1" stroke="#222" stroke-width="0.7"/>
<line x1="360.36" y1="347.5" x2="360.36" y2="349.1" stroke="#222" stroke-width="0.7"/>
<line x1="364.92" y1="347.5" x2="364.92" y2="349.1" stroke="#222" stroke-width="0.7"/>
<line x1="368.78" y1="347.5" x2="368.78" y2="349.1" stroke="#222" stroke-width="0.7"/>
<line x1="372.12" y1="347.5" x2="372.12" y2="349.1" stroke="#222" stroke-width="0.7"/>
<line x1="375.06" y1="347.5" x2="375.06" y2="349.1" stroke="#222" stroke-width="0.7"/>
<line x1="395.04" y1="347.5" x2="395.04" y2="349.1" stroke="#222" stroke-width="0.7"/>
<line x1="405.18" y1="347.5" x2="405.18" y2="349.1" stroke="#222" stroke-width="0.7"/>
<line x1="412.38" y1="347.5" x2="412.38" y2="349.1" stroke="#222" stroke-width="0.7"/>
<line x1="417.96" y1="347.5" x2="417.96" y2="349.1" stroke="#222" stroke-width="0.7"/>
<line x1="422.52" y1="347.5" x2="422.52" y2="349.1" stroke="#222" stroke-width="0.7"/>
<line x1="426.38" y1="347.5" x2="426.38" y2="349.1" stroke="#222" stroke-width="0.7"/>
<line x1="429.72" y1="347.5" x2="429.72" y2="349.1" stroke="#222" stroke-width="0.7"/>
<line x1="432.66" y1="347.5" x2="432.66" y2="349.1" stroke="#222" stroke-width="0.7"/>
<text x="350.7" y="371.1" font-size="9.5" text-anchor="middle" fill="#1a1a1a" stroke="#1a1a1a" stroke-width="0.15">Current Density (mA cm<tspan font-size="64%" dy="-0.58em">-2</tspan><tspan dy="0.371em">)</tspan></text>
<text x="241.2" y="279.3" font-size="9.5" text-anchor="middle" fill="#1a1a1a" stroke="#1a1a1a" stroke-width="0.15" transform="rotate(-90 241.2 279.3)">EQE (%)</text>
<line x1="367.4" y1="307.5" x2="382.6" y2="307.5" stroke="#30c09e" stroke-width="1"/>
<circle cx="375" cy="307.5" r="1.3" fill="#30c09e" stroke="none" stroke-width="0"/>
<text x="388.4" y="310.7" font-size="7" fill="#1a1a1a" stroke="#1a1a1a" stroke-width="0.15">Film</text>
<line x1="367.4" y1="318.5" x2="382.6" y2="318.5" stroke="#1c2fd0" stroke-width="1"/>
<circle cx="375" cy="318.5" r="1.3" fill="#1c2fd0" stroke="none" stroke-width="0"/>
<text x="388.4" y="321.7" font-size="7" fill="#1a1a1a" stroke="#1a1a1a" stroke-width="0.15">Spherulite</text>
</g>
<g id="pf">
<text x="456.1" y="210.5" font-size="13.3" fill="#000" font-weight="bold">f</text>
<path d="M486.8,338.4L488.8,337.3L490.8,336L492.8,334.5L494.7,332.8L496.7,331L498.7,329L500.7,327L502.7,325L504.7,323.2L506.7,321.6L508.6,320.1L510.6,318.6L512.6,317.1L514.6,315.6L516.6,314.1L518.6,312.6L520.6,311.1L522.5,309.6L524.5,308.1L526.5,306.6L528.5,305.2L530.5,303.8L532.5,302.5L534.5,301.1L536.4,299.8L538.4,298.5L540.4,297.3L542.4,296L544.4,294.8L546.4,293.6L548.4,292.4L550.3,291.3L552.3,290.2L554.3,289.1L556.3,288.1L558.3,287.1L560.3,286.1L562.3,285.1L564.2,284.1L566.2,283.1L568.2,282.1L570.2,281.1L572.2,280.1L574.2,279.1L576.2,278L578.1,277L580.1,276L582.1,275.1L584.1,274.2L586.1,273.4L588.1,272.6L590.1,271.8L592.1,271.1L594,270.3L596,269.7L598,269L600,268.4L602,267.8L604,267.3L606,266.7L607.9,266.2L609.9,265.7L611.9,265.2L613.9,264.8L615.9,264.3L617.9,263.8L619.9,263.4L621.8,263L623.8,262.6L625.8,262.2L627.8,261.8L629.8,261.4L631.8,260.9L633.8,260.5L635.7,260.1L637.7,259.6L639.7,259.1L641.7,258.6L643.7,258L645.7,257.4L647.7,256.9L649.6,256.3L651.6,255.7L653.6,255.1L655.6,254.5L657.6,253.9L659.6,253.3L661.6,252.7L663.5,252.3L665.5,251.9L667.5,251.5L669.5,251.2L671.5,250.9L673.5,250.6L675.5,250.3L677.4,249.9L679.4,249.6L681.4,249.2L683.4,248.9L683.4,269L681.4,269.6L679.4,270.1L677.4,270.7L675.5,271.2L673.5,271.7L671.5,272.2L669.5,272.7L667.5,273.2L665.5,273.7L663.5,274L661.6,274.4L659.6,274.7L657.6,275L655.6,275.2L653.6,275.5L651.6,275.8L649.6,276.1L647.7,276.3L645.7,276.6L643.7,276.9L641.7,277.2L639.7,277.5L637.7,277.8L635.7,278L633.8,278.3L631.8,278.5L629.8,278.7L627.8,278.9L625.8,279.1L623.8,279.3L621.8,279.5L619.9,279.8L617.9,280L615.9,280.3L613.9,280.5L611.9,280.8L609.9,281.1L607.9,281.4L606,281.7L604,282.1L602,282.4L600,282.8L598,283.2L596,283.7L594,284.2L592.1,284.7L590.1,285.2L588.1,285.7L586.1,286.3L584.1,286.9L582.1,287.4L580.1,288L578.1,288.6L576.2,289.3L574.2,289.9L572.2,290.6L570.2,291.3L568.2,292.1L566.2,292.9L564.2,293.7L562.3,294.6L560.3,295.4L558.3,296.3L556.3,297.3L554.3,298.2L552.3,299.2L550.3,300.1L548.4,301.1L546.4,302.1L544.4,303.1L542.4,304.2L540.4,305.2L538.4,306.3L536.4,307.4L534.5,308.4L532.5,309.5L530.5,310.6L528.5,311.7L526.5,312.8L524.5,313.9L522.5,315L520.6,316.1L518.6,317.2L516.6,318.4L514.6,319.5L512.6,320.7L510.6,321.9L508.6,323.1L506.7,324.3L504.7,325.7L502.7,327.1L500.7,328.7L498.7,330.5L496.7,332.1L494.7,333.7L492.8,335.1L490.8,336.5L488.8,337.5L486.8,338.4Z" fill="#80e6c6" stroke="none"/>
<path d="M486.8,338.4L488.8,337.1L490.8,335.6L492.8,334L494.7,332.1L496.7,330.1L498.7,327.7L500.7,325.2L502.7,322.8L504.7,320.5L506.7,318.4L508.6,316.3L510.6,314.3L512.6,312.2L514.6,310.2L516.6,308.2L518.6,306.1L520.6,304.1L522.5,302.1L524.5,300.1L526.5,298.1L528.5,296.2L530.5,294.4L532.5,292.7L534.5,290.9L536.4,289.3L538.4,287.6L540.4,286L542.4,284.4L544.4,282.9L546.4,281.3L548.4,279.8L550.3,278.3L552.3,276.9L554.3,275.5L556.3,274.1L558.3,272.7L560.3,271.4L562.3,270L564.2,268.7L566.2,267.4L568.2,266.1L570.2,264.8L572.2,263.4L574.2,262.1L576.2,260.8L578.1,259.5L580.1,258.2L582.1,257L584.1,255.8L586.1,254.7L588.1,253.6L590.1,252.5L592.1,251.4L594,250.3L596,249.3L598,248.4L600,247.5L602,246.7L604,246L606,245.2L607.9,244.6L609.9,243.9L611.9,243.3L613.9,242.7L615.9,242.1L617.9,241.4L619.9,240.8L621.8,240.2L623.8,239.7L625.8,239.1L627.8,238.5L629.8,238L631.8,237.4L633.8,236.8L635.7,236.2L637.7,235.5L639.7,234.8L641.7,234.1L643.7,233.4L645.7,232.6L647.7,231.9L649.6,231.1L651.6,230.4L653.6,229.6L655.6,228.7L657.6,227.9L659.6,227.2L661.6,226.5L663.5,226L665.5,225.5L667.5,225.2L669.5,224.8L671.5,224.5L673.5,224.3L675.5,224L677.4,223.8L679.4,223.6L681.4,223.4L683.4,223.2L683.4,248.4L681.4,248.5L679.4,248.6L677.4,248.8L675.5,248.9L673.5,249L671.5,249.2L669.5,249.3L667.5,249.4L665.5,249.6L663.5,249.8L661.6,250.2L659.6,250.7L657.6,251.2L655.6,251.9L653.6,252.5L651.6,253.1L649.6,253.7L647.7,254.2L645.7,254.7L643.7,255.2L641.7,255.7L639.7,256.2L637.7,256.6L635.7,257L633.8,257.5L631.8,257.8L629.8,258.2L627.8,258.6L625.8,259L623.8,259.3L621.8,259.7L619.9,260.1L617.9,260.5L615.9,261L613.9,261.4L611.9,261.8L609.9,262.2L607.9,262.7L606,263.2L604,263.7L602,264.2L600,264.8L598,265.4L596,266.1L594,266.8L592.1,267.5L590.1,268.3L588.1,269.1L586.1,269.9L584.1,270.8L582.1,271.7L580.1,272.7L578.1,273.7L576.2,274.8L574.2,275.9L572.2,277L570.2,278.1L568.2,279.2L566.2,280.3L564.2,281.3L562.3,282.4L560.3,283.6L558.3,284.7L556.3,285.9L554.3,287.1L552.3,288.3L550.3,289.6L548.4,290.9L546.4,292.4L544.4,293.9L542.4,295.5L540.4,297.1L538.4,298.7L536.4,300.3L534.5,301.8L532.5,303.4L530.5,304.8L528.5,306.2L526.5,307.5L524.5,308.8L522.5,310L520.6,311.3L518.6,312.6L516.6,313.9L514.6,315.3L512.6,316.7L510.6,318.2L508.6,319.7L506.7,321.3L504.7,323L502.7,324.8L500.7,326.9L498.7,329.1L496.7,331.2L494.7,333L492.8,334.6L490.8,336.1L488.8,337.3L486.8,338.4Z" fill="#7b86e2" stroke="none"/>
<path d="M486.8,338.4L488.8,337.4L490.8,336.2L492.8,334.8L494.7,333.2L496.7,331.5L498.7,329.7L500.7,327.8L502.7,326L504.7,324.4L506.7,322.9L508.6,321.5L510.6,320.1L512.6,318.8L514.6,317.5L516.6,316.1L518.6,314.8L520.6,313.5L522.5,312.3L524.5,311L526.5,309.8L528.5,308.5L530.5,307.3L532.5,306.1L534.5,304.9L536.4,303.7L538.4,302.5L540.4,301.4L542.4,300.2L544.4,299.1L546.4,298L548.4,296.9L550.3,295.8L552.3,294.7L554.3,293.7L556.3,292.6L558.3,291.6L560.3,290.6L562.3,289.6L564.2,288.6L566.2,287.7L568.2,286.8L570.2,285.9L572.2,285.1L574.2,284.3L576.2,283.5L578.1,282.8L580.1,282.1L582.1,281.4L584.1,280.8L586.1,280.2L588.1,279.6L590.1,279L592.1,278.5L594,278L596,277.5L598,277L600,276.5L602,275.9L604,275.4L606,274.9L607.9,274.3L609.9,273.8L611.9,273.3L613.9,272.8L615.9,272.3L617.9,271.8L619.9,271.4L621.8,270.9L623.8,270.5L625.8,270L627.8,269.6L629.8,269.2L631.8,268.8L633.8,268.4L635.7,268L637.7,267.6L639.7,267.3L641.7,266.9L643.7,266.6L645.7,266.2L647.7,265.9L649.6,265.6L651.6,265.2L653.6,265L655.6,264.7L657.6,264.4L659.6,264.1L661.6,263.8L663.5,263.4L665.5,263L667.5,262.6L669.5,262L671.5,261.5L673.5,260.9L675.5,260.4L677.4,259.9L679.4,259.4L681.4,258.8L683.4,258.3" fill="none" stroke="#25ad8a" stroke-width="1" stroke-linejoin="round" stroke-linecap="round"/>
<path d="M486.8,338.4L488.8,337.2L490.8,335.8L492.8,334.3L494.7,332.5L496.7,330.6L498.7,328.3L500.7,326L502.7,323.8L504.7,321.7L506.7,319.8L508.6,318L510.6,316.2L512.6,314.5L514.6,312.7L516.6,311L518.6,309.3L520.6,307.6L522.5,306L524.5,304.3L526.5,302.7L528.5,301L530.5,299.4L532.5,297.8L534.5,296.1L536.4,294.5L538.4,292.9L540.4,291.2L542.4,289.6L544.4,288.1L546.4,286.6L548.4,285.1L550.3,283.7L552.3,282.3L554.3,280.9L556.3,279.6L558.3,278.4L560.3,277.1L562.3,275.9L564.2,274.7L566.2,273.5L568.2,272.3L570.2,271.1L572.2,269.9L574.2,268.6L576.2,267.4L578.1,266.2L580.1,265.1L582.1,264L584.1,262.9L586.1,262L588.1,261.1L590.1,260.2L592.1,259.4L594,258.6L596,257.9L598,257.2L600,256.5L602,255.8L604,255.1L606,254.5L607.9,253.8L609.9,253.2L611.9,252.6L613.9,252.1L615.9,251.5L617.9,250.9L619.9,250.4L621.8,249.9L623.8,249.3L625.8,248.8L627.8,248.3L629.8,247.9L631.8,247.4L633.8,246.8L635.7,246.3L637.7,245.8L639.7,245.2L641.7,244.7L643.7,244.1L645.7,243.5L647.7,242.9L649.6,242.3L651.6,241.6L653.6,240.9L655.6,240.1L657.6,239.3L659.6,238.6L661.6,238L663.5,237.6L665.5,237.4L667.5,237.3L669.5,237.1L671.5,237L673.5,236.9L675.5,236.9L677.4,236.8L679.4,236.7L681.4,236.7L683.4,236.7" fill="none" stroke="#1c2cc8" stroke-width="1.1" stroke-linejoin="round" stroke-linecap="round"/>
<line x1="486.5" y1="210.5" x2="683.7" y2="210.5" stroke="#333" stroke-width="1"/>
<line x1="683.7" y1="210.5" x2="683.7" y2="348.5" stroke="#888" stroke-width="1.5"/>
<line x1="486.5" y1="210" x2="486.5" y2="349.05" stroke="#222" stroke-width="1.1"/>
<line x1="485.95" y1="348.5" x2="684.45" y2="348.5" stroke="#222" stroke-width="1.1"/>
<line x1="486.5" y1="338.4" x2="483" y2="338.4" stroke="#222" stroke-width="0.9"/>
<text x="483.8" y="341.4" font-size="7.9" text-anchor="end" fill="#1a1a1a" stroke="#1a1a1a" stroke-width="0.15">0</text>
<line x1="486.5" y1="318.73" x2="483" y2="318.73" stroke="#222" stroke-width="0.9"/>
<text x="483.8" y="321.73" font-size="7.9" text-anchor="end" fill="#1a1a1a" stroke="#1a1a1a" stroke-width="0.15">500</text>
<line x1="486.5" y1="299.06" x2="483" y2="299.06" stroke="#222" stroke-width="0.9"/>
<text x="483.8" y="302.06" font-size="7.9" text-anchor="end" fill="#1a1a1a" stroke="#1a1a1a" stroke-width="0.15">1000</text>
<line x1="486.5" y1="279.39" x2="483" y2="279.39" stroke="#222" stroke-width="0.9"/>
<text x="483.8" y="282.39" font-size="7.9" text-anchor="end" fill="#1a1a1a" stroke="#1a1a1a" stroke-width="0.15">1500</text>
<line x1="486.5" y1="259.72" x2="483" y2="259.72" stroke="#222" stroke-width="0.9"/>
<text x="483.8" y="262.72" font-size="7.9" text-anchor="end" fill="#1a1a1a" stroke="#1a1a1a" stroke-width="0.15">2000</text>
<line x1="486.5" y1="240.05" x2="483" y2="240.05" stroke="#222" stroke-width="0.9"/>
<text x="483.8" y="243.05" font-size="7.9" text-anchor="end" fill="#1a1a1a" stroke="#1a1a1a" stroke-width="0.15">2500</text>
<line x1="486.5" y1="220.38" x2="483" y2="220.38" stroke="#222" stroke-width="0.9"/>
<text x="483.8" y="223.38" font-size="7.9" text-anchor="end" fill="#1a1a1a" stroke="#1a1a1a" stroke-width="0.15">3000</text>
<line x1="486.5" y1="348.23" x2="484.4" y2="348.23" stroke="#222" stroke-width="0.8"/>
<line x1="486.5" y1="328.56" x2="484.4" y2="328.56" stroke="#222" stroke-width="0.8"/>
<line x1="486.5" y1="308.89" x2="484.4" y2="308.89" stroke="#222" stroke-width="0.8"/>
<line x1="486.5" y1="289.22" x2="484.4" y2="289.22" stroke="#222" stroke-width="0.8"/>
<line x1="486.5" y1="269.55" x2="484.4" y2="269.55" stroke="#222" stroke-width="0.8"/>
<line x1="486.5" y1="249.88" x2="484.4" y2="249.88" stroke="#222" stroke-width="0.8"/>
<line x1="486.5" y1="230.21" x2="484.4" y2="230.21" stroke="#222" stroke-width="0.8"/>
<line x1="486.5" y1="210.54" x2="484.4" y2="210.54" stroke="#222" stroke-width="0.8"/>
<line x1="486.5" y1="348.5" x2="486.5" y2="352" stroke="#222" stroke-width="0.9"/>
<text x="486.9" y="358.9" font-size="7.9" text-anchor="middle" fill="#1a1a1a" stroke="#1a1a1a" stroke-width="0.15">0</text>
<line x1="530.35" y1="348.5" x2="530.35" y2="352" stroke="#222" stroke-width="0.9"/>
<text x="530.75" y="358.9" font-size="7.9" text-anchor="middle" fill="#1a1a1a" stroke="#1a1a1a" stroke-width="0.15">100</text>
<line x1="574.2" y1="348.5" x2="574.2" y2="352" stroke="#222" stroke-width="0.9"/>
<text x="574.6" y="358.9" font-size="7.9" text-anchor="middle" fill="#1a1a1a" stroke="#1a1a1a" stroke-width="0.15">200</text>
<line x1="618.05" y1="348.5" x2="618.05" y2="352" stroke="#222" stroke-width="0.9"/>
<text x="618.45" y="358.9" font-size="7.9" text-anchor="middle" fill="#1a1a1a" stroke="#1a1a1a" stroke-width="0.15">300</text>
<line x1="661.9" y1="348.5" x2="661.9" y2="352" stroke="#222" stroke-width="0.9"/>
<text x="662.3" y="358.9" font-size="7.9" text-anchor="middle" fill="#1a1a1a" stroke="#1a1a1a" stroke-width="0.15">400</text>
<line x1="508.43" y1="348.5" x2="508.43" y2="350.6" stroke="#222" stroke-width="0.8"/>
<line x1="552.27" y1="348.5" x2="552.27" y2="350.6" stroke="#222" stroke-width="0.8"/>
<line x1="596.12" y1="348.5" x2="596.12" y2="350.6" stroke="#222" stroke-width="0.8"/>
<line x1="639.98" y1="348.5" x2="639.98" y2="350.6" stroke="#222" stroke-width="0.8"/>
<line x1="683.83" y1="348.5" x2="683.83" y2="350.6" stroke="#222" stroke-width="0.8"/>
<text x="585" y="370.2" font-size="9.5" text-anchor="middle" fill="#1a1a1a" stroke="#1a1a1a" stroke-width="0.15">Current Density (mA cm<tspan font-size="64%" dy="-0.58em">-2</tspan><tspan dy="0.371em">)</tspan></text>
<text x="460.9" y="276.2" font-size="9.5" text-anchor="middle" fill="#1a1a1a" stroke="#1a1a1a" stroke-width="0.15" transform="rotate(-90 460.9 276.2)">Luminance (cd cm<tspan font-size="64%" dy="-0.58em">-2</tspan><tspan dy="0.371em">)</tspan></text>
<line x1="499.4" y1="227.5" x2="515" y2="227.5" stroke="#30c09e" stroke-width="1.1"/>
<text x="521.5" y="230.2" font-size="7.4" fill="#1a1a1a" stroke="#1a1a1a" stroke-width="0.15">Film</text>
<line x1="499.4" y1="236.7" x2="515" y2="236.7" stroke="#2233cc" stroke-width="1.1"/>
<text x="521.5" y="239.4" font-size="7.4" fill="#1a1a1a" stroke="#1a1a1a" stroke-width="0.15">Spherulite</text>
</g>
<g id="pg">
<text x="0" y="397.6" font-size="13.3" fill="#000" font-weight="bold">g</text>
<defs><linearGradient id="ggrad" x1="0" x2="1" y1="0" y2="0"><stop offset="0" stop-color="#b9e4b2"/><stop offset="1" stop-color="#4fae3a"/></linearGradient><linearGradient id="gfill" x1="0" x2="0" y1="0" y2="1"><stop offset="0" stop-color="#e4f4e1"/><stop offset="0.35" stop-color="#c9eac4"/><stop offset="1" stop-color="#b9e4b3"/></linearGradient><clipPath id="gclip"><rect x="34.5" y="397.5" width="171" height="139.5"/></clipPath></defs>
<g clip-path="url(#gclip)">
<rect x="67.76" y="518.33" width="110.58" height="16.17" fill="url(#gfill)" stroke="none" stroke-width="0.8"/>
<path d="M66,534.2L66.9,534L67.8,533.9L68.6,534L69.5,533.5L70.3,533.4L71.2,533.4L72,533.1L72.9,533L73.7,533.2L74.6,533.1L77.5,532.9L80.3,532.7L83.2,532.6L86,532.9L88.9,532.8L91.7,532.5L94.6,532.4L97.4,532.6L100.2,532.7L103.1,532.4L106,532.6L108.8,532.5L111.7,532.4L114.5,532.5L117.3,532.6L120.2,532.5L123.1,532.7L125.9,532.6L128.8,532.7L131.6,532.6L134.4,532.7L137.3,532.6L140.2,532.6L143,532.6L145.9,532.6L148.7,532.5L151.6,532.4L154.4,532.8L157.2,532.4L160.1,532.6L162.9,532.8L165.8,532.6L168.7,532.6L171.5,532.4L174.4,532.7L177.2,532.5L178.3,532.6" fill="none" stroke="#a6dc9e" stroke-width="1.24" stroke-linejoin="round" stroke-linecap="round" stroke-linecap="butt"/>
<path d="M66,534.1L66.9,533.7L67.8,533.3L68.6,533.1L69.5,532.8L70.3,532.7L71.2,532.5L72,532.4L72.9,532.2L73.7,532.4L74.6,532.2L77.5,531.9L80.3,532.1L83.2,531.6L86,531.9L88.9,531.7L91.7,531.4L94.6,531.8L97.4,531.8L100.2,531.4L103.1,531.8L106,531.7L108.8,531.6L111.7,531.6L114.5,531.5L117.3,531.6L120.2,531.4L123.1,531.5L125.9,531.5L128.8,531.7L131.6,531.7L134.4,531.9L137.3,531.5L140.2,531.9L143,531.5L145.9,531.3L148.7,531.8L151.6,531.7L154.4,531.7L157.2,531.5L160.1,531.8L162.9,531.6L165.8,531.7L168.7,531.7L171.5,531.4L174.4,531.8L177.2,531.6L178.3,531.6" fill="none" stroke="#a6dc9e" stroke-width="1.27" stroke-linejoin="round" stroke-linecap="round" stroke-linecap="butt"/>
<path d="M66,533.9L66.9,533.4L67.8,532.8L68.6,532.6L69.5,532.2L70.3,532.1L71.2,532.1L72,531.8L72.9,531.4L73.7,531.4L74.6,531.3L77.5,530.8L80.3,530.6L83.2,530.9L86,530.5L88.9,531.1L91.7,531.1L94.6,530.6L97.4,530.8L100.2,530.6L103.1,530.6L106,530.7L108.8,530.6L111.7,530.6L114.5,530.9L117.3,530.6L120.2,530.6L123.1,530.4L125.9,530.8L128.8,530.7L131.6,530.7L134.4,530.7L137.3,530.4L140.2,530.6L143,530.7L145.9,530.6L148.7,530.5L151.6,530.8L154.4,530.7L157.2,530.4L160.1,530.5L162.9,530.7L165.8,530.7L168.7,530.7L171.5,530.9L174.4,530.5L177.2,530.6L178.3,530.6" fill="none" stroke="#a6dc9e" stroke-width="1.3" stroke-linejoin="round" stroke-linecap="round" stroke-linecap="butt"/>
<path d="M66,533.7L66.9,533.1L67.8,532.4L68.6,532L69.5,531.8L70.3,531.3L71.2,530.9L72,531L72.9,530.8L73.7,530.7L74.6,530.6L77.5,530L80.3,529.9L83.2,529.8L86,530.1L88.9,530L91.7,529.8L94.6,529.9L97.4,529.8L100.2,529.9L103.1,529.6L106,529.4L108.8,529.5L111.7,529.5L114.5,529.7L117.3,529.6L120.2,529.8L123.1,529.6L125.9,529.8L128.8,529.8L131.6,529.8L134.4,529.6L137.3,529.7L140.2,529.7L143,529.9L145.9,529.7L148.7,529.9L151.6,529.5L154.4,529.7L157.2,529.7L160.1,529.7L162.9,530L165.8,529.9L168.7,529.7L171.5,529.5L174.4,529.9L177.2,529.8L178.3,529.7" fill="none" stroke="#a6dc9e" stroke-width="1.33" stroke-linejoin="round" stroke-linecap="round" stroke-linecap="butt"/>
<path d="M66,533.5L66.9,532.7L67.8,532.1L68.6,531.4L69.5,531L70.3,530.3L71.2,530.3L72,530L72.9,529.5L73.7,529.3L74.6,529.8L77.5,529.2L80.3,528.8L83.2,529.2L86,529.1L88.9,529.1L91.7,529.1L94.6,529L97.4,528.8L100.2,528.6L103.1,528.5L106,528.8L108.8,529.1L111.7,528.8L114.5,528.8L117.3,528.7L120.2,528.8L123.1,529.1L125.9,528.7L128.8,529.1L131.6,528.9L134.4,528.7L137.3,528.7L140.2,528.5L143,529.1L145.9,528.7L148.7,528.6L151.6,528.8L154.4,528.6L157.2,528.9L160.1,528.6L162.9,528.7L165.8,528.9L168.7,528.9L171.5,528.8L174.4,528.9L177.2,528.6L178.3,528.7" fill="none" stroke="#a6dc9e" stroke-width="1.36" stroke-linejoin="round" stroke-linecap="round" stroke-linecap="butt"/>
<path d="M66,533.2L66.9,532.2L67.8,531.3L68.6,530.7L69.5,530.3L70.3,529.8L71.2,529.4L72,528.9L72.9,528.9L73.7,528.6L74.6,528.4L77.5,528.2L80.3,528L83.2,527.6L86,527.5L88.9,527.9L91.7,527.8L94.6,527.8L97.4,527.8L100.2,527.5L103.1,527.6L106,527.5L108.8,527.4L111.7,527.7L114.5,527.7L117.3,527.6L120.2,527.5L123.1,527.7L125.9,527.5L128.8,527.4L131.6,527.4L134.4,527.6L137.3,527.8L140.2,527.9L143,527.5L145.9,527.6L148.7,527.8L151.6,527.7L154.4,527.7L157.2,527.9L160.1,527.6L162.9,527.8L165.8,527.7L168.7,527.5L171.5,527.7L174.4,527.6L177.2,527.6L178.3,527.6" fill="none" stroke="#a4db9b" stroke-width="1.39" stroke-linejoin="round" stroke-linecap="round" stroke-linecap="butt"/>
<path d="M66,532.9L66.9,531.7L67.8,530.7L68.6,529.5L69.5,529.4L70.3,528.5L71.2,528.2L72,528.1L72.9,528.1L73.7,527.2L74.6,527.5L77.5,527.2L80.3,526.8L83.2,526.8L86,526.7L88.9,526.8L91.7,527L94.6,526.5L97.4,526.8L100.2,526.6L103.1,526.5L106,526.4L108.8,526.6L111.7,526.6L114.5,526.6L117.3,526.9L120.2,526.7L123.1,526.7L125.9,526.8L128.8,526.5L131.6,526.6L134.4,526.3L137.3,526.3L140.2,526.9L143,526.5L145.9,526.7L148.7,526.5L151.6,526.5L154.4,526.4L157.2,526.5L160.1,526.4L162.9,526.6L165.8,527L168.7,526.8L171.5,526.7L174.4,526.6L177.2,526.7L178.3,526.3" fill="none" stroke="#a0d996" stroke-width="1.42" stroke-linejoin="round" stroke-linecap="round" stroke-linecap="butt"/>
<path d="M66,532.6L66.9,531L67.8,529.9L68.6,528.5L69.5,528.3L70.3,527.4L71.2,527.3L72,526.6L72.9,526.1L73.7,526.5L74.6,526.2L77.5,525.7L80.3,525.6L83.2,525.8L86,525.3L88.9,525.5L91.7,525.3L94.6,525.4L97.4,525.7L100.2,525.5L103.1,525.1L106,525.6L108.8,525.4L111.7,525.2L114.5,525.1L117.3,525.2L120.2,525.6L123.1,524.9L125.9,525.4L128.8,525.3L131.6,525.3L134.4,525.4L137.3,525.5L140.2,525.4L143,525.1L145.9,525.6L148.7,525.8L151.6,525.2L154.4,525.3L157.2,525.2L160.1,525L162.9,525.5L165.8,525.3L168.7,525.2L171.5,525.1L174.4,525.1L177.2,525.5L178.3,525.6" fill="none" stroke="#9cd791" stroke-width="1.45" stroke-linejoin="round" stroke-linecap="round" stroke-linecap="butt"/>
<path d="M66,532.1L66.9,530.2L67.8,528.6L68.6,527.7L69.5,526.9L70.3,526.3L71.2,525.4L72,525.2L72.9,525.1L73.7,524.7L74.6,524.6L77.5,524.2L80.3,524L83.2,524.2L86,524.1L88.9,524.1L91.7,523.9L94.6,524L97.4,524.1L100.2,524.2L103.1,524L106,524.2L108.8,523.9L111.7,524L114.5,523.9L117.3,524.1L120.2,524.1L123.1,524.1L125.9,523.7L128.8,524L131.6,524L134.4,524.3L137.3,524L140.2,524.6L143,523.7L145.9,524L148.7,523.9L151.6,524.2L154.4,524.2L157.2,523.8L160.1,524L162.9,523.9L165.8,523.7L168.7,523.8L171.5,524.3L174.4,524.1L177.2,524.2L178.3,524.1" fill="none" stroke="#98d58c" stroke-width="1.49" stroke-linejoin="round" stroke-linecap="round" stroke-linecap="butt"/>
<path d="M66,531.5L66.9,529.3L67.8,527.7L68.6,526.4L69.5,525.2L70.3,524.7L71.2,523.8L72,524.1L72.9,523.7L73.7,523.1L74.6,523.1L77.5,523L80.3,522.5L83.2,522.5L86,522.4L88.9,522.8L91.7,522.7L94.6,522.6L97.4,522.6L100.2,522.4L103.1,522.6L106,522.4L108.8,522.9L111.7,522.3L114.5,522.1L117.3,522.5L120.2,522.2L123.1,522.8L125.9,522.5L128.8,522.8L131.6,522.4L134.4,522.3L137.3,522.7L140.2,522.6L143,522.6L145.9,522L148.7,522.5L151.6,522.4L154.4,522.4L157.2,522.4L160.1,522.5L162.9,522.7L165.8,522.6L168.7,522.1L171.5,522.4L174.4,522.5L177.2,522.7L178.3,522.5" fill="none" stroke="#94d386" stroke-width="1.52" stroke-linejoin="round" stroke-linecap="round" stroke-linecap="butt"/>
<path d="M66,530.8L66.9,528.1L67.8,526L68.6,524.8L69.5,523.7L70.3,522.7L71.2,522.3L72,521.7L72.9,521.7L73.7,521.5L74.6,521.2L77.5,521.1L80.3,520.8L83.2,521L86,521.1L88.9,521L91.7,520.9L94.6,521.3L97.4,521L100.2,521L103.1,520.7L106,521L108.8,520.6L111.7,521.1L114.5,520.8L117.3,520.6L120.2,520.9L123.1,520.6L125.9,521.2L128.8,520.8L131.6,520.8L134.4,520.8L137.3,521.1L140.2,520.7L143,521.3L145.9,520.6L148.7,520.7L151.6,520.6L154.4,520.9L157.2,521L160.1,520.9L162.9,520.9L165.8,520.7L168.7,520.9L171.5,520.7L174.4,520.7L177.2,520.5L178.3,521.2" fill="none" stroke="#90d181" stroke-width="1.57" stroke-linejoin="round" stroke-linecap="round" stroke-linecap="butt"/>
<path d="M66,529.9L66.9,526.7L67.8,524.2L68.6,522.8L69.5,521.6L70.3,520.7L71.2,520.1L72,519.8L72.9,519.6L73.7,519.5L74.6,519.3L77.5,518.7L80.3,519.2L83.2,518.8L86,518.6L88.9,519L91.7,518.5L94.6,519L97.4,518.6L100.2,518.9L103.1,519.1L106,518.8L108.8,518.4L111.7,518.9L114.5,518.7L117.3,519L120.2,518.9L123.1,518.6L125.9,518.8L128.8,518.6L131.6,518.5L134.4,519L137.3,518.9L140.2,518.7L143,518.2L145.9,518.8L148.7,518.8L151.6,518.6L154.4,518.3L157.2,518.9L160.1,518.8L162.9,518.7L165.8,518.6L168.7,518.2L171.5,519L174.4,519.1L177.2,518.7L178.3,518.6" fill="none" stroke="#8ccf7c" stroke-width="1.61" stroke-linejoin="round" stroke-linecap="round" stroke-linecap="butt"/>
<path d="M66,528.8L66.9,524.8L67.8,521.8L68.6,520.3L69.5,518.8L70.3,518L71.2,517.3L72,517L72.9,516.8L73.7,516.4L74.6,516.7L76,516.5L77.5,516.3L78.9,516.7L80.3,516.6L81.7,516.7L83.2,516.8L84.6,516.1L86,516.5L87.4,516.2L88.9,516.4L90.3,516.6L91.7,516.7L93.1,516.5L94.6,516.6L96,516.3L97.4,516.7L98.8,516.5L100.2,516.4L101.7,516.5L103.1,516.5L104.5,516.3L106,516.2L107.4,516.4L108.8,516.3L110.2,516.4L111.7,516.2L113.1,516.3L114.5,516.7L115.9,516.3L117.3,516.1L118.8,516.2L120.2,516.5L121.6,516.1L123.1,516.1L124.5,516.1L125.9,515.9L127.3,516.3L128.8,516.1L130.2,516.3L131.6,516L133,516L134.4,516.1L135.9,516.1L137.3,516.5L138.7,516.1L140.2,516.5L141.6,515.8L143,516L144.4,516.6L145.9,516.9L147.3,516L148.7,516.5L150.1,516.1L151.6,516.6L153,516.3L154.4,516.4L155.8,516.1L157.2,516.4L158.7,515.9L160.1,516.5L161.5,516L162.9,516.3L164.4,516.2L165.8,516.7L167.2,516.7L168.7,516L170.1,516.6L171.5,516.4L172.9,516.4L174.4,516.5L175.8,516.2L177.2,516.6L178.3,516.6" fill="none" stroke="#89cd77" stroke-width="1.67" stroke-linejoin="round" stroke-linecap="round" stroke-linecap="butt"/>
<path d="M66,527.3L66.9,522.6L67.8,519.3L68.6,517.2L69.5,515.6L70.3,515.1L71.2,515.1L72,514.4L72.9,514.2L73.7,513.7L74.6,513.8L76,514L77.5,513.8L78.9,514.1L80.3,513.9L81.7,514L83.2,513.8L84.6,514L86,513.8L87.4,514.1L88.9,513.9L90.3,514.1L91.7,513.9L93.1,514L94.6,514.1L96,514.1L97.4,514.1L98.8,513.8L100.2,514.5L101.7,513.6L103.1,514.5L104.5,513.9L106,513.9L107.4,513.6L108.8,513.7L110.2,513.8L111.7,513.7L113.1,513.5L114.5,513.1L115.9,513.6L117.3,514.2L118.8,513.8L120.2,513.6L121.6,512.8L123.1,513.9L124.5,513.8L125.9,513.5L127.3,513.6L128.8,514L130.2,513.4L131.6,514L133,513.7L134.4,513.3L135.9,514L137.3,513.8L138.7,513.3L140.2,513.7L141.6,513.9L143,513.8L144.4,513.5L145.9,514.1L147.3,513.8L148.7,514L150.1,514L151.6,513.4L153,513.7L154.4,513.8L155.8,513.6L157.2,513.9L158.7,514L160.1,513.4L161.5,513.5L162.9,513.9L164.4,513.5L165.8,513.3L167.2,513.6L168.7,513.5L170.1,514L171.5,513.7L172.9,514.1L174.4,513.4L175.8,513.7L177.2,513.3L178.3,513.9" fill="none" stroke="#85cb72" stroke-width="1.73" stroke-linejoin="round" stroke-linecap="round" stroke-linecap="butt"/>
<path d="M66,525.3L66.9,519.4L67.8,515.9L68.6,513.3L69.5,512L70.3,511.2L71.2,511.1L72,510L72.9,510.1L73.7,509.9L74.6,509.9L76,510.3L77.5,510.1L78.9,509.6L80.3,510.6L81.7,510.3L83.2,510.6L84.6,510L86,510.4L87.4,510.8L88.9,510.6L90.3,510.9L91.7,511.1L93.1,511.2L94.6,510.6L96,510.7L97.4,510.3L98.8,510.5L100.2,510.2L101.7,509.7L103.1,510.5L104.5,510.5L106,509.9L107.4,509.4L108.8,510.3L110.2,510.5L111.7,510.1L113.1,510.1L114.5,509.8L115.9,510.3L117.3,510.1L118.8,510.1L120.2,510.4L121.6,510.4L123.1,509.9L124.5,509.8L125.9,510.2L127.3,509.5L128.8,509.7L130.2,509.9L131.6,509.8L133,509.9L134.4,509.8L135.9,509.7L137.3,510L138.7,510.5L140.2,510L141.6,510.2L143,510.3L144.4,509.8L145.9,510.5L147.3,509.7L148.7,510.2L150.1,510.3L151.6,510.2L153,509.3L154.4,509.6L155.8,510.1L157.2,509.7L158.7,509.5L160.1,510.2L161.5,510.1L162.9,509.7L164.4,509.9L165.8,510.1L167.2,509.5L168.7,509.8L170.1,509.8L171.5,509.3L172.9,509.8L174.4,509.2L175.8,509.9L177.2,510L178.3,509.9" fill="none" stroke="#81c96d" stroke-width="1.81" stroke-linejoin="round" stroke-linecap="round" stroke-linecap="butt"/>
<path d="M66,522.5L66.9,515.4L67.8,511L68.6,509.1L69.5,507.5L70.3,506.4L71.2,505.6L72,505.2L72.9,506.3L73.7,505.6L74.6,505.7L76,505.7L77.5,505.7L78.9,506.1L80.3,506.3L81.7,505.6L83.2,505.7L84.6,506.1L86,506.1L87.4,506.2L88.9,506.5L90.3,505.8L91.7,506.2L93.1,506.3L94.6,506.2L96,505.4L97.4,505.8L98.8,505.8L100.2,505.8L101.7,505.5L103.1,505.5L104.5,506.1L106,505.7L107.4,505.8L108.8,505.5L110.2,505.6L111.7,506.1L113.1,505.2L114.5,505.4L115.9,506L117.3,505.1L118.8,505.4L120.2,505.3L121.6,505.5L123.1,505.4L124.5,505.6L125.9,506L127.3,505.7L128.8,505.4L130.2,505.5L131.6,505.3L133,505.5L134.4,506.2L135.9,505.2L137.3,505.7L138.7,505.9L140.2,505.6L141.6,505.9L143,505.4L144.4,505.8L145.9,504.9L147.3,505.6L148.7,505.6L150.1,505.7L151.6,506.1L153,505.7L154.4,505.7L155.8,505.6L157.2,506.2L158.7,505.5L160.1,505.1L161.5,505.6L162.9,505.5L164.4,505.3L165.8,505.7L167.2,505.6L168.7,505.2L170.1,505.4L171.5,505.8L172.9,506L174.4,504.8L175.8,505.3L177.2,506L178.3,505.4" fill="none" stroke="#7dc768" stroke-width="1.91" stroke-linejoin="round" stroke-linecap="round" stroke-linecap="butt"/>
<path d="M66,519.2L66.9,510.6L67.8,506.5L68.6,502.7L69.5,501.7L70.3,501.2L71.2,500.5L72,500.7L72.9,500.7L73.7,500.4L74.6,501.4L76,500.5L77.5,500.9L78.9,500.8L80.3,500.9L81.7,500.7L83.2,500.8L84.6,501L86,501.4L87.4,501.1L88.9,501.5L90.3,501.6L91.7,501.2L93.1,501.2L94.6,500.9L96,501.9L97.4,501L98.8,500.9L100.2,501L101.7,500.5L103.1,501.2L104.5,500.8L106,501L107.4,500.8L108.8,501.1L110.2,500.8L111.7,500.5L113.1,500.7L114.5,500.6L115.9,500.9L117.3,500.1L118.8,500.9L120.2,500.7L121.6,500.5L123.1,500.7L124.5,500.4L125.9,500.6L127.3,500.1L128.8,500.5L130.2,500.5L131.6,500.9L133,500.5L134.4,500.3L135.9,500.5L137.3,501L138.7,500.8L140.2,500.7L141.6,500.6L143,501.1L144.4,500L145.9,500.7L147.3,500.6L148.7,500.8L150.1,500.7L151.6,500L153,501L154.4,500.8L155.8,501L157.2,500.8L158.7,500.2L160.1,500.9L161.5,500.8L162.9,501.2L164.4,500.8L165.8,500.6L167.2,500.8L168.7,500.8L170.1,500.4L171.5,500.5L172.9,500.7L174.4,500.9L175.8,501.1L177.2,500.1L178.3,501.2" fill="none" stroke="#79c563" stroke-width="2.01" stroke-linejoin="round" stroke-linecap="round" stroke-linecap="butt"/>
<path d="M66,515.2L66.9,505.3L67.8,500.5L68.6,497.3L69.5,496.6L70.3,495.3L71.2,495.9L72,495.3L72.9,495.1L73.7,496L74.6,495L76,495.6L77.5,496.9L78.9,495.7L80.3,495.6L81.7,496.4L83.2,496.5L84.6,496.3L86,497.1L87.4,496.4L88.9,496.2L90.3,496.7L91.7,496.1L93.1,495.7L94.6,497.1L96,497L97.4,496.5L98.8,496L100.2,496L101.7,496.4L103.1,496.5L104.5,496.3L106,495.4L107.4,496.2L108.8,496.1L110.2,495.5L111.7,495.9L113.1,496.1L114.5,495.3L115.9,495.6L117.3,496L118.8,495.9L120.2,495.4L121.6,495.9L123.1,495.6L124.5,495.4L125.9,495.4L127.3,496.4L128.8,495.9L130.2,495.8L131.6,495.7L133,495.4L134.4,495.3L135.9,495.9L137.3,496.1L138.7,495.6L140.2,495.9L141.6,495.1L143,495.6L144.4,495.7L145.9,495.4L147.3,495.9L148.7,495.8L150.1,495.8L151.6,495.5L153,495.2L154.4,495.4L155.8,495.4L157.2,495.8L158.7,495.6L160.1,495.8L161.5,495.3L162.9,495.9L164.4,495.7L165.8,495.6L167.2,495.4L168.7,496L170.1,495.8L171.5,496L172.9,496.2L174.4,495.3L175.8,495.5L177.2,496.2L178.3,496.1" fill="none" stroke="#75c35e" stroke-width="2.1" stroke-linejoin="round" stroke-linecap="round" stroke-linecap="butt"/>
<path d="M66,509.9L66.9,498.4L67.8,493.5L68.6,490.1L69.5,489.7L70.3,489.2L71.2,488.7L72,489.2L72.9,489.1L73.7,489.2L74.6,489.1L76,489.9L77.5,489.4L78.9,489.8L80.3,489.4L81.7,490L83.2,490.4L84.6,490.5L86,490.7L87.4,490.3L88.9,490.3L90.3,490L91.7,490.3L93.1,490.6L94.6,489.8L96,490.3L97.4,490L98.8,489.4L100.2,489.5L101.7,490.2L103.1,489.9L104.5,489.2L106,489.3L107.4,489.4L108.8,489.3L110.2,490.4L111.7,489.6L113.1,490.1L114.5,489.7L115.9,489.6L117.3,489.3L118.8,489L120.2,489.1L121.6,489.3L123.1,489.6L124.5,488.9L125.9,489.3L127.3,490.1L128.8,489.5L130.2,489.2L131.6,489.8L133,489.4L134.4,488.9L135.9,489.5L137.3,489.5L138.7,489.5L140.2,489.8L141.6,489.6L143,489.8L144.4,489.6L145.9,489.8L147.3,489.1L148.7,489.5L150.1,489.1L151.6,489.9L153,489.5L154.4,489.2L155.8,489.2L157.2,489.7L158.7,489.5L160.1,489.4L161.5,489.6L162.9,489.6L164.4,489.3L165.8,489.9L167.2,490.2L168.7,489.6L170.1,489.3L171.5,490.3L172.9,488.9L174.4,489.4L175.8,489.2L177.2,489.8L178.3,489.5" fill="none" stroke="#71c158" stroke-width="2.23" stroke-linejoin="round" stroke-linecap="round" stroke-linecap="butt"/>
<path d="M66,503.9L66.9,491.1L67.8,485.5L68.6,483.7L69.5,482.7L70.3,481.9L71.2,482.7L72,482.9L72.9,482.8L73.7,482.5L74.6,483.6L76,483.2L77.5,483.5L78.9,483.7L80.3,484L81.7,483.6L83.2,483.8L84.6,484.7L86,483.5L87.4,484L88.9,484.1L90.3,484.3L91.7,484.3L93.1,485.2L94.6,484.2L96,483.8L97.4,483.7L98.8,484.1L100.2,484.8L101.7,484.2L103.1,483.8L104.5,483L106,484.2L107.4,483.4L108.8,483.1L110.2,483.1L111.7,483.3L113.1,484.5L114.5,483L115.9,483.2L117.3,483L118.8,483.6L120.2,483.4L121.6,482.5L123.1,483.2L124.5,483.2L125.9,483.5L127.3,482.6L128.8,483.9L130.2,483.4L131.6,483L133,483.2L134.4,482.8L135.9,483L137.3,482.5L138.7,483.3L140.2,483.2L141.6,483L143,483.9L144.4,482.5L145.9,483.5L147.3,482.7L148.7,482.5L150.1,482.7L151.6,483.1L153,483.4L154.4,484.1L155.8,482.9L157.2,483.2L158.7,482.4L160.1,483.3L161.5,482.9L162.9,483.3L164.4,483L165.8,483.3L167.2,483.2L168.7,483.9L170.1,483.4L171.5,483.2L172.9,482.6L174.4,483L175.8,483.7L177.2,482.5L178.3,483" fill="none" stroke="#6ebf53" stroke-width="2.35" stroke-linejoin="round" stroke-linecap="round" stroke-linecap="butt"/>
<path d="M66,497.7L66.9,484L67.8,480.5L68.6,477.5L69.5,476.9L70.3,476.2L71.2,477.1L72,477L72.9,477.5L73.7,477L74.6,477.7L76,477L77.5,477.5L78.9,477.7L80.3,478.3L81.7,478.2L83.2,478L84.6,478.8L86,477.9L87.4,478.5L88.9,477.9L90.3,477.5L91.7,477.8L93.1,478.9L94.6,477.8L96,478.4L97.4,478.4L98.8,478.2L100.2,478.6L101.7,477.8L103.1,478.2L104.5,477.3L106,477.6L107.4,478.8L108.8,478L110.2,478L111.7,477.8L113.1,477.8L114.5,477.4L115.9,477.5L117.3,477.9L118.8,477.2L120.2,477L121.6,477.4L123.1,476.8L124.5,477.2L125.9,477.6L127.3,477.6L128.8,477.4L130.2,477.1L131.6,477.3L133,476.9L134.4,476.8L135.9,477.8L137.3,477.9L138.7,477.4L140.2,477.2L141.6,477L143,477.1L144.4,477.1L145.9,477.8L147.3,477.2L148.7,477.7L150.1,477.2L151.6,477L153,477.7L154.4,477.5L155.8,476.2L157.2,477.7L158.7,477.6L160.1,477.9L161.5,478L162.9,476.9L164.4,477.7L165.8,477.7L167.2,477.7L168.7,478.7L170.1,477L171.5,477.6L172.9,477.4L174.4,476.7L175.8,477.4L177.2,477.3L178.3,477.3" fill="none" stroke="#6abd4e" stroke-width="2.45" stroke-linejoin="round" stroke-linecap="round" stroke-linecap="butt"/>
<path d="M66,489.3L66.9,474.4L67.8,469.8L68.6,469L69.5,467.4L70.3,467.1L71.2,467.7L72,466.8L72.9,467.6L73.7,467.3L74.6,468.5L76,468.1L77.5,469.6L78.9,469.3L80.3,469.6L81.7,470L83.2,469L84.6,469.3L86,470.3L87.4,469.7L88.9,470L90.3,469.9L91.7,469.7L93.1,470.2L94.6,469.8L96,469.6L97.4,470L98.8,469.8L100.2,469L101.7,469.4L103.1,468.1L104.5,468.1L106,469.5L107.4,468.9L108.8,470L110.2,469.3L111.7,469.3L113.1,469.2L114.5,469.9L115.9,468.7L117.3,468.7L118.8,469.2L120.2,468.8L121.6,468.3L123.1,467.9L124.5,469.4L125.9,467.9L127.3,469.6L128.8,469.2L130.2,468.9L131.6,468L133,468.4L134.4,468.4L135.9,468L137.3,468.6L138.7,469L140.2,468L141.6,468.9L143,469.4L144.4,469.6L145.9,468.7L147.3,467.8L148.7,468.4L150.1,468.7L151.6,468.1L153,469.5L154.4,468.5L155.8,469L157.2,468L158.7,469.2L160.1,468.3L161.5,468.6L162.9,468.7L164.4,468.4L165.8,468.8L167.2,468L168.7,468.8L170.1,469.8L171.5,468L172.9,468.1L174.4,468.5L175.8,468L177.2,468.4L178.3,469.2" fill="none" stroke="#66bb49" stroke-width="2.61" stroke-linejoin="round" stroke-linecap="round" stroke-linecap="butt" stroke-opacity="0.88"/>
<path d="M65.8,534.5L65.8,497.6L66,481.8" fill="none" stroke="#86cc72" stroke-width="1.6" stroke-linejoin="round" stroke-linecap="round" stroke-linecap="butt"/>
<path d="M178.5,460.8L178.5,534.5" fill="none" stroke="#74c45c" stroke-width="1.6" stroke-linejoin="round" stroke-linecap="round" stroke-linecap="butt"/>
<path d="M66,481.8L66.9,465.8L67.8,461L68.6,459.1L69.5,459.8L70.3,459.5L71.2,458.4L72,459.9L72.9,460.2L73.7,460.7L74.6,459.6L76,460.5L77.5,460.8L78.9,460.6L80.3,461.2L81.7,461.1L83.2,461.7L84.6,461.5L86,461.7L87.4,461.7L88.9,462.8L90.3,462.2L91.7,462.3L93.1,462.4L94.6,462L96,460.9L97.4,461.2L98.8,461.6L100.2,461.3L101.7,460.6L103.1,462L104.5,461L106,460.2L107.4,460L108.8,460.5L110.2,460.6L111.7,461.8L113.1,461.2L114.5,460.8L115.9,460.5L117.3,460.5L118.8,462L120.2,461L121.6,460.5L123.1,461.1L124.5,460.8L125.9,460.4L127.3,460.5L128.8,460.6L130.2,460.3L131.6,460.1L133,460.8L134.4,461.2L135.9,461.1L137.3,460.9L138.7,460.7L140.2,461.5L141.6,461.1L143,460.8L144.4,459.9L145.9,460.4L147.3,460.8L148.7,460.2L150.1,460.6L151.6,460.5L153,460.1L154.4,460.5L155.8,460.6L157.2,460.3L158.7,461L160.1,460.6L161.5,461.8L162.9,460.9L164.4,459.8L165.8,460.9L167.2,460.7L168.7,460.9L170.1,461.2L171.5,460.4L172.9,460.7L174.4,460.1L175.8,461.1L177.2,460.6L178.3,460.8" fill="none" stroke="#62b944" stroke-width="2.75" stroke-linejoin="round" stroke-linecap="round" stroke-linecap="butt" stroke-opacity="0.88"/>
<path d="M34.7,533.6L35.8,532.7L37,533.7L38.1,533.7L39.3,531.9L40.4,533.3L41.5,533.4L42.7,533L43.8,533.8L45,533.1L46.1,533.9L47.2,533.5L48.4,533.6L49.5,532.5L50.7,532.9L51.8,532.3L52.9,532.3L54.1,533.6L55.2,533L56.4,533.5L57.5,533.6L58.6,532.6L59.8,532.5L60.9,533.2L62.1,533.1L63.2,533.1L64.3,533.1L65.5,533.1" fill="none" stroke="#4cab31" stroke-width="2.7" stroke-linejoin="round" stroke-linecap="round" stroke-linecap="butt"/>
<path d="M178.9,533.8L180.1,532.9L181.2,533.6L182.3,533.9L183.5,533.3L184.6,533.1L185.8,532.8L186.9,533.1L188,533.1L189.2,533.6L190.3,533L191.4,533.1L192.6,533.1L193.7,533.7L194.9,532.3L196,532.9L197.1,532.9L198.3,533.2L199.4,533.4L200.6,532.8L201.7,534L202.8,533.5L204,533.4L205.1,533" fill="none" stroke="#4cab31" stroke-width="2.7" stroke-linejoin="round" stroke-linecap="round" stroke-linecap="butt"/>
</g>
<line x1="34.5" y1="397.5" x2="205.5" y2="397.5" stroke="#4a4a4a" stroke-width="1"/>
<line x1="205.5" y1="397.5" x2="205.5" y2="535.5" stroke="#555" stroke-width="1"/>
<line x1="34.5" y1="397" x2="34.5" y2="536" stroke="#4a4a4a" stroke-width="1"/>
<line x1="34" y1="535.5" x2="206" y2="535.5" stroke="#333" stroke-width="1"/>
<line x1="34.5" y1="534.5" x2="31.8" y2="534.5" stroke="#444" stroke-width="0.9"/>
<text x="29.6" y="537.3" font-size="7.8" text-anchor="end" fill="#1a1a1a" stroke="#1a1a1a" stroke-width="0.15">0.0</text>
<line x1="34.5" y1="507.1" x2="31.8" y2="507.1" stroke="#444" stroke-width="0.9"/>
<text x="29.6" y="509.9" font-size="7.8" text-anchor="end" fill="#1a1a1a" stroke="#1a1a1a" stroke-width="0.15">0.2</text>
<line x1="34.5" y1="479.7" x2="31.8" y2="479.7" stroke="#444" stroke-width="0.9"/>
<text x="29.6" y="482.5" font-size="7.8" text-anchor="end" fill="#1a1a1a" stroke="#1a1a1a" stroke-width="0.15">0.4</text>
<line x1="34.5" y1="452.3" x2="31.8" y2="452.3" stroke="#444" stroke-width="0.9"/>
<text x="29.6" y="455.1" font-size="7.8" text-anchor="end" fill="#1a1a1a" stroke="#1a1a1a" stroke-width="0.15">0.6</text>
<line x1="34.5" y1="424.9" x2="31.8" y2="424.9" stroke="#444" stroke-width="0.9"/>
<text x="29.6" y="427.7" font-size="7.8" text-anchor="end" fill="#1a1a1a" stroke="#1a1a1a" stroke-width="0.15">0.8</text>
<line x1="34.5" y1="397.5" x2="31.8" y2="397.5" stroke="#444" stroke-width="0.9"/>
<text x="29.6" y="400.3" font-size="7.8" text-anchor="end" fill="#1a1a1a" stroke="#1a1a1a" stroke-width="0.15">1.0</text>
<line x1="34.5" y1="520.8" x2="32.8" y2="520.8" stroke="#444" stroke-width="0.8"/>
<line x1="34.5" y1="493.4" x2="32.8" y2="493.4" stroke="#444" stroke-width="0.8"/>
<line x1="34.5" y1="466" x2="32.8" y2="466" stroke="#444" stroke-width="0.8"/>
<line x1="34.5" y1="438.6" x2="32.8" y2="438.6" stroke="#444" stroke-width="0.8"/>
<line x1="34.5" y1="411.2" x2="32.8" y2="411.2" stroke="#444" stroke-width="0.8"/>
<line x1="63.2" y1="535.5" x2="63.2" y2="538.2" stroke="#333" stroke-width="0.9"/>
<text x="62.4" y="546.9" font-size="8.3" text-anchor="middle" fill="#1a1a1a" stroke="#1a1a1a" stroke-width="0.15">0</text>
<line x1="120.2" y1="535.5" x2="120.2" y2="538.2" stroke="#333" stroke-width="0.9"/>
<text x="119.4" y="546.9" font-size="8.3" text-anchor="middle" fill="#1a1a1a" stroke="#1a1a1a" stroke-width="0.15">20</text>
<line x1="177.2" y1="535.5" x2="177.2" y2="538.2" stroke="#333" stroke-width="0.9"/>
<text x="176.4" y="546.9" font-size="8.3" text-anchor="middle" fill="#1a1a1a" stroke="#1a1a1a" stroke-width="0.15">40</text>
<line x1="34.7" y1="535.5" x2="34.7" y2="537.2" stroke="#333" stroke-width="0.8"/>
<line x1="91.7" y1="535.5" x2="91.7" y2="537.2" stroke="#333" stroke-width="0.8"/>
<line x1="148.7" y1="535.5" x2="148.7" y2="537.2" stroke="#333" stroke-width="0.8"/>
<line x1="205.7" y1="535.5" x2="205.7" y2="537.2" stroke="#333" stroke-width="0.8"/>
<text x="120.9" y="555.2" font-size="9.5" text-anchor="middle" fill="#1a1a1a" stroke="#1a1a1a" stroke-width="0.15">Time (μs)</text>
<text x="7.4" y="462" font-size="9.55" text-anchor="middle" fill="#1a1a1a" stroke="#1a1a1a" stroke-width="0.15" transform="rotate(-90 7.4 462)">EL Instensity (arb. units)</text>
<text x="61" y="414.3" font-size="7.4" fill="#444" stroke="#444" stroke-width="0.15">Film</text>
<text x="88" y="414.3" font-size="7.4" fill="#1a1a1a" stroke="#1a1a1a" stroke-width="0.15">1.0</text>
<rect x="101.5" y="409.2" width="49.8" height="5.8" fill="url(#ggrad)" stroke="none" stroke-width="0.8"/>
<text x="156.3" y="415.3" font-size="7.6" fill="#1a1a1a" stroke="#1a1a1a" stroke-width="0.15">25 mA cm<tspan font-size="64%" dy="-0.58em">-2</tspan></text>
</g>
<g id="ph">
<text x="234.8" y="397.8" font-size="13.3" fill="#000" font-weight="bold">h</text>
<defs><linearGradient id="hgrad" x1="0" x2="1" y1="0" y2="0"><stop offset="0" stop-color="#dcebf5"/><stop offset="1" stop-color="#1f6fb8"/></linearGradient><linearGradient id="hfill" x1="0" x2="0" y1="0" y2="1"><stop offset="0" stop-color="#9dc6e5"/><stop offset="1" stop-color="#d6e7f3"/></linearGradient><clipPath id="hclip"><rect x="264.1" y="397.5" width="170.9" height="138.4"/></clipPath></defs>
<g clip-path="url(#hclip)">
<path d="M295.15,533.7 L299.43,520.24 L407.15,518.85 L407.15,533.7 Z" fill="url(#hfill)"/>
<path d="M295.4,532.1L296.1,530.4L296.9,529.1L297.6,528L298.3,527.1L299,526.3L299.7,526L300.4,525.5L301.1,525L301.8,524.8L302.6,524.7L303.3,524.3L303.7,524.3L305.4,523.8L307.1,523.9L308.8,523.7L310.5,523.4L312.2,523.2L314,523.6L315.7,523.3L317.4,523.5L319.1,523.5L320.8,523.5L322.5,523.4L324.2,523.2L325.9,523.2L327.6,523.3L329.4,523.3L331.1,523.2L332.8,523.2L334.5,523.1L336.2,523.3L337.9,523.2L339.6,523.2L341.3,523.2L343,523.1L344.7,523.1L346.4,522.9L348.2,523.1L349.9,522.9L351.6,523.1L353.3,523.1L355,523L356.7,523L358.4,523L360.1,522.8L361.8,522.9L363.5,522.9L365.3,523L367,523L368.7,522.8L370.4,522.9L372.1,523.1L373.8,523L375.5,523L377.2,522.8L378.9,522.9L380.6,522.6L382.4,522.8L384.1,522.8L385.8,522.9L387.5,522.7L389.2,522.9L390.9,522.9L392.6,522.7L394.3,522.8L396,522.6L397.7,522.8L399.5,523.1L401.2,522.7L402.9,523L404.6,522.6L406.3,522.5L407.3,522.8" fill="none" stroke="#a9cdea" stroke-width="1.15" stroke-linejoin="round" stroke-linecap="round" stroke-linecap="butt"/>
<path d="M295.4,531.8L296.1,529.8L296.9,528.2L297.6,526.9L298.3,526L299,525.1L299.7,524.2L300.4,523.9L301.1,523.4L301.8,523.1L302.6,522.8L303.3,522.6L303.7,522.7L305.4,522.3L307.1,522.2L308.8,522.1L310.5,521.7L312.2,521.9L314,521.8L315.7,521.8L317.4,521.8L319.1,521.6L320.8,521.7L322.5,521.7L324.2,521.6L325.9,521.6L327.6,521.5L329.4,521.6L331.1,521.8L332.8,521.5L334.5,521.5L336.2,521.4L337.9,521.6L339.6,521.1L341.3,521.6L343,521.3L344.7,521.4L346.4,521.5L348.2,521.3L349.9,521.4L351.6,521.7L353.3,521.5L355,521.3L356.7,521L358.4,521.5L360.1,521.3L361.8,521.1L363.5,521.2L365.3,521.3L367,521.4L368.7,521.5L370.4,521.3L372.1,521.2L373.8,521.5L375.5,521.4L377.2,521.1L378.9,521.2L380.6,521.2L382.4,521.2L384.1,521.2L385.8,521L387.5,520.9L389.2,520.8L390.9,521L392.6,521L394.3,520.9L396,520.8L397.7,520.8L399.5,520.9L401.2,521.1L402.9,521.2L404.6,520.9L406.3,521L407.3,521" fill="none" stroke="#9dc6e7" stroke-width="1.17" stroke-linejoin="round" stroke-linecap="round" stroke-linecap="butt"/>
<path d="M295.4,531.4L296.1,529L296.9,527.1L297.6,525.7L298.3,524.7L299,523.6L299.7,522.8L300.4,522.2L301.1,521.6L301.8,521.5L302.6,521.4L303.3,521L303.7,521L305.4,520.5L307.1,520.3L308.8,520.2L310.5,520.2L312.2,520L314,520.1L315.7,519.9L317.4,520L319.1,520.1L320.8,519.9L322.5,520L324.2,519.7L325.9,519.8L327.6,519.8L329.4,519.8L331.1,519.8L332.8,520.1L334.5,519.6L336.2,519.8L337.9,519.6L339.6,519.8L341.3,519.7L343,519.7L344.7,519.8L346.4,519.6L348.2,519.5L349.9,519.6L351.6,519.7L353.3,519.6L355,519.5L356.7,519.4L358.4,519.4L360.1,519.4L361.8,519.6L363.5,519.3L365.3,519.4L367,519.4L368.7,519.3L370.4,519.3L372.1,519.3L373.8,519.5L375.5,519.4L377.2,519.6L378.9,519.3L380.6,519.3L382.4,519.2L384.1,519.3L385.8,519.3L387.5,519L389.2,519.4L390.9,519.4L392.6,519.3L394.3,519.1L396,519.2L397.7,519.2L399.5,519.3L401.2,519L402.9,519.2L404.6,519.3L406.3,519.2L407.3,519.2" fill="none" stroke="#91bfe3" stroke-width="1.2" stroke-linejoin="round" stroke-linecap="round" stroke-linecap="butt"/>
<path d="M295.4,530.9L296.1,528.1L296.9,525.9L297.6,524.2L298.3,522.9L299,521.9L299.7,520.9L300.4,520.3L301.1,520L301.8,519.7L302.6,519.3L303.3,518.9L303.7,518.9L305.4,518.6L307.1,518.6L308.8,518.1L310.5,518.3L312.2,518.3L314,518.1L315.7,518L317.4,518L319.1,518L320.8,517.9L322.5,518L324.2,518.1L325.9,517.9L327.6,517.9L329.4,517.7L331.1,517.8L332.8,517.6L334.5,517.6L336.2,517.6L337.9,517.5L339.6,517.5L341.3,517.6L343,517.4L344.7,517.7L346.4,517.6L348.2,517.4L349.9,517.5L351.6,517.4L353.3,517.6L355,517.5L356.7,517.4L358.4,517.3L360.1,517.2L361.8,517.4L363.5,517.3L365.3,517.3L367,517.3L368.7,517.5L370.4,517.4L372.1,517.1L373.8,517.4L375.5,517.2L377.2,517.3L378.9,517.1L380.6,517.3L382.4,517.2L384.1,517.4L385.8,517.2L387.5,517L389.2,517.3L390.9,517L392.6,517.2L394.3,517.1L396,517.5L397.7,516.9L399.5,517.2L401.2,517.1L402.9,517.2L404.6,517.1L406.3,516.8L407.3,517.1" fill="none" stroke="#85b8e0" stroke-width="1.23" stroke-linejoin="round" stroke-linecap="round" stroke-linecap="butt"/>
<path d="M295.4,530.4L296.1,527.1L296.9,524.5L297.6,522.6L298.3,521L299,519.6L299.7,519L300.4,518.3L301.1,517.9L301.8,517.3L302.6,516.9L303.3,517.1L303.7,517L305.4,516.1L307.1,516.2L308.8,516.1L310.5,516L312.2,515.8L314,515.8L315.7,515.9L317.4,515.6L319.1,515.8L320.8,515.9L322.5,515.8L324.2,515.8L325.9,515.8L327.6,515.7L329.4,515.6L331.1,516.1L332.8,515.7L334.5,515.4L336.2,515.5L337.9,515.6L339.6,515.6L341.3,515.3L343,515.5L344.7,515.5L346.4,515.1L348.2,515.4L349.9,515.3L351.6,515.3L353.3,515.3L355,515.4L356.7,515.4L358.4,515.1L360.1,515.4L361.8,515.2L363.5,515.3L365.3,515.2L367,515.1L368.7,515.3L370.4,514.9L372.1,515.1L373.8,514.9L375.5,515.2L377.2,514.9L378.9,514.7L380.6,515L382.4,515.1L384.1,514.9L385.8,514.9L387.5,515L389.2,514.9L390.9,515L392.6,514.8L394.3,514.9L396,515L397.7,514.7L399.5,514.9L401.2,514.4L402.9,514.8L404.6,514.9L406.3,514.9L407.3,514.7" fill="none" stroke="#7ab1dc" stroke-width="1.25" stroke-linejoin="round" stroke-linecap="round" stroke-linecap="butt"/>
<path d="M295.4,529.7L296.1,525.8L296.9,522.9L297.6,520.6L298.3,518.7L299,517.7L299.7,516.9L300.4,515.8L301.1,515.5L301.8,515.2L302.6,514.7L303.3,514.3L303.7,514.2L305.4,513.9L307.1,513.5L308.8,513.6L310.5,513.5L312.2,513.6L314,513.7L315.7,513.5L317.4,513.2L319.1,513.6L320.8,513.1L322.5,513.3L324.2,513.4L325.9,513.2L327.6,512.9L329.4,513.3L331.1,513L332.8,512.9L334.5,513.2L336.2,513L337.9,512.9L339.6,513.1L341.3,512.9L343,513L344.7,513L346.4,513.1L348.2,512.8L349.9,512.9L351.6,512.9L353.3,512.9L355,512.9L356.7,512.8L358.4,512.6L360.1,512.8L361.8,512.5L363.5,512.6L365.3,512.6L367,512.8L368.7,512.3L370.4,512.8L372.1,512.5L373.8,512.3L375.5,512.5L377.2,512.6L378.9,512.5L380.6,512.3L382.4,512.2L384.1,512.3L385.8,512.5L387.5,512.5L389.2,512.3L390.9,512.5L392.6,512.3L394.3,512L396,512.4L397.7,512.1L399.5,512.4L401.2,512.3L402.9,512.2L404.6,512.4L406.3,512.2L407.3,512" fill="none" stroke="#6eaad9" stroke-width="1.29" stroke-linejoin="round" stroke-linecap="round" stroke-linecap="butt"/>
<path d="M295.4,528.9L296.1,524.4L296.9,521L297.6,518.5L298.3,516.6L299,515.1L299.7,514L300.4,513.5L301.1,512.6L301.8,512.4L302.6,512.1L303.3,512L303.7,511.7L305.4,511.4L307.1,511.4L308.8,511.1L310.5,511L312.2,511L314,510.8L315.7,511L317.4,510.7L319.1,510.8L320.8,510.7L322.5,510.9L324.2,510.6L325.9,510.6L327.6,510.4L329.4,510.7L331.1,510.3L332.8,510.6L334.5,510.2L336.2,510.3L337.9,510.5L339.6,510L341.3,510.5L343,510.3L344.7,510.2L346.4,510.1L348.2,510.1L349.9,510L351.6,510L353.3,510.1L355,510.2L356.7,510.1L358.4,509.9L360.1,510.1L361.8,509.9L363.5,510.2L365.3,510L367,510.1L368.7,509.7L370.4,510.1L372.1,509.8L373.8,509.7L375.5,509.7L377.2,509.6L378.9,509.5L380.6,509.6L382.4,509.5L384.1,509.6L385.8,509.6L387.5,509.9L389.2,509.6L390.9,509.4L392.6,509.6L394.3,509.7L396,509.5L397.7,509.3L399.5,509.3L401.2,509.7L402.9,509.4L404.6,509.5L406.3,509.4L407.3,509.7" fill="none" stroke="#62a3d5" stroke-width="1.33" stroke-linejoin="round" stroke-linecap="round" stroke-linecap="butt"/>
<path d="M295.4,528L296.1,522.6L296.9,518.7L297.6,515.9L298.3,514L299,512.2L299.7,511.3L300.4,510.5L301.1,509.7L301.8,509.4L302.6,509.1L303.3,508.7L303.7,508.8L305.4,508.4L307.1,508.1L308.8,508L310.5,507.8L312.2,507.7L314,507.9L315.7,508L317.4,507.6L319.1,507.6L320.8,507.8L322.5,507.6L324.2,507.7L325.9,507.8L327.6,507.4L329.4,507.5L331.1,507.5L332.8,507.2L334.5,507.2L336.2,507.5L337.9,507.5L339.6,507.6L341.3,507.2L343,507.3L344.7,507.1L346.4,507.1L348.2,507.2L349.9,507.1L351.6,507.3L353.3,506.8L355,507.1L356.7,506.9L358.4,507L360.1,506.9L361.8,506.8L363.5,506.9L365.3,506.9L367,506.4L368.7,506.8L370.4,506.6L372.1,506.7L373.8,506.8L375.5,506.4L377.2,506.6L378.9,506.5L380.6,506.9L382.4,506.5L384.1,506.4L385.8,506.4L387.5,506.5L389.2,506.3L390.9,506.4L392.6,506.3L394.3,506.2L396,506.2L397.7,506.5L399.5,506.3L401.2,506.4L402.9,506.6L404.6,506.2L406.3,506.5L407.3,506.3" fill="none" stroke="#569cd2" stroke-width="1.37" stroke-linejoin="round" stroke-linecap="round" stroke-linecap="butt"/>
<path d="M295.4,526.8L296.1,520.4L296.9,515.8L297.6,512.6L298.3,510.4L299,508.8L299.7,507.7L300.4,506.4L301.1,506.2L301.8,505.7L302.6,505L303.3,505.4L303.7,505.3L305.4,504.9L307.1,504.6L308.8,504.6L310.5,504.4L312.2,504.3L314,504.5L315.7,504.2L317.4,504.4L319.1,504L320.8,504L322.5,503.6L324.2,503.8L325.9,503.9L327.6,503.8L329.4,503.8L331.1,503.9L332.8,503.9L334.5,503.5L336.2,503.4L337.9,503.6L339.6,503.6L341.3,503.6L343,503.3L344.7,503.2L346.4,503.5L348.2,503.4L349.9,503.4L351.6,503.2L353.3,503.1L355,503L356.7,503.2L358.4,503.3L360.1,503L361.8,503L363.5,503.1L365.3,503L367,502.9L368.7,502.8L370.4,502.9L372.1,502.8L373.8,502.8L375.5,502.9L377.2,502.7L378.9,502.7L380.6,502.5L382.4,502.9L384.1,502.8L385.8,502.6L387.5,502.9L389.2,502.6L390.9,502.6L392.6,502.6L394.3,502.5L396,502.8L397.7,502.4L399.5,502.4L401.2,502.2L402.9,502.2L404.6,502.3L406.3,502.2L407.3,502.7" fill="none" stroke="#4a95cf" stroke-width="1.42" stroke-linejoin="round" stroke-linecap="round" stroke-linecap="butt"/>
<path d="M295.4,525.2L296.1,517.5L296.9,512.2L297.6,508.6L298.3,506.1L299,504.3L299.7,503L300.4,502.1L301.1,501.5L301.8,501.2L302.6,501.1L303.3,500.3L303.7,500.7L305.4,500.7L307.1,499.9L308.8,499.8L310.5,499.9L312.2,499.7L314,499.7L315.7,499.9L317.4,499.7L319.1,499.8L320.8,499.7L322.5,499.6L324.2,499.4L325.9,499.2L327.6,499.4L329.4,499.2L331.1,499.6L332.8,499.4L334.5,499L336.2,498.9L337.9,498.9L339.6,498.8L341.3,499.2L343,499L344.7,499.3L346.4,498.8L348.2,498.7L349.9,498.8L351.6,498.8L353.3,498.5L355,498.5L356.7,498.5L358.4,498.6L360.1,498.5L361.8,498.4L363.5,498.3L365.3,498.2L367,498.3L368.7,498.5L370.4,498.3L372.1,498.1L373.8,498.2L375.5,498.1L377.2,498.2L378.9,497.8L380.6,498L382.4,498L384.1,497.8L385.8,497.8L387.5,497.9L389.2,497.7L390.9,497.7L392.6,497.8L394.3,497.8L396,498L397.7,497.7L399.5,497.7L401.2,497.8L402.9,497.4L404.6,497.6L406.3,497.8L407.3,497.7" fill="none" stroke="#3e8dcb" stroke-width="1.49" stroke-linejoin="round" stroke-linecap="round" stroke-linecap="butt"/>
<path d="M295.4,523.2L296.1,514L296.9,507.9L297.6,503.8L298.3,501.2L299,499.2L299.7,497.8L300.4,497.1L301.1,496.3L301.8,495.9L302.6,495.8L303.3,496L303.7,495.3L305.4,495L307.1,495.4L308.8,494.9L310.5,494.8L312.2,495.1L314,494.8L315.7,494.5L317.4,494.6L319.1,494.5L320.8,494.3L322.5,494.5L324.2,494.6L325.9,494L327.6,494.3L329.4,494.1L331.1,493.9L332.8,494L334.5,493.9L336.2,494L337.9,493.8L339.6,493.4L341.3,493.8L343,493.9L344.7,493.6L346.4,493.7L348.2,493.5L349.9,493.5L351.6,493.3L353.3,493.3L355,493.3L356.7,493.1L358.4,493.4L360.1,493.2L361.8,493.1L363.5,493.3L365.3,493.2L367,493.1L368.7,493.1L370.4,492.7L372.1,492.9L373.8,492.3L375.5,492.9L377.2,492.8L378.9,492.4L380.6,492.8L382.4,492.3L384.1,493.2L385.8,492.7L387.5,492.3L389.2,492.3L390.9,492.4L392.6,492.6L394.3,492.5L396,492.3L397.7,492.3L399.5,492.2L401.2,492.4L402.9,492.1L404.6,492L406.3,491.7L407.3,492.1" fill="none" stroke="#3a8bca" stroke-width="1.56" stroke-linejoin="round" stroke-linecap="round" stroke-linecap="butt"/>
<path d="M295.4,520.9L296.1,510L296.9,503L297.6,498.5L298.3,495.5L299,493.3L299.7,492.4L300.4,492L301.1,491L301.8,490.7L302.6,490.5L303.3,489.9L303.7,489.9L305.4,489.6L307.1,489.9L308.8,489.6L310.5,489.7L312.2,489.2L314,489.5L315.7,489L317.4,489.1L319.1,489L320.8,489.2L322.5,488.7L324.2,489.1L325.9,488.9L327.6,488.7L329.4,488.1L331.1,488.4L332.8,488.4L334.5,488.1L336.2,487.7L337.9,488.1L339.6,488.2L341.3,488.1L343,487.8L344.7,487.4L346.4,487.7L348.2,487.6L349.9,487.7L351.6,487.7L353.3,487.2L355,487.2L356.7,487.2L358.4,487.4L360.1,487L361.8,487L363.5,486.7L365.3,486.7L367,486.9L368.7,486.7L370.4,486.7L372.1,486.7L373.8,486.8L375.5,486.4L377.2,486.1L378.9,486.5L380.6,486.1L382.4,486.4L384.1,486.4L385.8,486.3L387.5,486.3L389.2,486L390.9,485.9L392.6,486.6L394.3,485.9L396,485.9L397.7,485.6L399.5,486.1L401.2,485.8L402.9,485.6L404.6,485.6L406.3,485.5L407.3,485.9" fill="none" stroke="#3a8bca" stroke-width="1.65" stroke-linejoin="round" stroke-linecap="round" stroke-linecap="butt"/>
<path d="M295.4,518L296.1,505.3L296.9,497.5L297.6,492.6L298.3,489.4L299,487.6L299.7,486.8L300.4,485.9L301.1,485.3L301.8,484.9L302.6,484.7L303.3,484.6L303.7,484.8L305.4,484.6L307.1,484.3L308.8,484.1L310.5,483.9L312.2,483.8L314,483.5L315.7,483.5L317.4,483.2L319.1,483.1L320.8,482.8L322.5,483L324.2,482.9L325.9,482.8L327.6,482.4L329.4,482.2L331.1,482L332.8,482.1L334.5,482L336.2,481.7L337.9,481.8L339.6,481.9L341.3,481.4L343,481.5L344.7,481.6L346.4,481.3L348.2,481.3L349.9,481.1L351.6,481.1L353.3,480.9L355,480.9L356.7,480.7L358.4,480.5L360.1,480.4L361.8,480.4L363.5,480.1L365.3,480.5L367,480.1L368.7,479.8L370.4,479.9L372.1,479.7L373.8,480L375.5,479.5L377.2,479.8L378.9,479.4L380.6,479.5L382.4,479.3L384.1,479.6L385.8,479.4L387.5,479.6L389.2,479.1L390.9,479L392.6,479L394.3,478.8L396,478.8L397.7,478.9L399.5,478.7L401.2,478.9L402.9,478.5L404.6,478.6L406.3,478.5L407.3,478.6" fill="none" stroke="#3a8bca" stroke-width="1.74" stroke-linejoin="round" stroke-linecap="round" stroke-linecap="butt"/>
<path d="M295.4,514.8L296.1,500.1L296.9,491.6L297.6,486.6L298.3,484L299,481.8L299.7,480L300.4,480.1L301.1,479.7L301.8,479.3L302.6,479.2L303.3,479L303.7,478.9L305.4,478.9L307.1,478.3L308.8,478.3L310.5,477.9L312.2,477.9L314,477.5L315.7,477.6L317.4,476.8L319.1,477L320.8,476.8L322.5,476.9L324.2,477L325.9,476.6L327.6,476.3L329.4,476.2L331.1,476.2L332.8,476.1L334.5,476L336.2,475.7L337.9,475.4L339.6,475.2L341.3,475.1L343,475.1L344.7,474.9L346.4,474.8L348.2,474.6L349.9,474.5L351.6,474.3L353.3,474.3L355,474.2L356.7,473.8L358.4,473.7L360.1,474.3L361.8,473.7L363.5,473.5L365.3,473.3L367,473.8L368.7,473.6L370.4,473.3L372.1,473.1L373.8,473.2L375.5,472.7L377.2,472.6L378.9,472.6L380.6,472.4L382.4,472.8L384.1,472.5L385.8,472.8L387.5,472.1L389.2,471.9L390.9,472L392.6,472.2L394.3,471.9L396,471.6L397.7,472L399.5,471.6L401.2,471.5L402.9,471.7L404.6,471.6L406.3,471.1L407.3,471.2" fill="none" stroke="#3a8bca" stroke-width="1.75" stroke-linejoin="round" stroke-linecap="round" stroke-linecap="butt"/>
<path d="M295.4,510.6L296.1,493.8L296.9,484.7L297.6,479.7L298.3,477L299,475.4L299.7,474.3L300.4,473.5L301.1,473.5L301.8,472.9L302.6,473.4L303.3,473L303.7,472.9L305.4,473.1L307.1,472.7L308.8,472.2L310.5,471.8L312.2,471.5L314,471.4L315.7,471.2L317.4,471.2L319.1,470.7L320.8,470.1L322.5,470.1L324.2,470.2L325.9,469.8L327.6,469.5L329.4,469.1L331.1,469.3L332.8,468.9L334.5,468.7L336.2,468.7L337.9,468.5L339.6,468.4L341.3,468.1L343,467.9L344.7,468L346.4,467.6L348.2,467.1L349.9,467.2L351.6,467.5L353.3,466.6L355,466.8L356.7,466.6L358.4,466.3L360.1,466.4L361.8,466.4L363.5,466.2L365.3,465.8L367,465.7L368.7,465.7L370.4,465L372.1,465.3L373.8,465L375.5,464.6L377.2,464.9L378.9,464.9L380.6,464.8L382.4,464.6L384.1,464.1L385.8,464.1L387.5,464.3L389.2,464.2L390.9,463.9L392.6,463.5L394.3,463.9L396,463.4L397.7,463.5L399.5,463.5L401.2,463.4L402.9,463.4L404.6,463.3L406.3,462.8L407.3,463.4" fill="none" stroke="#3a8bca" stroke-width="1.75" stroke-linejoin="round" stroke-linecap="round" stroke-linecap="butt"/>
<path d="M295.4,505.4L296.1,486.4L296.9,476.9L297.6,472.1L298.3,470L299,468.2L299.7,467.5L300.4,467.6L301.1,466.6L301.8,467L302.6,467L303.3,466.8L303.7,466.2L305.4,466.6L307.1,465.7L308.8,465.3L310.5,464.8L312.2,464.8L314,464.2L315.7,464.3L317.4,463.7L319.1,463.8L320.8,463.3L322.5,463.1L324.2,462.7L325.9,462L327.6,462.3L329.4,462L331.1,461.7L332.8,461.4L334.5,461.8L336.2,460.8L337.9,461.1L339.6,461L341.3,460.3L343,460.4L344.7,459.8L346.4,459.4L348.2,459.5L349.9,459.5L351.6,459L353.3,458.4L355,458.6L356.7,458L358.4,457.9L360.1,458.3L361.8,457.7L363.5,458L365.3,457.4L367,457.2L368.7,457.2L370.4,457.4L372.1,456.9L373.8,456.8L375.5,456.4L377.2,456.4L378.9,456.1L380.6,456.1L382.4,456.3L384.1,455.8L385.8,455.3L387.5,455.7L389.2,455.6L390.9,455.6L392.6,454.6L394.3,455.2L396,454.5L397.7,454.6L399.5,454.6L401.2,454.4L402.9,453.9L404.6,453.8L406.3,453.9L407.3,454.1" fill="none" stroke="#3a8bca" stroke-width="1.75" stroke-linejoin="round" stroke-linecap="round" stroke-linecap="butt"/>
<path d="M295.4,499L296.1,478.1L296.9,468.9L297.6,464.7L298.3,462.9L299,461.6L299.7,461.4L300.4,461L301.1,461L301.8,460.5L302.6,460.2L303.3,460.5L303.7,460L305.4,459.6L307.1,458.9L308.8,458.6L310.5,458.6L312.2,457.8L314,457.6L315.7,457.4L317.4,457.2L319.1,456.5L320.8,456.1L322.5,456.1L324.2,455.6L325.9,455.4L327.6,455.2L329.4,454.9L331.1,454.2L332.8,454L334.5,453.7L336.2,453.4L337.9,453.2L339.6,452.7L341.3,453L343,452.2L344.7,452.4L346.4,451.9L348.2,451.5L349.9,451.3L351.6,450.9L353.3,451L355,450.1L356.7,450L358.4,450L360.1,449.7L361.8,449.7L363.5,449.8L365.3,449.5L367,448.8L368.7,449.4L370.4,448.2L372.1,448.2L373.8,448.4L375.5,448.1L377.2,448.1L378.9,447.6L380.6,447.3L382.4,446.9L384.1,447.3L385.8,446.5L387.5,446.6L389.2,446.5L390.9,446.3L392.6,446L394.3,445.5L396,445.4L397.7,445.4L399.5,445.6L401.2,445.4L402.9,444.9L404.6,444.9L406.3,445.1L407.3,444.3" fill="none" stroke="#3a8bca" stroke-width="1.75" stroke-linejoin="round" stroke-linecap="round" stroke-linecap="butt"/>
<path d="M295,533.7L295,506.7L295.4,488.7L296.1,465.5L296.9,456.9L297.6,453.5L298.3,452.4L299,451.8L299.7,451L300.4,450.9L301.1,450.3L301.8,449.6L302.6,450L303.3,449.9L303.7,449.7L305.4,449.2L307.1,448.4L308.8,448.2L310.5,447.6L312.2,447.6L314,447.1L315.7,446.4L317.4,445.7L319.1,445.7L320.8,444.7L322.5,444.8L324.2,444.1L325.9,443.8L327.6,442.9L329.4,443.2L331.1,442.8L332.8,442.2L334.5,441.6L336.2,441.2L337.9,441.3L339.6,440.9L341.3,440.6L343,439.5L344.7,439.5L346.4,439.1L348.2,439.5L349.9,438.5L351.6,438.3L353.3,437.7L355,438.1L356.7,437L358.4,436.9L360.1,436.6L361.8,436.8L363.5,435.6L365.3,435.8L367,435.5L368.7,435.3L370.4,435.1L372.1,434.7L373.8,434.5L375.5,434L377.2,433.9L378.9,434L380.6,433.5L382.4,433L384.1,433.2L385.8,432.9L387.5,432.3L389.2,432.3L390.9,432.3L392.6,431.8L394.3,431.5L396,431.4L397.7,431.3L399.5,430.6L401.2,431.3L402.9,430.7L404.6,430.4L406.3,430.6L407.3,430.5L407.4,430.5L407.4,533.7" fill="none" stroke="#3a8bca" stroke-width="1.75" stroke-linejoin="round" stroke-linecap="round" stroke-linecap="butt"/>
<path d="M263.8,532.6L265.2,532.4L266.7,532.5L268.1,532.3L269.5,532.1L270.9,532.6L272.4,532.4L273.8,532.3L275.2,533L276.6,532.5L278.1,532.9L279.5,532.7L280.9,532.7L282.3,532.2L283.8,532.7L285.2,532.7L286.6,532.3L288,532.5L289.4,532.9L290.9,532.2L292.3,532.2L293.7,532.6" fill="none" stroke="#2f82c6" stroke-width="2.2" stroke-linejoin="round" stroke-linecap="round" stroke-linecap="butt"/>
<path d="M408.6,533L410,532.7L411.4,532.8L412.9,532.1L414.3,532.7L415.7,532.3L417.1,532.2L418.6,532.4L420,532.4L421.4,532.1L422.8,532.3L424.3,532.9L425.7,532.2L427.1,533.1L428.5,532.7L430,532.3L431.4,533L432.8,532.2L434.2,531.9" fill="none" stroke="#2f82c6" stroke-width="2.2" stroke-linejoin="round" stroke-linecap="round" stroke-linecap="butt"/>
</g>
<line x1="264.1" y1="397.5" x2="435" y2="397.5" stroke="#333" stroke-width="1"/>
<line x1="435" y1="397.5" x2="435" y2="534.4" stroke="#9a9a9a" stroke-width="2"/>
<line x1="264.1" y1="397" x2="264.1" y2="534.95" stroke="#8a8a8a" stroke-width="1.6"/>
<line x1="263.3" y1="534.4" x2="436" y2="534.4" stroke="#222" stroke-width="1.1"/>
<line x1="264.1" y1="533.7" x2="261.2" y2="533.7" stroke="#666" stroke-width="0.9"/>
<text x="260.4" y="536.6" font-size="7.9" text-anchor="end" fill="#1a1a1a" stroke="#1a1a1a" stroke-width="0.15">0.0</text>
<line x1="264.1" y1="515.14" x2="261.2" y2="515.14" stroke="#666" stroke-width="0.9"/>
<text x="260.4" y="518.04" font-size="7.9" text-anchor="end" fill="#1a1a1a" stroke="#1a1a1a" stroke-width="0.15">0.2</text>
<line x1="264.1" y1="496.58" x2="261.2" y2="496.58" stroke="#666" stroke-width="0.9"/>
<text x="260.4" y="499.48" font-size="7.9" text-anchor="end" fill="#1a1a1a" stroke="#1a1a1a" stroke-width="0.15">0.4</text>
<line x1="264.1" y1="478.02" x2="261.2" y2="478.02" stroke="#666" stroke-width="0.9"/>
<text x="260.4" y="480.92" font-size="7.9" text-anchor="end" fill="#1a1a1a" stroke="#1a1a1a" stroke-width="0.15">0.6</text>
<line x1="264.1" y1="459.46" x2="261.2" y2="459.46" stroke="#666" stroke-width="0.9"/>
<text x="260.4" y="462.36" font-size="7.9" text-anchor="end" fill="#1a1a1a" stroke="#1a1a1a" stroke-width="0.15">0.8</text>
<line x1="264.1" y1="440.9" x2="261.2" y2="440.9" stroke="#666" stroke-width="0.9"/>
<text x="260.4" y="443.8" font-size="7.9" text-anchor="end" fill="#1a1a1a" stroke="#1a1a1a" stroke-width="0.15">1.0</text>
<line x1="264.1" y1="422.34" x2="261.2" y2="422.34" stroke="#666" stroke-width="0.9"/>
<text x="260.4" y="425.24" font-size="7.9" text-anchor="end" fill="#1a1a1a" stroke="#1a1a1a" stroke-width="0.15">1.2</text>
<line x1="264.1" y1="403.78" x2="261.2" y2="403.78" stroke="#666" stroke-width="0.9"/>
<text x="260.4" y="406.68" font-size="7.9" text-anchor="end" fill="#1a1a1a" stroke="#1a1a1a" stroke-width="0.15">1.4</text>
<line x1="264.1" y1="524.42" x2="262.3" y2="524.42" stroke="#666" stroke-width="0.8"/>
<line x1="264.1" y1="505.86" x2="262.3" y2="505.86" stroke="#666" stroke-width="0.8"/>
<line x1="264.1" y1="487.3" x2="262.3" y2="487.3" stroke="#666" stroke-width="0.8"/>
<line x1="264.1" y1="468.74" x2="262.3" y2="468.74" stroke="#666" stroke-width="0.8"/>
<line x1="264.1" y1="450.18" x2="262.3" y2="450.18" stroke="#666" stroke-width="0.8"/>
<line x1="264.1" y1="431.62" x2="262.3" y2="431.62" stroke="#666" stroke-width="0.8"/>
<line x1="264.1" y1="413.06" x2="262.3" y2="413.06" stroke="#666" stroke-width="0.8"/>
<line x1="292.3" y1="534.4" x2="292.3" y2="537.2" stroke="#222" stroke-width="0.9"/>
<text x="291.8" y="545.9" font-size="7.5" text-anchor="middle" fill="#1a1a1a" stroke="#1a1a1a" stroke-width="0.15">0</text>
<line x1="349.3" y1="534.4" x2="349.3" y2="537.2" stroke="#222" stroke-width="0.9"/>
<text x="348.8" y="545.9" font-size="7.5" text-anchor="middle" fill="#1a1a1a" stroke="#1a1a1a" stroke-width="0.15">20</text>
<line x1="406.3" y1="534.4" x2="406.3" y2="537.2" stroke="#222" stroke-width="0.9"/>
<text x="405.8" y="545.9" font-size="7.5" text-anchor="middle" fill="#1a1a1a" stroke="#1a1a1a" stroke-width="0.15">40</text>
<line x1="263.8" y1="534.4" x2="263.8" y2="536.2" stroke="#222" stroke-width="0.8"/>
<line x1="320.8" y1="534.4" x2="320.8" y2="536.2" stroke="#222" stroke-width="0.8"/>
<line x1="377.8" y1="534.4" x2="377.8" y2="536.2" stroke="#222" stroke-width="0.8"/>
<line x1="434.8" y1="534.4" x2="434.8" y2="536.2" stroke="#222" stroke-width="0.8"/>
<text x="349.5" y="554.8" font-size="9.5" text-anchor="middle" fill="#1a1a1a" stroke="#1a1a1a" stroke-width="0.15">Time (μs)</text>
<text x="240.9" y="460.2" font-size="9.3" text-anchor="middle" fill="#1a1a1a" stroke="#1a1a1a" stroke-width="0.15" transform="rotate(-90 240.9 460.2)" textLength="103.5" lengthAdjust="spacingAndGlyphs">EL Instensity (arb. units)</text>
<text x="278.9" y="413.6" font-size="7.4" fill="#333" stroke="#333" stroke-width="0.15">Spherulite</text>
<text x="323" y="413.6" font-size="7.4" fill="#1a1a1a" stroke="#1a1a1a" stroke-width="0.15">0.4</text>
<rect x="337.4" y="408" width="50.4" height="5.8" fill="url(#hgrad)" stroke="none" stroke-width="0.8"/>
<text x="391" y="414.6" font-size="7.6" fill="#1a1a1a" stroke="#1a1a1a" stroke-width="0.15">25 mA cm<tspan font-size="64%" dy="-0.58em">-2</tspan></text>
</g>
<g id="pi">
<text x="457.3" y="397.5" font-size="13.3" fill="#000" font-weight="bold">i</text>
<rect x="518.4" y="489.4" width="34.4" height="15.1" fill="#2d9a9a" stroke="#1c2c2c" stroke-width="0.9"/>
<line x1="535.5" y1="466.2" x2="535.5" y2="489.3" stroke="#111" stroke-width="0.9"/>
<line x1="535.5" y1="504.6" x2="535.5" y2="514.5" stroke="#111" stroke-width="0.9"/>
<line x1="526.9" y1="466.2" x2="544.7" y2="466.2" stroke="#111" stroke-width="0.9"/>
<line x1="526.9" y1="514.5" x2="544.7" y2="514.5" stroke="#111" stroke-width="0.9"/>
<line x1="518.3" y1="499.4" x2="552.9" y2="499.4" stroke="#123" stroke-width="1.1"/>
<circle cx="535.86" cy="461.49" r="1" fill="#000" stroke="none" stroke-width="0"/>
<circle cx="532.99" cy="465.62" r="1" fill="#000" stroke="none" stroke-width="0"/>
<circle cx="538.02" cy="466.34" r="1" fill="#000" stroke="none" stroke-width="0"/>
<circle cx="532.99" cy="482.15" r="1" fill="#000" stroke="none" stroke-width="0"/>
<circle cx="528.14" cy="485.2" r="1" fill="#000" stroke="none" stroke-width="0"/>
<circle cx="538.02" cy="487.9" r="1" fill="#000" stroke="none" stroke-width="0"/>
<circle cx="543.05" cy="490.23" r="1" fill="#000" stroke="none" stroke-width="0"/>
<circle cx="525.8" cy="492.93" r="1" fill="#000" stroke="none" stroke-width="0"/>
<circle cx="530.83" cy="492.93" r="1" fill="#000" stroke="none" stroke-width="0"/>
<circle cx="535.86" cy="496.16" r="1" fill="#000" stroke="none" stroke-width="0"/>
<circle cx="545.56" cy="496.16" r="1" fill="#000" stroke="none" stroke-width="0"/>
<circle cx="520.95" cy="500.11" r="1" fill="#000" stroke="none" stroke-width="0"/>
<circle cx="540.71" cy="498.67" r="1" fill="#000" stroke="none" stroke-width="0"/>
<circle cx="540.71" cy="501.01" r="1" fill="#000" stroke="none" stroke-width="0"/>
<circle cx="545.56" cy="501.91" r="1" fill="#000" stroke="none" stroke-width="0"/>
<circle cx="525.8" cy="504.06" r="1" fill="#000" stroke="none" stroke-width="0"/>
<circle cx="530.83" cy="503.7" r="1" fill="#000" stroke="none" stroke-width="0"/>
<circle cx="535.86" cy="504.06" r="1" fill="#000" stroke="none" stroke-width="0"/>
<circle cx="550.59" cy="504.6" r="1" fill="#000" stroke="none" stroke-width="0"/>
<circle cx="525.8" cy="511.79" r="1" fill="#000" stroke="none" stroke-width="0"/>
<circle cx="540.71" cy="511.43" r="1" fill="#000" stroke="none" stroke-width="0"/>
<circle cx="545.56" cy="511.79" r="1" fill="#000" stroke="none" stroke-width="0"/>
<circle cx="530.83" cy="514.12" r="1" fill="#000" stroke="none" stroke-width="0"/>
<rect x="617.1" y="471.9" width="34.8" height="35.8" fill="#6463e6" stroke="#33335a" stroke-width="0.9"/>
<line x1="634.3" y1="437.2" x2="634.3" y2="471.9" stroke="#111" stroke-width="0.9"/>
<line x1="634.3" y1="507.7" x2="634.3" y2="518.4" stroke="#111" stroke-width="0.9"/>
<line x1="625.2" y1="437.2" x2="643.5" y2="437.2" stroke="#111" stroke-width="0.9"/>
<line x1="625.2" y1="518.4" x2="643.5" y2="518.4" stroke="#111" stroke-width="0.9"/>
<line x1="617.1" y1="490.2" x2="651.9" y2="490.2" stroke="#112" stroke-width="1.1"/>
<circle cx="630.56" cy="453.71" r="1" fill="#000" stroke="none" stroke-width="0"/>
<circle cx="637.75" cy="453.71" r="1" fill="#000" stroke="none" stroke-width="0"/>
<circle cx="641.16" cy="464.13" r="1" fill="#000" stroke="none" stroke-width="0"/>
<circle cx="634.16" cy="466.64" r="1" fill="#000" stroke="none" stroke-width="0"/>
<circle cx="627.33" cy="469.34" r="1" fill="#000" stroke="none" stroke-width="0"/>
<circle cx="641.16" cy="464.19" r="1" fill="#000" stroke="none" stroke-width="0"/>
<circle cx="634.16" cy="466.34" r="1" fill="#000" stroke="none" stroke-width="0"/>
<circle cx="627.33" cy="470.47" r="1" fill="#000" stroke="none" stroke-width="0"/>
<circle cx="637.75" cy="473.53" r="1" fill="#000" stroke="none" stroke-width="0"/>
<circle cx="630.74" cy="477.12" r="1" fill="#000" stroke="none" stroke-width="0"/>
<circle cx="647.99" cy="485.74" r="1" fill="#000" stroke="none" stroke-width="0"/>
<circle cx="627.33" cy="486.82" r="1" fill="#000" stroke="none" stroke-width="0"/>
<circle cx="634.16" cy="488.97" r="1" fill="#000" stroke="none" stroke-width="0"/>
<circle cx="620.33" cy="490.05" r="1" fill="#000" stroke="none" stroke-width="0"/>
<circle cx="641.16" cy="490.05" r="1" fill="#000" stroke="none" stroke-width="0"/>
<circle cx="630.74" cy="495.8" r="1" fill="#000" stroke="none" stroke-width="0"/>
<circle cx="637.75" cy="497.6" r="1" fill="#000" stroke="none" stroke-width="0"/>
<circle cx="623.92" cy="502.63" r="1" fill="#000" stroke="none" stroke-width="0"/>
<circle cx="630.74" cy="503.34" r="1" fill="#000" stroke="none" stroke-width="0"/>
<circle cx="644.58" cy="506.4" r="1" fill="#000" stroke="none" stroke-width="0"/>
<circle cx="637.75" cy="508.01" r="1" fill="#000" stroke="none" stroke-width="0"/>
<circle cx="630.74" cy="509.45" r="1" fill="#000" stroke="none" stroke-width="0"/>
<circle cx="623.92" cy="510.71" r="1" fill="#000" stroke="none" stroke-width="0"/>
<circle cx="644.58" cy="514.66" r="1" fill="#000" stroke="none" stroke-width="0"/>
<circle cx="637.75" cy="515.56" r="1" fill="#000" stroke="none" stroke-width="0"/>
<circle cx="634.16" cy="518.43" r="1" fill="#000" stroke="none" stroke-width="0"/>
<line x1="486.5" y1="398.4" x2="683.4" y2="398.4" stroke="#2a2a2a" stroke-width="1.1"/>
<line x1="683.4" y1="398.4" x2="683.4" y2="536.4" stroke="#2a2a2a" stroke-width="1.1"/>
<line x1="486.5" y1="397.85" x2="486.5" y2="536.95" stroke="#222" stroke-width="1.1"/>
<line x1="485.95" y1="536.4" x2="683.95" y2="536.4" stroke="#222" stroke-width="1.1"/>
<line x1="486.5" y1="527.5" x2="483.9" y2="527.5" stroke="#222" stroke-width="0.9"/>
<text x="483.8" y="530.3" font-size="7.9" text-anchor="end" fill="#1a1a1a" stroke="#1a1a1a" stroke-width="0.15">0</text>
<line x1="486.5" y1="509.06" x2="483.9" y2="509.06" stroke="#222" stroke-width="0.9"/>
<text x="483.8" y="511.86" font-size="7.9" text-anchor="end" fill="#1a1a1a" stroke="#1a1a1a" stroke-width="0.15">1000</text>
<line x1="486.5" y1="490.61" x2="483.9" y2="490.61" stroke="#222" stroke-width="0.9"/>
<text x="483.8" y="493.41" font-size="7.9" text-anchor="end" fill="#1a1a1a" stroke="#1a1a1a" stroke-width="0.15">2000</text>
<line x1="486.5" y1="472.17" x2="483.9" y2="472.17" stroke="#222" stroke-width="0.9"/>
<text x="483.8" y="474.97" font-size="7.9" text-anchor="end" fill="#1a1a1a" stroke="#1a1a1a" stroke-width="0.15">3000</text>
<line x1="486.5" y1="453.73" x2="483.9" y2="453.73" stroke="#222" stroke-width="0.9"/>
<text x="483.8" y="456.53" font-size="7.9" text-anchor="end" fill="#1a1a1a" stroke="#1a1a1a" stroke-width="0.15">4000</text>
<line x1="486.5" y1="435.28" x2="483.9" y2="435.28" stroke="#222" stroke-width="0.9"/>
<text x="483.8" y="438.08" font-size="7.9" text-anchor="end" fill="#1a1a1a" stroke="#1a1a1a" stroke-width="0.15">5000</text>
<line x1="486.5" y1="416.84" x2="483.9" y2="416.84" stroke="#222" stroke-width="0.9"/>
<text x="483.8" y="419.64" font-size="7.9" text-anchor="end" fill="#1a1a1a" stroke="#1a1a1a" stroke-width="0.15">6000</text>
<line x1="486.5" y1="398.4" x2="483.9" y2="398.4" stroke="#222" stroke-width="0.9"/>
<text x="483.8" y="401.2" font-size="7.9" text-anchor="end" fill="#1a1a1a" stroke="#1a1a1a" stroke-width="0.15">7000</text>
<line x1="486.5" y1="518.28" x2="484.9" y2="518.28" stroke="#222" stroke-width="0.8"/>
<line x1="486.5" y1="499.84" x2="484.9" y2="499.84" stroke="#222" stroke-width="0.8"/>
<line x1="486.5" y1="481.39" x2="484.9" y2="481.39" stroke="#222" stroke-width="0.8"/>
<line x1="486.5" y1="462.95" x2="484.9" y2="462.95" stroke="#222" stroke-width="0.8"/>
<line x1="486.5" y1="444.51" x2="484.9" y2="444.51" stroke="#222" stroke-width="0.8"/>
<line x1="486.5" y1="426.06" x2="484.9" y2="426.06" stroke="#222" stroke-width="0.8"/>
<line x1="486.5" y1="407.62" x2="484.9" y2="407.62" stroke="#222" stroke-width="0.8"/>
<line x1="535.5" y1="536.4" x2="535.5" y2="539" stroke="#222" stroke-width="0.9"/>
<line x1="634.3" y1="536.4" x2="634.3" y2="539" stroke="#222" stroke-width="0.9"/>
<text x="538.2" y="555" font-size="9.55" text-anchor="middle" fill="#1a1a1a" stroke="#1a1a1a" stroke-width="0.15">Film devices</text>
<text x="637.6" y="555" font-size="9.55" text-anchor="middle" fill="#1a1a1a" stroke="#1a1a1a" stroke-width="0.15">Spherulite devices</text>
<text x="461.4" y="463" font-size="9.75" text-anchor="middle" fill="#1a1a1a" stroke="#1a1a1a" stroke-width="0.15" transform="rotate(-90 461.4 463)">Luminance (cd cm<tspan font-size="64%" dy="-0.58em">-2</tspan><tspan dy="0.371em">)</tspan></text>
<line x1="499.4" y1="414.9" x2="509.8" y2="414.9" stroke="#333" stroke-width="1"/>
<rect x="502.9" y="421.9" width="3.3" height="3.3" fill="#fff" stroke="#666" stroke-width="0.7"/>
<path d="M504.6,430.8 L506.9,433.1 L504.6,435.4 L502.3,433.1 Z" fill="#000"/>
<text x="513.2" y="417" font-size="7.4" fill="#1a1a1a" stroke="#1a1a1a" stroke-width="0.15">median</text>
<text x="513.2" y="426.2" font-size="7.4" fill="#1a1a1a" stroke="#1a1a1a" stroke-width="0.15">average</text>
<text x="513.2" y="436" font-size="7.4" fill="#1a1a1a" stroke="#1a1a1a" stroke-width="0.15">luminance</text>
</g>
</svg>
</body>
</html>
